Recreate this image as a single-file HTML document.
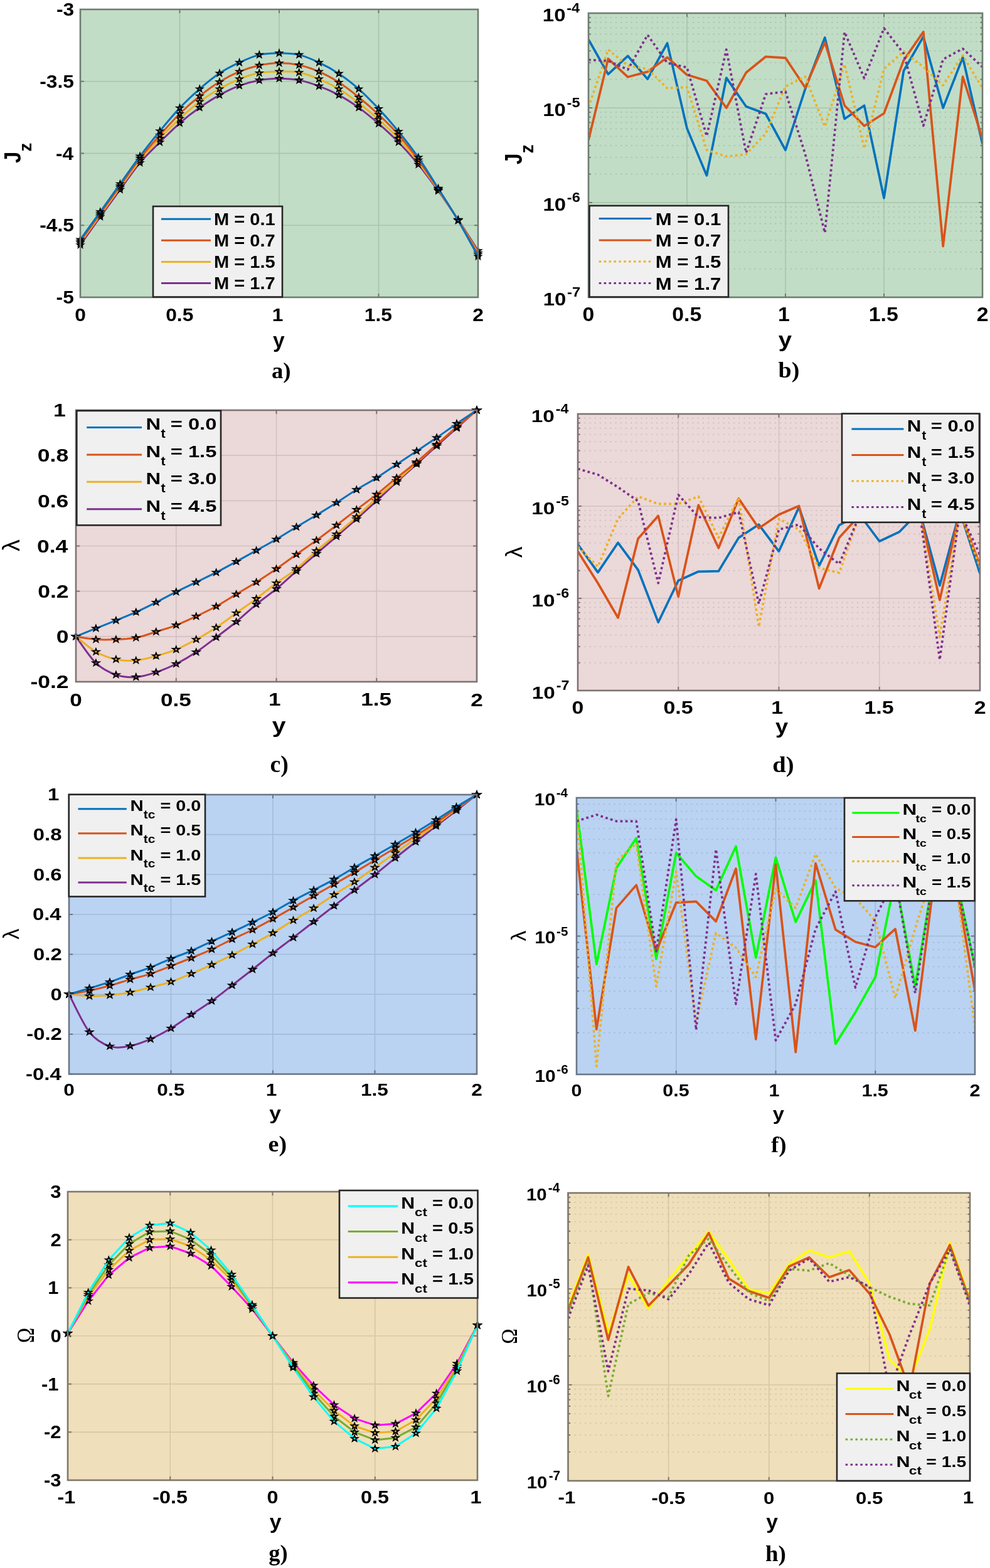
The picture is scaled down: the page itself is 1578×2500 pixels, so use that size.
<!DOCTYPE html>
<html><head><meta charset="utf-8"><title>Figure</title>
<style>html,body{margin:0;padding:0;background:#fff;}svg{display:block;}</style></head>
<body><svg xmlns="http://www.w3.org/2000/svg" width="1578" height="2500" viewBox="0 0 1578 2500">
<rect width="1578" height="2500" fill="#fff"/>
<rect x="128" y="15" width="634" height="459" fill="#c2ddc6"/>
<line x1="286.5" y1="15" x2="286.5" y2="474" stroke="#a9c3ad" stroke-width="1.6"/>
<line x1="445" y1="15" x2="445" y2="474" stroke="#a9c3ad" stroke-width="1.6"/>
<line x1="603.5" y1="15" x2="603.5" y2="474" stroke="#a9c3ad" stroke-width="1.6"/>
<line x1="128" y1="359.25" x2="762" y2="359.25" stroke="#a9c3ad" stroke-width="1.6"/>
<line x1="128" y1="244.5" x2="762" y2="244.5" stroke="#a9c3ad" stroke-width="1.6"/>
<line x1="128" y1="129.75" x2="762" y2="129.75" stroke="#a9c3ad" stroke-width="1.6"/>
<path d="M128.0,390.5 C133.3,383.1 149.1,360.5 159.7,345.8 C170.3,331.1 180.8,316.7 191.4,302.4 C202.0,288.0 212.5,272.2 223.1,259.6 C233.7,247.0 244.2,237.4 254.8,226.8 C265.4,216.3 275.9,205.5 286.5,196.3 C297.1,187.1 307.6,179.0 318.2,171.6 C328.8,164.1 339.3,157.4 349.9,151.6 C360.5,145.7 371.0,140.5 381.6,136.6 C392.2,132.6 402.7,129.8 413.3,127.9 C423.9,126.0 434.4,125.3 445.0,125.3 C455.6,125.3 466.1,125.9 476.7,127.9 C487.3,129.9 497.8,133.4 508.4,137.4 C519.0,141.3 529.5,145.9 540.1,151.6 C550.7,157.3 561.2,164.0 571.8,171.6 C582.4,179.2 592.9,187.9 603.5,197.1 C614.1,206.3 624.6,215.9 635.2,226.7 C645.8,237.6 656.3,249.3 666.9,262.2 C677.5,275.2 688.0,289.6 698.6,304.3 C709.2,319.0 719.7,334.5 730.3,350.4 C740.9,366.3 756.7,391.5 762.0,399.7" fill="none" stroke="#7E2F8E" stroke-width="3.0" stroke-linejoin="round"/>
<polygon points="128.0,385.5 129.2,388.9 133.0,389.0 130.0,391.1 131.1,394.6 128.0,392.5 124.9,394.6 126.0,391.1 123.0,389.0 126.8,388.9" fill="none" stroke="#000" stroke-width="1.9" stroke-linejoin="miter" stroke-miterlimit="6"/>
<polygon points="159.7,340.8 160.9,344.2 164.7,344.2 161.7,346.4 162.8,349.8 159.7,347.8 156.6,349.8 157.7,346.4 154.7,344.2 158.5,344.2" fill="none" stroke="#000" stroke-width="1.9" stroke-linejoin="miter" stroke-miterlimit="6"/>
<polygon points="191.4,297.4 192.6,300.8 196.4,300.8 193.4,303.0 194.5,306.4 191.4,304.4 188.3,306.4 189.4,303.0 186.4,300.8 190.2,300.8" fill="none" stroke="#000" stroke-width="1.9" stroke-linejoin="miter" stroke-miterlimit="6"/>
<polygon points="223.1,254.6 224.3,258.0 228.1,258.1 225.1,260.2 226.2,263.7 223.1,261.6 220.0,263.7 221.1,260.2 218.1,258.1 221.9,258.0" fill="none" stroke="#000" stroke-width="1.9" stroke-linejoin="miter" stroke-miterlimit="6"/>
<polygon points="254.8,221.8 256.0,225.2 259.8,225.3 256.8,227.5 257.9,230.9 254.8,228.8 251.7,230.9 252.8,227.5 249.8,225.3 253.6,225.2" fill="none" stroke="#000" stroke-width="1.9" stroke-linejoin="miter" stroke-miterlimit="6"/>
<polygon points="286.5,191.3 287.7,194.7 291.5,194.8 288.5,196.9 289.6,200.4 286.5,198.3 283.4,200.4 284.5,196.9 281.5,194.8 285.3,194.7" fill="none" stroke="#000" stroke-width="1.9" stroke-linejoin="miter" stroke-miterlimit="6"/>
<polygon points="318.2,166.6 319.4,170.0 323.2,170.0 320.2,172.2 321.3,175.6 318.2,173.6 315.1,175.6 316.2,172.2 313.2,170.0 317.0,170.0" fill="none" stroke="#000" stroke-width="1.9" stroke-linejoin="miter" stroke-miterlimit="6"/>
<polygon points="349.9,146.6 351.1,150.0 354.9,150.0 351.9,152.2 353.0,155.6 349.9,153.6 346.8,155.6 347.9,152.2 344.9,150.0 348.7,150.0" fill="none" stroke="#000" stroke-width="1.9" stroke-linejoin="miter" stroke-miterlimit="6"/>
<polygon points="381.6,131.6 382.8,135.0 386.6,135.0 383.6,137.2 384.7,140.6 381.6,138.6 378.5,140.6 379.6,137.2 376.6,135.0 380.4,135.0" fill="none" stroke="#000" stroke-width="1.9" stroke-linejoin="miter" stroke-miterlimit="6"/>
<polygon points="413.3,122.9 414.5,126.3 418.3,126.3 415.3,128.5 416.4,131.9 413.3,129.9 410.2,131.9 411.3,128.5 408.3,126.3 412.1,126.3" fill="none" stroke="#000" stroke-width="1.9" stroke-linejoin="miter" stroke-miterlimit="6"/>
<polygon points="445.0,120.3 446.2,123.6 450.0,123.7 447.0,125.9 448.1,129.3 445.0,127.3 441.9,129.3 443.0,125.9 440.0,123.7 443.8,123.6" fill="none" stroke="#000" stroke-width="1.9" stroke-linejoin="miter" stroke-miterlimit="6"/>
<polygon points="476.7,122.9 477.9,126.3 481.7,126.3 478.7,128.5 479.8,131.9 476.7,129.9 473.6,131.9 474.7,128.5 471.7,126.3 475.5,126.3" fill="none" stroke="#000" stroke-width="1.9" stroke-linejoin="miter" stroke-miterlimit="6"/>
<polygon points="508.4,132.4 509.6,135.8 513.4,135.8 510.4,138.0 511.5,141.4 508.4,139.4 505.3,141.4 506.4,138.0 503.4,135.8 507.2,135.8" fill="none" stroke="#000" stroke-width="1.9" stroke-linejoin="miter" stroke-miterlimit="6"/>
<polygon points="540.1,146.6 541.3,150.0 545.1,150.0 542.1,152.2 543.2,155.6 540.1,153.6 537.0,155.6 538.1,152.2 535.1,150.0 538.9,150.0" fill="none" stroke="#000" stroke-width="1.9" stroke-linejoin="miter" stroke-miterlimit="6"/>
<polygon points="571.8,166.6 573.0,170.0 576.8,170.0 573.8,172.2 574.9,175.6 571.8,173.6 568.7,175.6 569.8,172.2 566.8,170.0 570.6,170.0" fill="none" stroke="#000" stroke-width="1.9" stroke-linejoin="miter" stroke-miterlimit="6"/>
<polygon points="603.5,192.1 604.7,195.5 608.5,195.6 605.5,197.7 606.6,201.2 603.5,199.1 600.4,201.2 601.5,197.7 598.5,195.6 602.3,195.5" fill="none" stroke="#000" stroke-width="1.9" stroke-linejoin="miter" stroke-miterlimit="6"/>
<polygon points="635.2,221.7 636.4,225.1 640.2,225.2 637.2,227.3 638.3,230.8 635.2,228.7 632.1,230.8 633.2,227.3 630.2,225.2 634.0,225.1" fill="none" stroke="#000" stroke-width="1.9" stroke-linejoin="miter" stroke-miterlimit="6"/>
<polygon points="666.9,257.2 668.1,260.6 671.9,260.7 668.9,262.9 670.0,266.3 666.9,264.2 663.8,266.3 664.9,262.9 661.9,260.7 665.7,260.6" fill="none" stroke="#000" stroke-width="1.9" stroke-linejoin="miter" stroke-miterlimit="6"/>
<polygon points="698.6,299.3 699.8,302.7 703.6,302.8 700.6,305.0 701.7,308.4 698.6,306.3 695.5,308.4 696.6,305.0 693.6,302.8 697.4,302.7" fill="none" stroke="#000" stroke-width="1.9" stroke-linejoin="miter" stroke-miterlimit="6"/>
<polygon points="730.3,345.4 731.5,348.8 735.3,348.8 732.3,351.0 733.4,354.4 730.3,352.4 727.2,354.4 728.3,351.0 725.3,348.8 729.1,348.8" fill="none" stroke="#000" stroke-width="1.9" stroke-linejoin="miter" stroke-miterlimit="6"/>
<polygon points="762.0,394.7 763.2,398.1 767.0,398.2 764.0,400.4 765.1,403.8 762.0,401.7 758.9,403.8 760.0,400.4 757.0,398.2 760.8,398.1" fill="none" stroke="#000" stroke-width="1.9" stroke-linejoin="miter" stroke-miterlimit="6"/>
<path d="M128.0,387.2 C133.3,379.9 149.1,357.9 159.7,343.2 C170.3,328.5 180.8,313.6 191.4,299.1 C202.0,284.6 212.5,269.1 223.1,256.1 C233.7,243.0 244.2,231.9 254.8,220.8 C265.4,209.6 275.9,199.0 286.5,189.2 C297.1,179.4 307.6,170.0 318.2,162.1 C328.8,154.2 339.3,147.9 349.9,141.8 C360.5,135.8 371.0,130.3 381.6,126.1 C392.2,121.8 402.7,118.3 413.3,116.3 C423.9,114.3 434.4,114.3 445.0,114.2 C455.6,114.1 466.1,113.6 476.7,115.5 C487.3,117.5 497.8,121.7 508.4,126.1 C519.0,130.4 529.5,135.5 540.1,141.8 C550.7,148.2 561.2,156.1 571.8,164.2 C582.4,172.3 592.9,181.1 603.5,190.5 C614.1,200.0 624.6,209.4 635.2,220.8 C645.8,232.1 656.3,245.0 666.9,258.7 C677.5,272.4 688.0,287.7 698.6,303.0 C709.2,318.4 719.7,334.1 730.3,350.8 C740.9,367.5 756.7,394.3 762.0,403.0" fill="none" stroke="#EDB120" stroke-width="3.0" stroke-linejoin="round"/>
<polygon points="128.0,382.2 129.2,385.6 133.0,385.7 130.0,387.9 131.1,391.3 128.0,389.2 124.9,391.3 126.0,387.9 123.0,385.7 126.8,385.6" fill="none" stroke="#000" stroke-width="1.9" stroke-linejoin="miter" stroke-miterlimit="6"/>
<polygon points="159.7,338.2 160.9,341.5 164.7,341.6 161.7,343.8 162.8,347.2 159.7,345.2 156.6,347.2 157.7,343.8 154.7,341.6 158.5,341.5" fill="none" stroke="#000" stroke-width="1.9" stroke-linejoin="miter" stroke-miterlimit="6"/>
<polygon points="191.4,294.1 192.6,297.5 196.4,297.5 193.4,299.7 194.5,303.1 191.4,301.1 188.3,303.1 189.4,299.7 186.4,297.5 190.2,297.5" fill="none" stroke="#000" stroke-width="1.9" stroke-linejoin="miter" stroke-miterlimit="6"/>
<polygon points="223.1,251.1 224.3,254.4 228.1,254.5 225.1,256.7 226.2,260.1 223.1,258.1 220.0,260.1 221.1,256.7 218.1,254.5 221.9,254.4" fill="none" stroke="#000" stroke-width="1.9" stroke-linejoin="miter" stroke-miterlimit="6"/>
<polygon points="254.8,215.8 256.0,219.2 259.8,219.2 256.8,221.4 257.9,224.8 254.8,222.8 251.7,224.8 252.8,221.4 249.8,219.2 253.6,219.2" fill="none" stroke="#000" stroke-width="1.9" stroke-linejoin="miter" stroke-miterlimit="6"/>
<polygon points="286.5,184.2 287.7,187.6 291.5,187.7 288.5,189.8 289.6,193.3 286.5,191.2 283.4,193.3 284.5,189.8 281.5,187.7 285.3,187.6" fill="none" stroke="#000" stroke-width="1.9" stroke-linejoin="miter" stroke-miterlimit="6"/>
<polygon points="318.2,157.1 319.4,160.5 323.2,160.6 320.2,162.7 321.3,166.2 318.2,164.1 315.1,166.2 316.2,162.7 313.2,160.6 317.0,160.5" fill="none" stroke="#000" stroke-width="1.9" stroke-linejoin="miter" stroke-miterlimit="6"/>
<polygon points="349.9,136.8 351.1,140.2 354.9,140.3 351.9,142.5 353.0,145.9 349.9,143.8 346.8,145.9 347.9,142.5 344.9,140.3 348.7,140.2" fill="none" stroke="#000" stroke-width="1.9" stroke-linejoin="miter" stroke-miterlimit="6"/>
<polygon points="381.6,121.1 382.8,124.4 386.6,124.5 383.6,126.7 384.7,130.1 381.6,128.1 378.5,130.1 379.6,126.7 376.6,124.5 380.4,124.4" fill="none" stroke="#000" stroke-width="1.9" stroke-linejoin="miter" stroke-miterlimit="6"/>
<polygon points="413.3,111.3 414.5,114.7 418.3,114.8 415.3,116.9 416.4,120.4 413.3,118.3 410.2,120.4 411.3,116.9 408.3,114.8 412.1,114.7" fill="none" stroke="#000" stroke-width="1.9" stroke-linejoin="miter" stroke-miterlimit="6"/>
<polygon points="445.0,109.2 446.2,112.6 450.0,112.7 447.0,114.8 448.1,118.3 445.0,116.2 441.9,118.3 443.0,114.8 440.0,112.7 443.8,112.6" fill="none" stroke="#000" stroke-width="1.9" stroke-linejoin="miter" stroke-miterlimit="6"/>
<polygon points="476.7,110.5 477.9,113.9 481.7,114.0 478.7,116.1 479.8,119.6 476.7,117.5 473.6,119.6 474.7,116.1 471.7,114.0 475.5,113.9" fill="none" stroke="#000" stroke-width="1.9" stroke-linejoin="miter" stroke-miterlimit="6"/>
<polygon points="508.4,121.1 509.6,124.4 513.4,124.5 510.4,126.7 511.5,130.1 508.4,128.1 505.3,130.1 506.4,126.7 503.4,124.5 507.2,124.4" fill="none" stroke="#000" stroke-width="1.9" stroke-linejoin="miter" stroke-miterlimit="6"/>
<polygon points="540.1,136.8 541.3,140.2 545.1,140.3 542.1,142.5 543.2,145.9 540.1,143.8 537.0,145.9 538.1,142.5 535.1,140.3 538.9,140.2" fill="none" stroke="#000" stroke-width="1.9" stroke-linejoin="miter" stroke-miterlimit="6"/>
<polygon points="571.8,159.2 573.0,162.6 576.8,162.7 573.8,164.8 574.9,168.3 571.8,166.2 568.7,168.3 569.8,164.8 566.8,162.7 570.6,162.6" fill="none" stroke="#000" stroke-width="1.9" stroke-linejoin="miter" stroke-miterlimit="6"/>
<polygon points="603.5,185.5 604.7,188.9 608.5,189.0 605.5,191.1 606.6,194.6 603.5,192.5 600.4,194.6 601.5,191.1 598.5,189.0 602.3,188.9" fill="none" stroke="#000" stroke-width="1.9" stroke-linejoin="miter" stroke-miterlimit="6"/>
<polygon points="635.2,215.8 636.4,219.2 640.2,219.2 637.2,221.4 638.3,224.8 635.2,222.8 632.1,224.8 633.2,221.4 630.2,219.2 634.0,219.2" fill="none" stroke="#000" stroke-width="1.9" stroke-linejoin="miter" stroke-miterlimit="6"/>
<polygon points="666.9,253.7 668.1,257.1 671.9,257.1 668.9,259.3 670.0,262.7 666.9,260.7 663.8,262.7 664.9,259.3 661.9,257.1 665.7,257.1" fill="none" stroke="#000" stroke-width="1.9" stroke-linejoin="miter" stroke-miterlimit="6"/>
<polygon points="698.6,298.0 699.8,301.4 703.6,301.5 700.6,303.6 701.7,307.1 698.6,305.0 695.5,307.1 696.6,303.6 693.6,301.5 697.4,301.4" fill="none" stroke="#000" stroke-width="1.9" stroke-linejoin="miter" stroke-miterlimit="6"/>
<polygon points="730.3,345.8 731.5,349.2 735.3,349.2 732.3,351.4 733.4,354.8 730.3,352.8 727.2,354.8 728.3,351.4 725.3,349.2 729.1,349.2" fill="none" stroke="#000" stroke-width="1.9" stroke-linejoin="miter" stroke-miterlimit="6"/>
<polygon points="762.0,398.0 763.2,401.4 767.0,401.5 764.0,403.6 765.1,407.1 762.0,405.0 758.9,407.1 760.0,403.6 757.0,401.5 760.8,401.4" fill="none" stroke="#000" stroke-width="1.9" stroke-linejoin="miter" stroke-miterlimit="6"/>
<path d="M128.0,384.6 C133.3,377.3 149.1,355.2 159.7,340.5 C170.3,325.8 180.8,311.1 191.4,296.4 C202.0,281.8 212.5,265.9 223.1,252.4 C233.7,238.9 244.2,227.4 254.8,215.5 C265.4,203.7 275.9,191.7 286.5,181.3 C297.1,170.9 307.6,161.6 318.2,153.2 C328.8,144.7 339.3,137.0 349.9,130.5 C360.5,124.0 371.0,118.6 381.6,114.2 C392.2,109.8 402.7,106.5 413.3,104.2 C423.9,101.9 434.4,100.6 445.0,100.5 C455.6,100.4 466.1,101.4 476.7,103.7 C487.3,106.0 497.8,109.6 508.4,114.2 C519.0,118.8 529.5,124.5 540.1,131.3 C550.7,138.1 561.2,146.4 571.8,155.0 C582.4,163.6 592.9,172.7 603.5,182.6 C614.1,192.6 624.6,202.8 635.2,214.9 C645.8,226.9 656.3,240.5 666.9,255.0 C677.5,269.5 688.0,285.7 698.6,301.7 C709.2,317.7 719.7,333.7 730.3,351.1 C740.9,368.4 756.7,396.6 762.0,405.7" fill="none" stroke="#D95319" stroke-width="3.0" stroke-linejoin="round"/>
<polygon points="128.0,379.6 129.2,383.0 133.0,383.1 130.0,385.2 131.1,388.7 128.0,386.6 124.9,388.7 126.0,385.2 123.0,383.1 126.8,383.0" fill="none" stroke="#000" stroke-width="1.9" stroke-linejoin="miter" stroke-miterlimit="6"/>
<polygon points="159.7,335.5 160.9,338.9 164.7,339.0 161.7,341.1 162.8,344.6 159.7,342.5 156.6,344.6 157.7,341.1 154.7,339.0 158.5,338.9" fill="none" stroke="#000" stroke-width="1.9" stroke-linejoin="miter" stroke-miterlimit="6"/>
<polygon points="191.4,291.4 192.6,294.8 196.4,294.9 193.4,297.1 194.5,300.5 191.4,298.4 188.3,300.5 189.4,297.1 186.4,294.9 190.2,294.8" fill="none" stroke="#000" stroke-width="1.9" stroke-linejoin="miter" stroke-miterlimit="6"/>
<polygon points="223.1,247.4 224.3,250.8 228.1,250.8 225.1,253.0 226.2,256.4 223.1,254.4 220.0,256.4 221.1,253.0 218.1,250.8 221.9,250.8" fill="none" stroke="#000" stroke-width="1.9" stroke-linejoin="miter" stroke-miterlimit="6"/>
<polygon points="254.8,210.5 256.0,213.9 259.8,214.0 256.8,216.1 257.9,219.6 254.8,217.5 251.7,219.6 252.8,216.1 249.8,214.0 253.6,213.9" fill="none" stroke="#000" stroke-width="1.9" stroke-linejoin="miter" stroke-miterlimit="6"/>
<polygon points="286.5,176.3 287.7,179.7 291.5,179.8 288.5,181.9 289.6,185.4 286.5,183.3 283.4,185.4 284.5,181.9 281.5,179.8 285.3,179.7" fill="none" stroke="#000" stroke-width="1.9" stroke-linejoin="miter" stroke-miterlimit="6"/>
<polygon points="318.2,148.2 319.4,151.5 323.2,151.6 320.2,153.8 321.3,157.2 318.2,155.2 315.1,157.2 316.2,153.8 313.2,151.6 317.0,151.5" fill="none" stroke="#000" stroke-width="1.9" stroke-linejoin="miter" stroke-miterlimit="6"/>
<polygon points="349.9,125.5 351.1,128.9 354.9,129.0 351.9,131.1 353.0,134.6 349.9,132.5 346.8,134.6 347.9,131.1 344.9,129.0 348.7,128.9" fill="none" stroke="#000" stroke-width="1.9" stroke-linejoin="miter" stroke-miterlimit="6"/>
<polygon points="381.6,109.2 382.8,112.6 386.6,112.7 383.6,114.8 384.7,118.3 381.6,116.2 378.5,118.3 379.6,114.8 376.6,112.7 380.4,112.6" fill="none" stroke="#000" stroke-width="1.9" stroke-linejoin="miter" stroke-miterlimit="6"/>
<polygon points="413.3,99.2 414.5,102.6 418.3,102.7 415.3,104.8 416.4,108.3 413.3,106.2 410.2,108.3 411.3,104.8 408.3,102.7 412.1,102.6" fill="none" stroke="#000" stroke-width="1.9" stroke-linejoin="miter" stroke-miterlimit="6"/>
<polygon points="445.0,95.5 446.2,98.9 450.0,99.0 447.0,101.1 448.1,104.6 445.0,102.5 441.9,104.6 443.0,101.1 440.0,99.0 443.8,98.9" fill="none" stroke="#000" stroke-width="1.9" stroke-linejoin="miter" stroke-miterlimit="6"/>
<polygon points="476.7,98.7 477.9,102.1 481.7,102.1 478.7,104.3 479.8,107.7 476.7,105.7 473.6,107.7 474.7,104.3 471.7,102.1 475.5,102.1" fill="none" stroke="#000" stroke-width="1.9" stroke-linejoin="miter" stroke-miterlimit="6"/>
<polygon points="508.4,109.2 509.6,112.6 513.4,112.7 510.4,114.8 511.5,118.3 508.4,116.2 505.3,118.3 506.4,114.8 503.4,112.7 507.2,112.6" fill="none" stroke="#000" stroke-width="1.9" stroke-linejoin="miter" stroke-miterlimit="6"/>
<polygon points="540.1,126.3 541.3,129.7 545.1,129.8 542.1,131.9 543.2,135.4 540.1,133.3 537.0,135.4 538.1,131.9 535.1,129.8 538.9,129.7" fill="none" stroke="#000" stroke-width="1.9" stroke-linejoin="miter" stroke-miterlimit="6"/>
<polygon points="571.8,150.0 573.0,153.4 576.8,153.5 573.8,155.6 574.9,159.0 571.8,157.0 568.7,159.0 569.8,155.6 566.8,153.5 570.6,153.4" fill="none" stroke="#000" stroke-width="1.9" stroke-linejoin="miter" stroke-miterlimit="6"/>
<polygon points="603.5,177.6 604.7,181.0 608.5,181.1 605.5,183.2 606.6,186.7 603.5,184.6 600.4,186.7 601.5,183.2 598.5,181.1 602.3,181.0" fill="none" stroke="#000" stroke-width="1.9" stroke-linejoin="miter" stroke-miterlimit="6"/>
<polygon points="635.2,209.9 636.4,213.3 640.2,213.3 637.2,215.5 638.3,218.9 635.2,216.9 632.1,218.9 633.2,215.5 630.2,213.3 634.0,213.3" fill="none" stroke="#000" stroke-width="1.9" stroke-linejoin="miter" stroke-miterlimit="6"/>
<polygon points="666.9,250.0 668.1,253.4 671.9,253.5 668.9,255.6 670.0,259.0 666.9,257.0 663.8,259.0 664.9,255.6 661.9,253.5 665.7,253.4" fill="none" stroke="#000" stroke-width="1.9" stroke-linejoin="miter" stroke-miterlimit="6"/>
<polygon points="698.6,296.7 699.8,300.1 703.6,300.2 700.6,302.3 701.7,305.8 698.6,303.7 695.5,305.8 696.6,302.3 693.6,300.2 697.4,300.1" fill="none" stroke="#000" stroke-width="1.9" stroke-linejoin="miter" stroke-miterlimit="6"/>
<polygon points="730.3,346.1 731.5,349.4 735.3,349.5 732.3,351.7 733.4,355.1 730.3,353.1 727.2,355.1 728.3,351.7 725.3,349.5 729.1,349.4" fill="none" stroke="#000" stroke-width="1.9" stroke-linejoin="miter" stroke-miterlimit="6"/>
<polygon points="762.0,400.7 763.2,404.0 767.0,404.1 764.0,406.3 765.1,409.7 762.0,407.7 758.9,409.7 760.0,406.3 757.0,404.1 760.8,404.0" fill="none" stroke="#000" stroke-width="1.9" stroke-linejoin="miter" stroke-miterlimit="6"/>
<path d="M128.0,382.0 C133.3,374.6 149.1,352.7 159.7,337.9 C170.3,323.1 180.8,308.0 191.4,293.2 C202.0,278.4 212.5,263.1 223.1,249.1 C233.7,235.0 244.2,221.8 254.8,208.9 C265.4,196.1 275.9,183.3 286.5,172.1 C297.1,160.9 307.6,151.1 318.2,141.8 C328.8,132.6 339.3,123.9 349.9,116.8 C360.5,109.8 371.0,104.6 381.6,99.7 C392.2,94.8 402.7,89.9 413.3,87.4 C423.9,84.9 434.4,84.7 445.0,84.7 C455.6,84.7 466.1,84.9 476.7,87.4 C487.3,89.9 497.8,94.7 508.4,99.7 C519.0,104.7 529.5,110.4 540.1,117.4 C550.7,124.4 561.2,132.5 571.8,141.8 C582.4,151.2 592.9,162.1 603.5,173.4 C614.1,184.7 624.6,196.7 635.2,209.6 C645.8,222.5 656.3,235.9 666.9,251.1 C677.5,266.2 688.0,283.6 698.6,300.4 C709.2,317.2 719.7,333.6 730.3,351.7 C740.9,369.8 756.7,399.4 762.0,408.9" fill="none" stroke="#0072BD" stroke-width="3.0" stroke-linejoin="round"/>
<polygon points="128.0,377.0 129.2,380.4 133.0,380.4 130.0,382.6 131.1,386.0 128.0,384.0 124.9,386.0 126.0,382.6 123.0,380.4 126.8,380.4" fill="none" stroke="#000" stroke-width="1.9" stroke-linejoin="miter" stroke-miterlimit="6"/>
<polygon points="159.7,332.9 160.9,336.3 164.7,336.3 161.7,338.5 162.8,341.9 159.7,339.9 156.6,341.9 157.7,338.5 154.7,336.3 158.5,336.3" fill="none" stroke="#000" stroke-width="1.9" stroke-linejoin="miter" stroke-miterlimit="6"/>
<polygon points="191.4,288.2 192.6,291.5 196.4,291.6 193.4,293.8 194.5,297.2 191.4,295.2 188.3,297.2 189.4,293.8 186.4,291.6 190.2,291.5" fill="none" stroke="#000" stroke-width="1.9" stroke-linejoin="miter" stroke-miterlimit="6"/>
<polygon points="223.1,244.1 224.3,247.5 228.1,247.5 225.1,249.7 226.2,253.1 223.1,251.1 220.0,253.1 221.1,249.7 218.1,247.5 221.9,247.5" fill="none" stroke="#000" stroke-width="1.9" stroke-linejoin="miter" stroke-miterlimit="6"/>
<polygon points="254.8,203.9 256.0,207.3 259.8,207.4 256.8,209.6 257.9,213.0 254.8,210.9 251.7,213.0 252.8,209.6 249.8,207.4 253.6,207.3" fill="none" stroke="#000" stroke-width="1.9" stroke-linejoin="miter" stroke-miterlimit="6"/>
<polygon points="286.5,167.1 287.7,170.5 291.5,170.6 288.5,172.7 289.6,176.2 286.5,174.1 283.4,176.2 284.5,172.7 281.5,170.6 285.3,170.5" fill="none" stroke="#000" stroke-width="1.9" stroke-linejoin="miter" stroke-miterlimit="6"/>
<polygon points="318.2,136.8 319.4,140.2 323.2,140.3 320.2,142.5 321.3,145.9 318.2,143.8 315.1,145.9 316.2,142.5 313.2,140.3 317.0,140.2" fill="none" stroke="#000" stroke-width="1.9" stroke-linejoin="miter" stroke-miterlimit="6"/>
<polygon points="349.9,111.8 351.1,115.2 354.9,115.3 351.9,117.5 353.0,120.9 349.9,118.8 346.8,120.9 347.9,117.5 344.9,115.3 348.7,115.2" fill="none" stroke="#000" stroke-width="1.9" stroke-linejoin="miter" stroke-miterlimit="6"/>
<polygon points="381.6,94.7 382.8,98.1 386.6,98.2 383.6,100.4 384.7,103.8 381.6,101.7 378.5,103.8 379.6,100.4 376.6,98.2 380.4,98.1" fill="none" stroke="#000" stroke-width="1.9" stroke-linejoin="miter" stroke-miterlimit="6"/>
<polygon points="413.3,82.4 414.5,85.8 418.3,85.8 415.3,88.0 416.4,91.4 413.3,89.4 410.2,91.4 411.3,88.0 408.3,85.8 412.1,85.8" fill="none" stroke="#000" stroke-width="1.9" stroke-linejoin="miter" stroke-miterlimit="6"/>
<polygon points="445.0,79.7 446.2,83.1 450.0,83.2 447.0,85.4 448.1,88.8 445.0,86.7 441.9,88.8 443.0,85.4 440.0,83.2 443.8,83.1" fill="none" stroke="#000" stroke-width="1.9" stroke-linejoin="miter" stroke-miterlimit="6"/>
<polygon points="476.7,82.4 477.9,85.8 481.7,85.8 478.7,88.0 479.8,91.4 476.7,89.4 473.6,91.4 474.7,88.0 471.7,85.8 475.5,85.8" fill="none" stroke="#000" stroke-width="1.9" stroke-linejoin="miter" stroke-miterlimit="6"/>
<polygon points="508.4,94.7 509.6,98.1 513.4,98.2 510.4,100.4 511.5,103.8 508.4,101.7 505.3,103.8 506.4,100.4 503.4,98.2 507.2,98.1" fill="none" stroke="#000" stroke-width="1.9" stroke-linejoin="miter" stroke-miterlimit="6"/>
<polygon points="540.1,112.4 541.3,115.8 545.1,115.8 542.1,118.0 543.2,121.4 540.1,119.4 537.0,121.4 538.1,118.0 535.1,115.8 538.9,115.8" fill="none" stroke="#000" stroke-width="1.9" stroke-linejoin="miter" stroke-miterlimit="6"/>
<polygon points="571.8,136.8 573.0,140.2 576.8,140.3 573.8,142.5 574.9,145.9 571.8,143.8 568.7,145.9 569.8,142.5 566.8,140.3 570.6,140.2" fill="none" stroke="#000" stroke-width="1.9" stroke-linejoin="miter" stroke-miterlimit="6"/>
<polygon points="603.5,168.4 604.7,171.8 608.5,171.9 605.5,174.0 606.6,177.5 603.5,175.4 600.4,177.5 601.5,174.0 598.5,171.9 602.3,171.8" fill="none" stroke="#000" stroke-width="1.9" stroke-linejoin="miter" stroke-miterlimit="6"/>
<polygon points="635.2,204.6 636.4,208.0 640.2,208.1 637.2,210.2 638.3,213.7 635.2,211.6 632.1,213.7 633.2,210.2 630.2,208.1 634.0,208.0" fill="none" stroke="#000" stroke-width="1.9" stroke-linejoin="miter" stroke-miterlimit="6"/>
<polygon points="666.9,246.1 668.1,249.4 671.9,249.5 668.9,251.7 670.0,255.1 666.9,253.1 663.8,255.1 664.9,251.7 661.9,249.5 665.7,249.4" fill="none" stroke="#000" stroke-width="1.9" stroke-linejoin="miter" stroke-miterlimit="6"/>
<polygon points="698.6,295.4 699.8,298.8 703.6,298.8 700.6,301.0 701.7,304.4 698.6,302.4 695.5,304.4 696.6,301.0 693.6,298.8 697.4,298.8" fill="none" stroke="#000" stroke-width="1.9" stroke-linejoin="miter" stroke-miterlimit="6"/>
<polygon points="730.3,346.7 731.5,350.1 735.3,350.2 732.3,352.3 733.4,355.8 730.3,353.7 727.2,355.8 728.3,352.3 725.3,350.2 729.1,350.1" fill="none" stroke="#000" stroke-width="1.9" stroke-linejoin="miter" stroke-miterlimit="6"/>
<polygon points="762.0,403.9 763.2,407.3 767.0,407.4 764.0,409.6 765.1,413.0 762.0,410.9 758.9,413.0 760.0,409.6 757.0,407.4 760.8,407.3" fill="none" stroke="#000" stroke-width="1.9" stroke-linejoin="miter" stroke-miterlimit="6"/>
<line x1="128" y1="474" x2="128" y2="468" stroke="#6f7c72" stroke-width="2"/>
<line x1="128" y1="15" x2="128" y2="21" stroke="#6f7c72" stroke-width="2"/>
<line x1="286.5" y1="474" x2="286.5" y2="468" stroke="#6f7c72" stroke-width="2"/>
<line x1="286.5" y1="15" x2="286.5" y2="21" stroke="#6f7c72" stroke-width="2"/>
<line x1="445" y1="474" x2="445" y2="468" stroke="#6f7c72" stroke-width="2"/>
<line x1="445" y1="15" x2="445" y2="21" stroke="#6f7c72" stroke-width="2"/>
<line x1="603.5" y1="474" x2="603.5" y2="468" stroke="#6f7c72" stroke-width="2"/>
<line x1="603.5" y1="15" x2="603.5" y2="21" stroke="#6f7c72" stroke-width="2"/>
<line x1="762" y1="474" x2="762" y2="468" stroke="#6f7c72" stroke-width="2"/>
<line x1="762" y1="15" x2="762" y2="21" stroke="#6f7c72" stroke-width="2"/>
<line x1="128" y1="474" x2="134" y2="474" stroke="#6f7c72" stroke-width="2"/>
<line x1="762" y1="474" x2="756" y2="474" stroke="#6f7c72" stroke-width="2"/>
<line x1="128" y1="359.25" x2="134" y2="359.25" stroke="#6f7c72" stroke-width="2"/>
<line x1="762" y1="359.25" x2="756" y2="359.25" stroke="#6f7c72" stroke-width="2"/>
<line x1="128" y1="244.5" x2="134" y2="244.5" stroke="#6f7c72" stroke-width="2"/>
<line x1="762" y1="244.5" x2="756" y2="244.5" stroke="#6f7c72" stroke-width="2"/>
<line x1="128" y1="129.75" x2="134" y2="129.75" stroke="#6f7c72" stroke-width="2"/>
<line x1="762" y1="129.75" x2="756" y2="129.75" stroke="#6f7c72" stroke-width="2"/>
<line x1="128" y1="15" x2="134" y2="15" stroke="#6f7c72" stroke-width="2"/>
<line x1="762" y1="15" x2="756" y2="15" stroke="#6f7c72" stroke-width="2"/>
<rect x="128" y="15" width="634" height="459" fill="none" stroke="#6f7c72" stroke-width="2.6"/>
<rect x="244" y="329" width="206" height="144.5" fill="#f0f0f0" stroke="#262626" stroke-width="2.6"/>
<line x1="257" y1="349.2" x2="336" y2="349.2" stroke="#0072BD" stroke-width="3"/>
<text transform="translate(341.01,359.10) scale(1.0494,1)" font-family='"Liberation Sans", Arial, Helvetica, sans-serif' font-size="27.71" font-weight="bold" fill="#000">M = 0.1</text>
<line x1="257" y1="383.3" x2="336" y2="383.3" stroke="#D95319" stroke-width="3"/>
<text transform="translate(341.01,393.20) scale(1.0494,1)" font-family='"Liberation Sans", Arial, Helvetica, sans-serif' font-size="27.71" font-weight="bold" fill="#000">M = 0.7</text>
<line x1="257" y1="417.4" x2="336" y2="417.4" stroke="#EDB120" stroke-width="3"/>
<text transform="translate(341.01,427.30) scale(1.0494,1)" font-family='"Liberation Sans", Arial, Helvetica, sans-serif' font-size="27.71" font-weight="bold" fill="#000">M = 1.5</text>
<line x1="257" y1="451.5" x2="336" y2="451.5" stroke="#7E2F8E" stroke-width="3"/>
<text transform="translate(341.01,461.40) scale(1.0494,1)" font-family='"Liberation Sans", Arial, Helvetica, sans-serif' font-size="27.71" font-weight="bold" fill="#000">M = 1.7</text>
<text transform="translate(119.18,512.10) scale(1.0600,1)" font-family='"Liberation Sans", Arial, Helvetica, sans-serif' font-size="30.00" font-weight="bold" fill="#000">0</text>
<text transform="translate(264.16,512.10) scale(1.0600,1)" font-family='"Liberation Sans", Arial, Helvetica, sans-serif' font-size="30.00" font-weight="bold" fill="#000">0.5</text>
<text transform="translate(433.63,511.80) scale(1.0600,1)" font-family='"Liberation Sans", Arial, Helvetica, sans-serif' font-size="30.00" font-weight="bold" fill="#000">1</text>
<text transform="translate(580.76,511.80) scale(1.0600,1)" font-family='"Liberation Sans", Arial, Helvetica, sans-serif' font-size="30.00" font-weight="bold" fill="#000">1.5</text>
<text transform="translate(753.25,512.10) scale(1.0600,1)" font-family='"Liberation Sans", Arial, Helvetica, sans-serif' font-size="30.00" font-weight="bold" fill="#000">2</text>
<text transform="translate(89.57,484.20) scale(1.0570,1)" font-family='"Liberation Sans", Arial, Helvetica, sans-serif' font-size="30.00" font-weight="bold" fill="#000">-5</text>
<text transform="translate(63.25,369.45) scale(1.0570,1)" font-family='"Liberation Sans", Arial, Helvetica, sans-serif' font-size="30.00" font-weight="bold" fill="#000">-4.5</text>
<text transform="translate(88.94,254.85) scale(1.0570,1)" font-family='"Liberation Sans", Arial, Helvetica, sans-serif' font-size="30.00" font-weight="bold" fill="#000">-4</text>
<text transform="translate(63.25,140.10) scale(1.0570,1)" font-family='"Liberation Sans", Arial, Helvetica, sans-serif' font-size="30.00" font-weight="bold" fill="#000">-3.5</text>
<text transform="translate(89.89,25.35) scale(1.0570,1)" font-family='"Liberation Sans", Arial, Helvetica, sans-serif' font-size="30.00" font-weight="bold" fill="#000">-3</text>
<rect x="938" y="21" width="628" height="453" fill="#c2ddc6"/>
<line x1="1095" y1="21" x2="1095" y2="474" stroke="#a9c3ad" stroke-width="1.6"/>
<line x1="1252" y1="21" x2="1252" y2="474" stroke="#a9c3ad" stroke-width="1.6"/>
<line x1="1409" y1="21" x2="1409" y2="474" stroke="#a9c3ad" stroke-width="1.6"/>
<line x1="938" y1="323" x2="1566" y2="323" stroke="#a9c3ad" stroke-width="1.6"/>
<line x1="938" y1="172" x2="1566" y2="172" stroke="#a9c3ad" stroke-width="1.6"/>
<line x1="940" y1="428.54" x2="1566" y2="428.54" stroke="#a9c3ad" stroke-width="1.8" stroke-dasharray="2.2,6.0"/>
<line x1="938" y1="428.54" x2="941.6" y2="428.54" stroke="#6f7c72" stroke-width="2"/>
<line x1="1566" y1="428.54" x2="1562.4" y2="428.54" stroke="#6f7c72" stroke-width="2"/>
<line x1="940" y1="401.95" x2="1566" y2="401.95" stroke="#a9c3ad" stroke-width="1.8" stroke-dasharray="2.2,6.0"/>
<line x1="938" y1="401.95" x2="941.6" y2="401.95" stroke="#6f7c72" stroke-width="2"/>
<line x1="1566" y1="401.95" x2="1562.4" y2="401.95" stroke="#6f7c72" stroke-width="2"/>
<line x1="940" y1="383.09" x2="1566" y2="383.09" stroke="#a9c3ad" stroke-width="1.8" stroke-dasharray="2.2,6.0"/>
<line x1="938" y1="383.09" x2="941.6" y2="383.09" stroke="#6f7c72" stroke-width="2"/>
<line x1="1566" y1="383.09" x2="1562.4" y2="383.09" stroke="#6f7c72" stroke-width="2"/>
<line x1="940" y1="368.46" x2="1566" y2="368.46" stroke="#a9c3ad" stroke-width="1.8" stroke-dasharray="2.2,6.0"/>
<line x1="938" y1="368.46" x2="941.6" y2="368.46" stroke="#6f7c72" stroke-width="2"/>
<line x1="1566" y1="368.46" x2="1562.4" y2="368.46" stroke="#6f7c72" stroke-width="2"/>
<line x1="940" y1="356.5" x2="1566" y2="356.5" stroke="#a9c3ad" stroke-width="1.8" stroke-dasharray="2.2,6.0"/>
<line x1="938" y1="356.5" x2="941.6" y2="356.5" stroke="#6f7c72" stroke-width="2"/>
<line x1="1566" y1="356.5" x2="1562.4" y2="356.5" stroke="#6f7c72" stroke-width="2"/>
<line x1="940" y1="346.39" x2="1566" y2="346.39" stroke="#a9c3ad" stroke-width="1.8" stroke-dasharray="2.2,6.0"/>
<line x1="938" y1="346.39" x2="941.6" y2="346.39" stroke="#6f7c72" stroke-width="2"/>
<line x1="1566" y1="346.39" x2="1562.4" y2="346.39" stroke="#6f7c72" stroke-width="2"/>
<line x1="940" y1="337.63" x2="1566" y2="337.63" stroke="#a9c3ad" stroke-width="1.8" stroke-dasharray="2.2,6.0"/>
<line x1="938" y1="337.63" x2="941.6" y2="337.63" stroke="#6f7c72" stroke-width="2"/>
<line x1="1566" y1="337.63" x2="1562.4" y2="337.63" stroke="#6f7c72" stroke-width="2"/>
<line x1="940" y1="329.91" x2="1566" y2="329.91" stroke="#a9c3ad" stroke-width="1.8" stroke-dasharray="2.2,6.0"/>
<line x1="938" y1="329.91" x2="941.6" y2="329.91" stroke="#6f7c72" stroke-width="2"/>
<line x1="1566" y1="329.91" x2="1562.4" y2="329.91" stroke="#6f7c72" stroke-width="2"/>
<line x1="940" y1="277.54" x2="1566" y2="277.54" stroke="#a9c3ad" stroke-width="1.8" stroke-dasharray="2.2,6.0"/>
<line x1="938" y1="277.54" x2="941.6" y2="277.54" stroke="#6f7c72" stroke-width="2"/>
<line x1="1566" y1="277.54" x2="1562.4" y2="277.54" stroke="#6f7c72" stroke-width="2"/>
<line x1="940" y1="250.95" x2="1566" y2="250.95" stroke="#a9c3ad" stroke-width="1.8" stroke-dasharray="2.2,6.0"/>
<line x1="938" y1="250.95" x2="941.6" y2="250.95" stroke="#6f7c72" stroke-width="2"/>
<line x1="1566" y1="250.95" x2="1562.4" y2="250.95" stroke="#6f7c72" stroke-width="2"/>
<line x1="940" y1="232.09" x2="1566" y2="232.09" stroke="#a9c3ad" stroke-width="1.8" stroke-dasharray="2.2,6.0"/>
<line x1="938" y1="232.09" x2="941.6" y2="232.09" stroke="#6f7c72" stroke-width="2"/>
<line x1="1566" y1="232.09" x2="1562.4" y2="232.09" stroke="#6f7c72" stroke-width="2"/>
<line x1="940" y1="217.46" x2="1566" y2="217.46" stroke="#a9c3ad" stroke-width="1.8" stroke-dasharray="2.2,6.0"/>
<line x1="938" y1="217.46" x2="941.6" y2="217.46" stroke="#6f7c72" stroke-width="2"/>
<line x1="1566" y1="217.46" x2="1562.4" y2="217.46" stroke="#6f7c72" stroke-width="2"/>
<line x1="940" y1="205.5" x2="1566" y2="205.5" stroke="#a9c3ad" stroke-width="1.8" stroke-dasharray="2.2,6.0"/>
<line x1="938" y1="205.5" x2="941.6" y2="205.5" stroke="#6f7c72" stroke-width="2"/>
<line x1="1566" y1="205.5" x2="1562.4" y2="205.5" stroke="#6f7c72" stroke-width="2"/>
<line x1="940" y1="195.39" x2="1566" y2="195.39" stroke="#a9c3ad" stroke-width="1.8" stroke-dasharray="2.2,6.0"/>
<line x1="938" y1="195.39" x2="941.6" y2="195.39" stroke="#6f7c72" stroke-width="2"/>
<line x1="1566" y1="195.39" x2="1562.4" y2="195.39" stroke="#6f7c72" stroke-width="2"/>
<line x1="940" y1="186.63" x2="1566" y2="186.63" stroke="#a9c3ad" stroke-width="1.8" stroke-dasharray="2.2,6.0"/>
<line x1="938" y1="186.63" x2="941.6" y2="186.63" stroke="#6f7c72" stroke-width="2"/>
<line x1="1566" y1="186.63" x2="1562.4" y2="186.63" stroke="#6f7c72" stroke-width="2"/>
<line x1="940" y1="178.91" x2="1566" y2="178.91" stroke="#a9c3ad" stroke-width="1.8" stroke-dasharray="2.2,6.0"/>
<line x1="938" y1="178.91" x2="941.6" y2="178.91" stroke="#6f7c72" stroke-width="2"/>
<line x1="1566" y1="178.91" x2="1562.4" y2="178.91" stroke="#6f7c72" stroke-width="2"/>
<line x1="940" y1="126.54" x2="1566" y2="126.54" stroke="#a9c3ad" stroke-width="1.8" stroke-dasharray="2.2,6.0"/>
<line x1="938" y1="126.54" x2="941.6" y2="126.54" stroke="#6f7c72" stroke-width="2"/>
<line x1="1566" y1="126.54" x2="1562.4" y2="126.54" stroke="#6f7c72" stroke-width="2"/>
<line x1="940" y1="99.95" x2="1566" y2="99.95" stroke="#a9c3ad" stroke-width="1.8" stroke-dasharray="2.2,6.0"/>
<line x1="938" y1="99.95" x2="941.6" y2="99.95" stroke="#6f7c72" stroke-width="2"/>
<line x1="1566" y1="99.95" x2="1562.4" y2="99.95" stroke="#6f7c72" stroke-width="2"/>
<line x1="940" y1="81.09" x2="1566" y2="81.09" stroke="#a9c3ad" stroke-width="1.8" stroke-dasharray="2.2,6.0"/>
<line x1="938" y1="81.09" x2="941.6" y2="81.09" stroke="#6f7c72" stroke-width="2"/>
<line x1="1566" y1="81.09" x2="1562.4" y2="81.09" stroke="#6f7c72" stroke-width="2"/>
<line x1="940" y1="66.46" x2="1566" y2="66.46" stroke="#a9c3ad" stroke-width="1.8" stroke-dasharray="2.2,6.0"/>
<line x1="938" y1="66.46" x2="941.6" y2="66.46" stroke="#6f7c72" stroke-width="2"/>
<line x1="1566" y1="66.46" x2="1562.4" y2="66.46" stroke="#6f7c72" stroke-width="2"/>
<line x1="940" y1="54.5" x2="1566" y2="54.5" stroke="#a9c3ad" stroke-width="1.8" stroke-dasharray="2.2,6.0"/>
<line x1="938" y1="54.5" x2="941.6" y2="54.5" stroke="#6f7c72" stroke-width="2"/>
<line x1="1566" y1="54.5" x2="1562.4" y2="54.5" stroke="#6f7c72" stroke-width="2"/>
<line x1="940" y1="44.39" x2="1566" y2="44.39" stroke="#a9c3ad" stroke-width="1.8" stroke-dasharray="2.2,6.0"/>
<line x1="938" y1="44.39" x2="941.6" y2="44.39" stroke="#6f7c72" stroke-width="2"/>
<line x1="1566" y1="44.39" x2="1562.4" y2="44.39" stroke="#6f7c72" stroke-width="2"/>
<line x1="940" y1="35.63" x2="1566" y2="35.63" stroke="#a9c3ad" stroke-width="1.8" stroke-dasharray="2.2,6.0"/>
<line x1="938" y1="35.63" x2="941.6" y2="35.63" stroke="#6f7c72" stroke-width="2"/>
<line x1="1566" y1="35.63" x2="1562.4" y2="35.63" stroke="#6f7c72" stroke-width="2"/>
<line x1="940" y1="27.91" x2="1566" y2="27.91" stroke="#a9c3ad" stroke-width="1.8" stroke-dasharray="2.2,6.0"/>
<line x1="938" y1="27.91" x2="941.6" y2="27.91" stroke="#6f7c72" stroke-width="2"/>
<line x1="1566" y1="27.91" x2="1562.4" y2="27.91" stroke="#6f7c72" stroke-width="2"/>
<clipPath id="cb"><rect x="938" y="21" width="628" height="453"/></clipPath>
<g clip-path="url(#cb)">
<polyline points="938.0,62.9 969.4,118.3 1000.8,89.2 1032.2,126.1 1063.6,68.9 1095.0,204.6 1126.4,279.8 1157.8,124.1 1189.2,169.7 1220.6,181.5 1252.0,239.3 1283.4,142.0 1314.8,59.9 1346.2,189.5 1377.6,168.3 1409.0,315.8 1440.4,113.0 1471.8,58.4 1503.2,172.1 1534.6,91.5 1566.0,229.7" fill="none" stroke="#0072BD" stroke-width="3.7" stroke-linejoin="round"/>
<polyline points="938.0,223.4 969.4,93.7 1000.8,122.8 1032.2,114.4 1063.6,91.4 1095.0,119.3 1126.4,128.8 1157.8,172.0 1189.2,115.8 1220.6,90.3 1252.0,92.3 1283.4,139.7 1314.8,67.4 1346.2,168.3 1377.6,200.7 1409.0,180.8 1440.4,96.1 1471.8,50.7 1503.2,392.6 1534.6,122.2 1566.0,221.3" fill="none" stroke="#D95319" stroke-width="3.7" stroke-linejoin="round"/>
<polyline points="938.0,170.9 969.4,79.1 1000.8,104.9 1032.2,109.9 1063.6,140.7 1095.0,139.0 1126.4,239.0 1157.8,249.6 1189.2,246.0 1220.6,212.9 1252.0,137.8 1283.4,122.2 1314.8,201.9 1346.2,102.3 1377.6,236.8 1409.0,109.8 1440.4,82.2 1471.8,106.8 1503.2,136.0 1534.6,88.4 1566.0,140.6" fill="none" stroke="#EDB120" stroke-width="3.7" stroke-linejoin="round" stroke-dasharray="3.7,4.4"/>
<polyline points="938.0,95.4 969.4,97.0 1000.8,111.0 1032.2,55.7 1063.6,100.4 1095.0,107.5 1126.4,217.0 1157.8,79.0 1189.2,243.7 1220.6,150.1 1252.0,145.9 1283.4,245.5 1314.8,371.0 1346.2,51.2 1377.6,124.7 1409.0,45.0 1440.4,85.3 1471.8,200.5 1503.2,94.5 1534.6,77.6 1566.0,106.8" fill="none" stroke="#7E2F8E" stroke-width="3.7" stroke-linejoin="round" stroke-dasharray="3.7,4.4"/>
</g>
<line x1="938" y1="474" x2="938" y2="468" stroke="#6f7c72" stroke-width="2"/>
<line x1="938" y1="21" x2="938" y2="27" stroke="#6f7c72" stroke-width="2"/>
<line x1="1095" y1="474" x2="1095" y2="468" stroke="#6f7c72" stroke-width="2"/>
<line x1="1095" y1="21" x2="1095" y2="27" stroke="#6f7c72" stroke-width="2"/>
<line x1="1252" y1="474" x2="1252" y2="468" stroke="#6f7c72" stroke-width="2"/>
<line x1="1252" y1="21" x2="1252" y2="27" stroke="#6f7c72" stroke-width="2"/>
<line x1="1409" y1="474" x2="1409" y2="468" stroke="#6f7c72" stroke-width="2"/>
<line x1="1409" y1="21" x2="1409" y2="27" stroke="#6f7c72" stroke-width="2"/>
<line x1="1566" y1="474" x2="1566" y2="468" stroke="#6f7c72" stroke-width="2"/>
<line x1="1566" y1="21" x2="1566" y2="27" stroke="#6f7c72" stroke-width="2"/>
<line x1="938" y1="474" x2="944" y2="474" stroke="#6f7c72" stroke-width="2"/>
<line x1="1566" y1="474" x2="1560" y2="474" stroke="#6f7c72" stroke-width="2"/>
<line x1="938" y1="323" x2="944" y2="323" stroke="#6f7c72" stroke-width="2"/>
<line x1="1566" y1="323" x2="1560" y2="323" stroke="#6f7c72" stroke-width="2"/>
<line x1="938" y1="172" x2="944" y2="172" stroke="#6f7c72" stroke-width="2"/>
<line x1="1566" y1="172" x2="1560" y2="172" stroke="#6f7c72" stroke-width="2"/>
<line x1="938" y1="21" x2="944" y2="21" stroke="#6f7c72" stroke-width="2"/>
<line x1="1566" y1="21" x2="1560" y2="21" stroke="#6f7c72" stroke-width="2"/>
<rect x="938" y="21" width="628" height="453" fill="none" stroke="#6f7c72" stroke-width="2.6"/>
<rect x="939.5" y="328" width="221.5" height="145.5" fill="#f0f0f0" stroke="#262626" stroke-width="2.6"/>
<line x1="954.7" y1="348.6" x2="1038.4" y2="348.6" stroke="#0072BD" stroke-width="3"/>
<text transform="translate(1044.67,358.70) scale(1.1017,1)" font-family='"Liberation Sans", Arial, Helvetica, sans-serif' font-size="28.29" font-weight="bold" fill="#000">M = 0.1</text>
<line x1="954.7" y1="383" x2="1038.4" y2="383" stroke="#D95319" stroke-width="3"/>
<text transform="translate(1044.67,393.10) scale(1.1017,1)" font-family='"Liberation Sans", Arial, Helvetica, sans-serif' font-size="28.29" font-weight="bold" fill="#000">M = 0.7</text>
<line x1="954.7" y1="417.1" x2="1038.4" y2="417.1" stroke="#EDB120" stroke-width="3" stroke-dasharray="3.6,4.3"/>
<text transform="translate(1044.67,427.20) scale(1.1017,1)" font-family='"Liberation Sans", Arial, Helvetica, sans-serif' font-size="28.29" font-weight="bold" fill="#000">M = 1.5</text>
<line x1="954.7" y1="451.4" x2="1038.4" y2="451.4" stroke="#7E2F8E" stroke-width="3" stroke-dasharray="3.6,4.3"/>
<text transform="translate(1044.67,461.50) scale(1.1017,1)" font-family='"Liberation Sans", Arial, Helvetica, sans-serif' font-size="28.29" font-weight="bold" fill="#000">M = 1.7</text>
<text transform="translate(928.61,512.12) scale(1.1060,1)" font-family='"Liberation Sans", Arial, Helvetica, sans-serif' font-size="30.60" font-weight="bold" fill="#000">0</text>
<text transform="translate(1071.22,512.12) scale(1.1060,1)" font-family='"Liberation Sans", Arial, Helvetica, sans-serif' font-size="30.60" font-weight="bold" fill="#000">0.5</text>
<text transform="translate(1239.90,511.81) scale(1.1060,1)" font-family='"Liberation Sans", Arial, Helvetica, sans-serif' font-size="30.60" font-weight="bold" fill="#000">1</text>
<text transform="translate(1384.80,511.81) scale(1.1060,1)" font-family='"Liberation Sans", Arial, Helvetica, sans-serif' font-size="30.60" font-weight="bold" fill="#000">1.5</text>
<text transform="translate(1556.69,512.12) scale(1.1060,1)" font-family='"Liberation Sans", Arial, Helvetica, sans-serif' font-size="30.60" font-weight="bold" fill="#000">2</text>
<text transform="translate(865.76,486.77) scale(1.1400,1)" font-family='"Liberation Sans", Arial, Helvetica, sans-serif' font-size="28.90" font-weight="bold" fill="#000">10</text>
<text transform="translate(904.07,473.47) scale(1.0300,1)" font-family='"Liberation Sans", Arial, Helvetica, sans-serif' font-size="22.90" font-weight="bold" fill="#000">-7</text>
<text transform="translate(865.52,335.77) scale(1.1400,1)" font-family='"Liberation Sans", Arial, Helvetica, sans-serif' font-size="28.90" font-weight="bold" fill="#000">10</text>
<text transform="translate(903.83,322.47) scale(1.0300,1)" font-family='"Liberation Sans", Arial, Helvetica, sans-serif' font-size="22.90" font-weight="bold" fill="#000">-6</text>
<text transform="translate(865.29,184.77) scale(1.1400,1)" font-family='"Liberation Sans", Arial, Helvetica, sans-serif' font-size="28.90" font-weight="bold" fill="#000">10</text>
<text transform="translate(903.60,171.47) scale(1.0300,1)" font-family='"Liberation Sans", Arial, Helvetica, sans-serif' font-size="22.90" font-weight="bold" fill="#000">-5</text>
<text transform="translate(864.82,33.77) scale(1.1400,1)" font-family='"Liberation Sans", Arial, Helvetica, sans-serif' font-size="28.90" font-weight="bold" fill="#000">10</text>
<text transform="translate(903.13,20.47) scale(1.0300,1)" font-family='"Liberation Sans", Arial, Helvetica, sans-serif' font-size="22.90" font-weight="bold" fill="#000">-4</text>
<rect x="121" y="654" width="639" height="433" fill="#ebd8d8"/>
<line x1="280.75" y1="654" x2="280.75" y2="1087" stroke="#d3c0c0" stroke-width="1.6"/>
<line x1="440.5" y1="654" x2="440.5" y2="1087" stroke="#d3c0c0" stroke-width="1.6"/>
<line x1="600.25" y1="654" x2="600.25" y2="1087" stroke="#d3c0c0" stroke-width="1.6"/>
<line x1="121" y1="1014.83" x2="760" y2="1014.83" stroke="#d3c0c0" stroke-width="1.6"/>
<line x1="121" y1="942.67" x2="760" y2="942.67" stroke="#d3c0c0" stroke-width="1.6"/>
<line x1="121" y1="870.5" x2="760" y2="870.5" stroke="#d3c0c0" stroke-width="1.6"/>
<line x1="121" y1="798.33" x2="760" y2="798.33" stroke="#d3c0c0" stroke-width="1.6"/>
<line x1="121" y1="726.17" x2="760" y2="726.17" stroke="#d3c0c0" stroke-width="1.6"/>
<path d="M121.0,1014.8 C126.3,1021.9 142.3,1046.9 152.9,1057.1 C163.6,1067.2 174.2,1072.1 184.9,1075.8 C195.6,1079.5 206.2,1080.1 216.8,1079.4 C227.5,1078.8 238.2,1075.3 248.8,1071.8 C259.4,1068.4 270.1,1063.8 280.8,1058.5 C291.4,1053.1 302.1,1046.8 312.7,1039.7 C323.3,1032.7 334.0,1024.1 344.6,1016.1 C355.3,1008.1 366.0,1000.2 376.6,991.5 C387.2,982.7 397.9,972.4 408.6,963.6 C419.2,954.8 429.9,947.7 440.5,938.9 C451.1,930.0 461.8,919.9 472.5,910.6 C483.1,901.2 493.8,892.1 504.4,882.9 C515.0,873.7 525.7,864.6 536.4,855.3 C547.0,846.1 557.6,837.0 568.3,827.6 C578.9,818.1 589.6,808.5 600.2,798.7 C610.9,788.9 621.6,778.5 632.2,768.7 C642.9,758.9 653.5,749.5 664.1,739.9 C674.8,730.3 685.5,720.6 696.1,711.0 C706.8,701.4 717.4,692.0 728.0,682.5 C738.7,673.0 754.7,658.8 760.0,654.0" fill="none" stroke="#7E2F8E" stroke-width="3.0" stroke-linejoin="round"/>
<polygon points="121.0,1009.8 122.4,1013.2 126.5,1013.3 123.2,1015.5 124.4,1018.9 121.0,1016.8 117.6,1018.9 118.8,1015.5 115.5,1013.3 119.6,1013.2" fill="none" stroke="#000" stroke-width="1.9" stroke-linejoin="miter" stroke-miterlimit="6"/>
<polygon points="152.9,1052.1 154.3,1055.4 158.4,1055.5 155.1,1057.7 156.3,1061.1 152.9,1059.1 149.6,1061.1 150.8,1057.7 147.5,1055.5 151.6,1055.4" fill="none" stroke="#000" stroke-width="1.9" stroke-linejoin="miter" stroke-miterlimit="6"/>
<polygon points="184.9,1070.8 186.3,1074.2 190.4,1074.3 187.1,1076.4 188.3,1079.9 184.9,1077.8 181.5,1079.9 182.7,1076.4 179.4,1074.3 183.5,1074.2" fill="none" stroke="#000" stroke-width="1.9" stroke-linejoin="miter" stroke-miterlimit="6"/>
<polygon points="216.8,1074.4 218.2,1077.8 222.3,1077.9 219.0,1080.0 220.2,1083.5 216.8,1081.4 213.5,1083.5 214.7,1080.0 211.4,1077.9 215.5,1077.8" fill="none" stroke="#000" stroke-width="1.9" stroke-linejoin="miter" stroke-miterlimit="6"/>
<polygon points="248.8,1066.8 250.2,1070.2 254.3,1070.3 251.0,1072.5 252.2,1075.9 248.8,1073.8 245.4,1075.9 246.6,1072.5 243.3,1070.3 247.4,1070.2" fill="none" stroke="#000" stroke-width="1.9" stroke-linejoin="miter" stroke-miterlimit="6"/>
<polygon points="280.8,1053.5 282.1,1056.9 286.2,1056.9 282.9,1059.1 284.1,1062.5 280.8,1060.5 277.4,1062.5 278.6,1059.1 275.3,1056.9 279.4,1056.9" fill="none" stroke="#000" stroke-width="1.9" stroke-linejoin="miter" stroke-miterlimit="6"/>
<polygon points="312.7,1034.7 314.1,1038.1 318.2,1038.2 314.9,1040.3 316.1,1043.8 312.7,1041.7 309.3,1043.8 310.5,1040.3 307.2,1038.2 311.3,1038.1" fill="none" stroke="#000" stroke-width="1.9" stroke-linejoin="miter" stroke-miterlimit="6"/>
<polygon points="344.6,1011.1 346.0,1014.5 350.1,1014.6 346.8,1016.7 348.0,1020.1 344.6,1018.1 341.3,1020.1 342.5,1016.7 339.2,1014.6 343.3,1014.5" fill="none" stroke="#000" stroke-width="1.9" stroke-linejoin="miter" stroke-miterlimit="6"/>
<polygon points="376.6,986.5 378.0,989.9 382.1,989.9 378.8,992.1 380.0,995.5 376.6,993.5 373.2,995.5 374.4,992.1 371.1,989.9 375.2,989.9" fill="none" stroke="#000" stroke-width="1.9" stroke-linejoin="miter" stroke-miterlimit="6"/>
<polygon points="408.6,958.6 409.9,962.0 414.0,962.0 410.7,964.2 411.9,967.6 408.6,965.6 405.2,967.6 406.4,964.2 403.1,962.0 407.2,962.0" fill="none" stroke="#000" stroke-width="1.9" stroke-linejoin="miter" stroke-miterlimit="6"/>
<polygon points="440.5,933.9 441.9,937.3 446.0,937.3 442.7,939.5 443.9,942.9 440.5,940.9 437.1,942.9 438.3,939.5 435.0,937.3 439.1,937.3" fill="none" stroke="#000" stroke-width="1.9" stroke-linejoin="miter" stroke-miterlimit="6"/>
<polygon points="472.5,905.6 473.8,908.9 477.9,909.0 474.6,911.2 475.8,914.6 472.5,912.6 469.1,914.6 470.3,911.2 467.0,909.0 471.1,908.9" fill="none" stroke="#000" stroke-width="1.9" stroke-linejoin="miter" stroke-miterlimit="6"/>
<polygon points="504.4,877.9 505.8,881.3 509.9,881.3 506.6,883.5 507.8,886.9 504.4,884.9 501.0,886.9 502.2,883.5 498.9,881.3 503.0,881.3" fill="none" stroke="#000" stroke-width="1.9" stroke-linejoin="miter" stroke-miterlimit="6"/>
<polygon points="536.4,850.3 537.7,853.7 541.8,853.8 538.5,856.0 539.7,859.4 536.4,857.3 533.0,859.4 534.2,856.0 530.9,853.8 535.0,853.7" fill="none" stroke="#000" stroke-width="1.9" stroke-linejoin="miter" stroke-miterlimit="6"/>
<polygon points="568.3,822.6 569.7,825.9 573.8,826.0 570.5,828.2 571.7,831.6 568.3,829.6 564.9,831.6 566.1,828.2 562.8,826.0 566.9,825.9" fill="none" stroke="#000" stroke-width="1.9" stroke-linejoin="miter" stroke-miterlimit="6"/>
<polygon points="600.2,793.7 601.6,797.1 605.7,797.1 602.4,799.3 603.6,802.7 600.2,800.7 596.9,802.7 598.1,799.3 594.8,797.1 598.9,797.1" fill="none" stroke="#000" stroke-width="1.9" stroke-linejoin="miter" stroke-miterlimit="6"/>
<polygon points="632.2,763.7 633.6,767.1 637.7,767.2 634.4,769.4 635.6,772.8 632.2,770.7 628.8,772.8 630.0,769.4 626.7,767.2 630.8,767.1" fill="none" stroke="#000" stroke-width="1.9" stroke-linejoin="miter" stroke-miterlimit="6"/>
<polygon points="664.1,734.9 665.5,738.3 669.6,738.3 666.3,740.5 667.5,743.9 664.1,741.9 660.8,743.9 662.0,740.5 658.7,738.3 662.8,738.3" fill="none" stroke="#000" stroke-width="1.9" stroke-linejoin="miter" stroke-miterlimit="6"/>
<polygon points="696.1,706.0 697.5,709.4 701.6,709.5 698.3,711.6 699.5,715.1 696.1,713.0 692.7,715.1 693.9,711.6 690.6,709.5 694.7,709.4" fill="none" stroke="#000" stroke-width="1.9" stroke-linejoin="miter" stroke-miterlimit="6"/>
<polygon points="728.0,677.5 729.4,680.9 733.5,681.0 730.2,683.1 731.4,686.6 728.0,684.5 724.7,686.6 725.9,683.1 722.6,681.0 726.7,680.9" fill="none" stroke="#000" stroke-width="1.9" stroke-linejoin="miter" stroke-miterlimit="6"/>
<polygon points="760.0,649.0 761.4,652.4 765.5,652.5 762.2,654.6 763.4,658.0 760.0,656.0 756.6,658.0 757.8,654.6 754.5,652.5 758.6,652.4" fill="none" stroke="#000" stroke-width="1.9" stroke-linejoin="miter" stroke-miterlimit="6"/>
<path d="M121.0,1014.8 C126.3,1018.9 142.3,1033.1 152.9,1039.2 C163.6,1045.3 174.2,1048.9 184.9,1051.2 C195.6,1053.5 206.2,1053.9 216.8,1053.0 C227.5,1052.1 238.2,1048.8 248.8,1045.9 C259.4,1043.0 270.1,1040.0 280.8,1035.6 C291.4,1031.2 302.1,1025.4 312.7,1019.5 C323.3,1013.7 334.0,1007.5 344.6,1000.5 C355.3,993.5 366.0,985.1 376.6,977.4 C387.2,969.8 397.9,962.5 408.6,954.6 C419.2,946.6 429.9,937.6 440.5,929.7 C451.1,921.8 461.8,915.7 472.5,907.1 C483.1,898.5 493.8,887.5 504.4,878.3 C515.0,869.0 525.7,860.8 536.4,851.7 C547.0,842.7 557.6,833.7 568.3,824.1 C578.9,814.5 589.6,803.8 600.2,794.1 C610.9,784.5 621.6,775.9 632.2,766.5 C642.9,757.1 653.5,747.3 664.1,737.7 C674.8,728.1 685.5,718.3 696.1,708.8 C706.8,699.4 717.4,689.8 728.0,680.7 C738.7,671.6 754.7,658.5 760.0,654.0" fill="none" stroke="#EDB120" stroke-width="3.0" stroke-linejoin="round"/>
<polygon points="121.0,1009.8 122.4,1013.2 126.5,1013.3 123.2,1015.5 124.4,1018.9 121.0,1016.8 117.6,1018.9 118.8,1015.5 115.5,1013.3 119.6,1013.2" fill="none" stroke="#000" stroke-width="1.9" stroke-linejoin="miter" stroke-miterlimit="6"/>
<polygon points="152.9,1034.2 154.3,1037.6 158.4,1037.6 155.1,1039.8 156.3,1043.2 152.9,1041.2 149.6,1043.2 150.8,1039.8 147.5,1037.6 151.6,1037.6" fill="none" stroke="#000" stroke-width="1.9" stroke-linejoin="miter" stroke-miterlimit="6"/>
<polygon points="184.9,1046.2 186.3,1049.6 190.4,1049.7 187.1,1051.8 188.3,1055.3 184.9,1053.2 181.5,1055.3 182.7,1051.8 179.4,1049.7 183.5,1049.6" fill="none" stroke="#000" stroke-width="1.9" stroke-linejoin="miter" stroke-miterlimit="6"/>
<polygon points="216.8,1048.0 218.2,1051.4 222.3,1051.5 219.0,1053.6 220.2,1057.1 216.8,1055.0 213.5,1057.1 214.7,1053.6 211.4,1051.5 215.5,1051.4" fill="none" stroke="#000" stroke-width="1.9" stroke-linejoin="miter" stroke-miterlimit="6"/>
<polygon points="248.8,1040.9 250.2,1044.2 254.3,1044.3 251.0,1046.5 252.2,1049.9 248.8,1047.9 245.4,1049.9 246.6,1046.5 243.3,1044.3 247.4,1044.2" fill="none" stroke="#000" stroke-width="1.9" stroke-linejoin="miter" stroke-miterlimit="6"/>
<polygon points="280.8,1030.6 282.1,1034.0 286.2,1034.0 282.9,1036.2 284.1,1039.6 280.8,1037.6 277.4,1039.6 278.6,1036.2 275.3,1034.0 279.4,1034.0" fill="none" stroke="#000" stroke-width="1.9" stroke-linejoin="miter" stroke-miterlimit="6"/>
<polygon points="312.7,1014.5 314.1,1017.9 318.2,1018.0 314.9,1020.1 316.1,1023.6 312.7,1021.5 309.3,1023.6 310.5,1020.1 307.2,1018.0 311.3,1017.9" fill="none" stroke="#000" stroke-width="1.9" stroke-linejoin="miter" stroke-miterlimit="6"/>
<polygon points="344.6,995.5 346.0,998.9 350.1,999.0 346.8,1001.1 348.0,1004.6 344.6,1002.5 341.3,1004.6 342.5,1001.1 339.2,999.0 343.3,998.9" fill="none" stroke="#000" stroke-width="1.9" stroke-linejoin="miter" stroke-miterlimit="6"/>
<polygon points="376.6,972.4 378.0,975.8 382.1,975.9 378.8,978.0 380.0,981.5 376.6,979.4 373.2,981.5 374.4,978.0 371.1,975.9 375.2,975.8" fill="none" stroke="#000" stroke-width="1.9" stroke-linejoin="miter" stroke-miterlimit="6"/>
<polygon points="408.6,949.6 409.9,953.0 414.0,953.0 410.7,955.2 411.9,958.6 408.6,956.6 405.2,958.6 406.4,955.2 403.1,953.0 407.2,953.0" fill="none" stroke="#000" stroke-width="1.9" stroke-linejoin="miter" stroke-miterlimit="6"/>
<polygon points="440.5,924.7 441.9,928.1 446.0,928.1 442.7,930.3 443.9,933.7 440.5,931.7 437.1,933.7 438.3,930.3 435.0,928.1 439.1,928.1" fill="none" stroke="#000" stroke-width="1.9" stroke-linejoin="miter" stroke-miterlimit="6"/>
<polygon points="472.5,902.1 473.8,905.5 477.9,905.5 474.6,907.7 475.8,911.1 472.5,909.1 469.1,911.1 470.3,907.7 467.0,905.5 471.1,905.5" fill="none" stroke="#000" stroke-width="1.9" stroke-linejoin="miter" stroke-miterlimit="6"/>
<polygon points="504.4,873.3 505.8,876.6 509.9,876.7 506.6,878.9 507.8,882.3 504.4,880.3 501.0,882.3 502.2,878.9 498.9,876.7 503.0,876.6" fill="none" stroke="#000" stroke-width="1.9" stroke-linejoin="miter" stroke-miterlimit="6"/>
<polygon points="536.4,846.7 537.7,850.1 541.8,850.2 538.5,852.4 539.7,855.8 536.4,853.7 533.0,855.8 534.2,852.4 530.9,850.2 535.0,850.1" fill="none" stroke="#000" stroke-width="1.9" stroke-linejoin="miter" stroke-miterlimit="6"/>
<polygon points="568.3,819.1 569.7,822.5 573.8,822.6 570.5,824.7 571.7,828.1 568.3,826.1 564.9,828.1 566.1,824.7 562.8,822.6 566.9,822.5" fill="none" stroke="#000" stroke-width="1.9" stroke-linejoin="miter" stroke-miterlimit="6"/>
<polygon points="600.2,789.1 601.6,792.5 605.7,792.6 602.4,794.8 603.6,798.2 600.2,796.1 596.9,798.2 598.1,794.8 594.8,792.6 598.9,792.5" fill="none" stroke="#000" stroke-width="1.9" stroke-linejoin="miter" stroke-miterlimit="6"/>
<polygon points="632.2,761.5 633.6,764.9 637.7,764.9 634.4,767.1 635.6,770.5 632.2,768.5 628.8,770.5 630.0,767.1 626.7,764.9 630.8,764.9" fill="none" stroke="#000" stroke-width="1.9" stroke-linejoin="miter" stroke-miterlimit="6"/>
<polygon points="664.1,732.7 665.5,736.1 669.6,736.1 666.3,738.3 667.5,741.7 664.1,739.7 660.8,741.7 662.0,738.3 658.7,736.1 662.8,736.1" fill="none" stroke="#000" stroke-width="1.9" stroke-linejoin="miter" stroke-miterlimit="6"/>
<polygon points="696.1,703.8 697.5,707.2 701.6,707.3 698.3,709.5 699.5,712.9 696.1,710.8 692.7,712.9 693.9,709.5 690.6,707.3 694.7,707.2" fill="none" stroke="#000" stroke-width="1.9" stroke-linejoin="miter" stroke-miterlimit="6"/>
<polygon points="728.0,675.7 729.4,679.1 733.5,679.2 730.2,681.3 731.4,684.7 728.0,682.7 724.7,684.7 725.9,681.3 722.6,679.2 726.7,679.1" fill="none" stroke="#000" stroke-width="1.9" stroke-linejoin="miter" stroke-miterlimit="6"/>
<polygon points="760.0,649.0 761.4,652.4 765.5,652.5 762.2,654.6 763.4,658.0 760.0,656.0 756.6,658.0 757.8,654.6 754.5,652.5 758.6,652.4" fill="none" stroke="#000" stroke-width="1.9" stroke-linejoin="miter" stroke-miterlimit="6"/>
<path d="M121.0,1014.8 C126.3,1015.6 142.3,1018.7 152.9,1019.5 C163.6,1020.3 174.2,1020.0 184.9,1019.5 C195.6,1019.1 206.2,1018.9 216.8,1016.8 C227.5,1014.8 238.2,1010.6 248.8,1007.3 C259.4,1003.9 270.1,1000.9 280.8,996.8 C291.4,992.7 302.1,987.7 312.7,982.7 C323.3,977.7 334.0,972.7 344.6,966.8 C355.3,960.9 366.0,953.8 376.6,947.4 C387.2,940.9 397.9,934.9 408.6,928.2 C419.2,921.5 429.9,914.5 440.5,907.1 C451.1,899.7 461.8,891.6 472.5,884.0 C483.1,876.4 493.8,869.2 504.4,861.4 C515.0,853.7 525.7,845.6 536.4,837.5 C547.0,829.3 557.6,820.8 568.3,812.6 C578.9,804.4 589.6,796.8 600.2,788.4 C610.9,779.9 621.6,770.5 632.2,761.9 C642.9,753.2 653.5,745.4 664.1,736.5 C674.8,727.7 685.5,718.1 696.1,708.8 C706.8,699.5 717.4,689.9 728.0,680.7 C738.7,671.6 754.7,658.5 760.0,654.0" fill="none" stroke="#D95319" stroke-width="3.0" stroke-linejoin="round"/>
<polygon points="121.0,1009.8 122.4,1013.2 126.5,1013.3 123.2,1015.5 124.4,1018.9 121.0,1016.8 117.6,1018.9 118.8,1015.5 115.5,1013.3 119.6,1013.2" fill="none" stroke="#000" stroke-width="1.9" stroke-linejoin="miter" stroke-miterlimit="6"/>
<polygon points="152.9,1014.5 154.3,1017.9 158.4,1018.0 155.1,1020.1 156.3,1023.6 152.9,1021.5 149.6,1023.6 150.8,1020.1 147.5,1018.0 151.6,1017.9" fill="none" stroke="#000" stroke-width="1.9" stroke-linejoin="miter" stroke-miterlimit="6"/>
<polygon points="184.9,1014.5 186.3,1017.9 190.4,1018.0 187.1,1020.1 188.3,1023.6 184.9,1021.5 181.5,1023.6 182.7,1020.1 179.4,1018.0 183.5,1017.9" fill="none" stroke="#000" stroke-width="1.9" stroke-linejoin="miter" stroke-miterlimit="6"/>
<polygon points="216.8,1011.8 218.2,1015.2 222.3,1015.3 219.0,1017.4 220.2,1020.9 216.8,1018.8 213.5,1020.9 214.7,1017.4 211.4,1015.3 215.5,1015.2" fill="none" stroke="#000" stroke-width="1.9" stroke-linejoin="miter" stroke-miterlimit="6"/>
<polygon points="248.8,1002.3 250.2,1005.6 254.3,1005.7 251.0,1007.9 252.2,1011.3 248.8,1009.3 245.4,1011.3 246.6,1007.9 243.3,1005.7 247.4,1005.6" fill="none" stroke="#000" stroke-width="1.9" stroke-linejoin="miter" stroke-miterlimit="6"/>
<polygon points="280.8,991.8 282.1,995.2 286.2,995.2 282.9,997.4 284.1,1000.8 280.8,998.8 277.4,1000.8 278.6,997.4 275.3,995.2 279.4,995.2" fill="none" stroke="#000" stroke-width="1.9" stroke-linejoin="miter" stroke-miterlimit="6"/>
<polygon points="312.7,977.7 314.1,981.1 318.2,981.2 314.9,983.3 316.1,986.8 312.7,984.7 309.3,986.8 310.5,983.3 307.2,981.2 311.3,981.1" fill="none" stroke="#000" stroke-width="1.9" stroke-linejoin="miter" stroke-miterlimit="6"/>
<polygon points="344.6,961.8 346.0,965.2 350.1,965.3 346.8,967.5 348.0,970.9 344.6,968.8 341.3,970.9 342.5,967.5 339.2,965.3 343.3,965.2" fill="none" stroke="#000" stroke-width="1.9" stroke-linejoin="miter" stroke-miterlimit="6"/>
<polygon points="376.6,942.4 378.0,945.7 382.1,945.8 378.8,948.0 380.0,951.4 376.6,949.4 373.2,951.4 374.4,948.0 371.1,945.8 375.2,945.7" fill="none" stroke="#000" stroke-width="1.9" stroke-linejoin="miter" stroke-miterlimit="6"/>
<polygon points="408.6,923.2 409.9,926.6 414.0,926.7 410.7,928.9 411.9,932.3 408.6,930.2 405.2,932.3 406.4,928.9 403.1,926.7 407.2,926.6" fill="none" stroke="#000" stroke-width="1.9" stroke-linejoin="miter" stroke-miterlimit="6"/>
<polygon points="440.5,902.1 441.9,905.5 446.0,905.5 442.7,907.7 443.9,911.1 440.5,909.1 437.1,911.1 438.3,907.7 435.0,905.5 439.1,905.5" fill="none" stroke="#000" stroke-width="1.9" stroke-linejoin="miter" stroke-miterlimit="6"/>
<polygon points="472.5,879.0 473.8,882.4 477.9,882.5 474.6,884.6 475.8,888.1 472.5,886.0 469.1,888.1 470.3,884.6 467.0,882.5 471.1,882.4" fill="none" stroke="#000" stroke-width="1.9" stroke-linejoin="miter" stroke-miterlimit="6"/>
<polygon points="504.4,856.4 505.8,859.8 509.9,859.9 506.6,862.1 507.8,865.5 504.4,863.4 501.0,865.5 502.2,862.1 498.9,859.9 503.0,859.8" fill="none" stroke="#000" stroke-width="1.9" stroke-linejoin="miter" stroke-miterlimit="6"/>
<polygon points="536.4,832.5 537.7,835.9 541.8,835.9 538.5,838.1 539.7,841.5 536.4,839.5 533.0,841.5 534.2,838.1 530.9,835.9 535.0,835.9" fill="none" stroke="#000" stroke-width="1.9" stroke-linejoin="miter" stroke-miterlimit="6"/>
<polygon points="568.3,807.6 569.7,811.0 573.8,811.0 570.5,813.2 571.7,816.6 568.3,814.6 564.9,816.6 566.1,813.2 562.8,811.0 566.9,811.0" fill="none" stroke="#000" stroke-width="1.9" stroke-linejoin="miter" stroke-miterlimit="6"/>
<polygon points="600.2,783.4 601.6,786.8 605.7,786.8 602.4,789.0 603.6,792.4 600.2,790.4 596.9,792.4 598.1,789.0 594.8,786.8 598.9,786.8" fill="none" stroke="#000" stroke-width="1.9" stroke-linejoin="miter" stroke-miterlimit="6"/>
<polygon points="632.2,756.9 633.6,760.2 637.7,760.3 634.4,762.5 635.6,765.9 632.2,763.9 628.8,765.9 630.0,762.5 626.7,760.3 630.8,760.2" fill="none" stroke="#000" stroke-width="1.9" stroke-linejoin="miter" stroke-miterlimit="6"/>
<polygon points="664.1,731.5 665.5,734.9 669.6,735.0 666.3,737.1 667.5,740.6 664.1,738.5 660.8,740.6 662.0,737.1 658.7,735.0 662.8,734.9" fill="none" stroke="#000" stroke-width="1.9" stroke-linejoin="miter" stroke-miterlimit="6"/>
<polygon points="696.1,703.8 697.5,707.2 701.6,707.3 698.3,709.5 699.5,712.9 696.1,710.8 692.7,712.9 693.9,709.5 690.6,707.3 694.7,707.2" fill="none" stroke="#000" stroke-width="1.9" stroke-linejoin="miter" stroke-miterlimit="6"/>
<polygon points="728.0,675.7 729.4,679.1 733.5,679.2 730.2,681.4 731.4,684.8 728.0,682.7 724.7,684.8 725.9,681.4 722.6,679.2 726.7,679.1" fill="none" stroke="#000" stroke-width="1.9" stroke-linejoin="miter" stroke-miterlimit="6"/>
<polygon points="760.0,649.0 761.4,652.4 765.5,652.5 762.2,654.6 763.4,658.0 760.0,656.0 756.6,658.0 757.8,654.6 754.5,652.5 758.6,652.4" fill="none" stroke="#000" stroke-width="1.9" stroke-linejoin="miter" stroke-miterlimit="6"/>
<path d="M121.0,1014.8 C126.3,1012.7 142.3,1006.1 152.9,1001.8 C163.6,997.6 174.2,993.5 184.9,989.2 C195.6,984.9 206.2,980.7 216.8,975.9 C227.5,971.1 238.2,965.7 248.8,960.3 C259.4,955.0 270.1,949.1 280.8,943.7 C291.4,938.4 302.1,933.4 312.7,928.2 C323.3,923.1 334.0,918.2 344.6,912.7 C355.3,907.2 366.0,901.2 376.6,895.4 C387.2,889.6 397.9,883.6 408.6,877.7 C419.2,871.8 429.9,866.1 440.5,859.8 C451.1,853.6 461.8,846.6 472.5,840.2 C483.1,833.8 493.8,827.8 504.4,821.3 C515.0,814.9 525.7,808.3 536.4,801.5 C547.0,794.7 557.6,787.4 568.3,780.8 C578.9,774.2 589.6,768.6 600.2,761.9 C610.9,755.1 621.6,747.5 632.2,740.4 C642.9,733.3 653.5,726.3 664.1,719.2 C674.8,712.1 685.5,705.1 696.1,697.8 C706.8,690.5 717.4,682.7 728.0,675.4 C738.7,668.1 754.7,657.6 760.0,654.0" fill="none" stroke="#0072BD" stroke-width="3.0" stroke-linejoin="round"/>
<polygon points="121.0,1009.8 122.4,1013.2 126.5,1013.3 123.2,1015.5 124.4,1018.9 121.0,1016.8 117.6,1018.9 118.8,1015.5 115.5,1013.3 119.6,1013.2" fill="none" stroke="#000" stroke-width="1.9" stroke-linejoin="miter" stroke-miterlimit="6"/>
<polygon points="152.9,996.8 154.3,1000.2 158.4,1000.3 155.1,1002.5 156.3,1005.9 152.9,1003.8 149.6,1005.9 150.8,1002.5 147.5,1000.3 151.6,1000.2" fill="none" stroke="#000" stroke-width="1.9" stroke-linejoin="miter" stroke-miterlimit="6"/>
<polygon points="184.9,984.2 186.3,987.6 190.4,987.7 187.1,989.8 188.3,993.3 184.9,991.2 181.5,993.3 182.7,989.8 179.4,987.7 183.5,987.6" fill="none" stroke="#000" stroke-width="1.9" stroke-linejoin="miter" stroke-miterlimit="6"/>
<polygon points="216.8,970.9 218.2,974.2 222.3,974.3 219.0,976.5 220.2,979.9 216.8,977.9 213.5,979.9 214.7,976.5 211.4,974.3 215.5,974.2" fill="none" stroke="#000" stroke-width="1.9" stroke-linejoin="miter" stroke-miterlimit="6"/>
<polygon points="248.8,955.3 250.2,958.7 254.3,958.8 251.0,961.0 252.2,964.4 248.8,962.3 245.4,964.4 246.6,961.0 243.3,958.8 247.4,958.7" fill="none" stroke="#000" stroke-width="1.9" stroke-linejoin="miter" stroke-miterlimit="6"/>
<polygon points="280.8,938.7 282.1,942.1 286.2,942.2 282.9,944.4 284.1,947.8 280.8,945.7 277.4,947.8 278.6,944.4 275.3,942.2 279.4,942.1" fill="none" stroke="#000" stroke-width="1.9" stroke-linejoin="miter" stroke-miterlimit="6"/>
<polygon points="312.7,923.2 314.1,926.6 318.2,926.7 314.9,928.9 316.1,932.3 312.7,930.2 309.3,932.3 310.5,928.9 307.2,926.7 311.3,926.6" fill="none" stroke="#000" stroke-width="1.9" stroke-linejoin="miter" stroke-miterlimit="6"/>
<polygon points="344.6,907.7 346.0,911.1 350.1,911.2 346.8,913.3 348.0,916.8 344.6,914.7 341.3,916.8 342.5,913.3 339.2,911.2 343.3,911.1" fill="none" stroke="#000" stroke-width="1.9" stroke-linejoin="miter" stroke-miterlimit="6"/>
<polygon points="376.6,890.4 378.0,893.8 382.1,893.9 378.8,896.0 380.0,899.4 376.6,897.4 373.2,899.4 374.4,896.0 371.1,893.9 375.2,893.8" fill="none" stroke="#000" stroke-width="1.9" stroke-linejoin="miter" stroke-miterlimit="6"/>
<polygon points="408.6,872.7 409.9,876.1 414.0,876.2 410.7,878.3 411.9,881.8 408.6,879.7 405.2,881.8 406.4,878.3 403.1,876.2 407.2,876.1" fill="none" stroke="#000" stroke-width="1.9" stroke-linejoin="miter" stroke-miterlimit="6"/>
<polygon points="440.5,854.8 441.9,858.2 446.0,858.3 442.7,860.4 443.9,863.9 440.5,861.8 437.1,863.9 438.3,860.4 435.0,858.3 439.1,858.2" fill="none" stroke="#000" stroke-width="1.9" stroke-linejoin="miter" stroke-miterlimit="6"/>
<polygon points="472.5,835.2 473.8,838.6 477.9,838.7 474.6,840.8 475.8,844.3 472.5,842.2 469.1,844.3 470.3,840.8 467.0,838.7 471.1,838.6" fill="none" stroke="#000" stroke-width="1.9" stroke-linejoin="miter" stroke-miterlimit="6"/>
<polygon points="504.4,816.3 505.8,819.7 509.9,819.8 506.6,821.9 507.8,825.4 504.4,823.3 501.0,825.4 502.2,821.9 498.9,819.8 503.0,819.7" fill="none" stroke="#000" stroke-width="1.9" stroke-linejoin="miter" stroke-miterlimit="6"/>
<polygon points="536.4,796.5 537.7,799.9 541.8,800.0 538.5,802.1 539.7,805.6 536.4,803.5 533.0,805.6 534.2,802.1 530.9,800.0 535.0,799.9" fill="none" stroke="#000" stroke-width="1.9" stroke-linejoin="miter" stroke-miterlimit="6"/>
<polygon points="568.3,775.8 569.7,779.1 573.8,779.2 570.5,781.4 571.7,784.8 568.3,782.8 564.9,784.8 566.1,781.4 562.8,779.2 566.9,779.1" fill="none" stroke="#000" stroke-width="1.9" stroke-linejoin="miter" stroke-miterlimit="6"/>
<polygon points="600.2,756.9 601.6,760.2 605.7,760.3 602.4,762.5 603.6,765.9 600.2,763.9 596.9,765.9 598.1,762.5 594.8,760.3 598.9,760.2" fill="none" stroke="#000" stroke-width="1.9" stroke-linejoin="miter" stroke-miterlimit="6"/>
<polygon points="632.2,735.4 633.6,738.8 637.7,738.9 634.4,741.0 635.6,744.5 632.2,742.4 628.8,744.5 630.0,741.0 626.7,738.9 630.8,738.8" fill="none" stroke="#000" stroke-width="1.9" stroke-linejoin="miter" stroke-miterlimit="6"/>
<polygon points="664.1,714.2 665.5,717.6 669.6,717.7 666.3,719.9 667.5,723.3 664.1,721.2 660.8,723.3 662.0,719.9 658.7,717.7 662.8,717.6" fill="none" stroke="#000" stroke-width="1.9" stroke-linejoin="miter" stroke-miterlimit="6"/>
<polygon points="696.1,692.8 697.5,696.2 701.6,696.3 698.3,698.4 699.5,701.9 696.1,699.8 692.7,701.9 693.9,698.4 690.6,696.3 694.7,696.2" fill="none" stroke="#000" stroke-width="1.9" stroke-linejoin="miter" stroke-miterlimit="6"/>
<polygon points="728.0,670.4 729.4,673.8 733.5,673.9 730.2,676.1 731.4,679.5 728.0,677.4 724.7,679.5 725.9,676.1 722.6,673.9 726.7,673.8" fill="none" stroke="#000" stroke-width="1.9" stroke-linejoin="miter" stroke-miterlimit="6"/>
<polygon points="760.0,649.0 761.4,652.4 765.5,652.5 762.2,654.6 763.4,658.0 760.0,656.0 756.6,658.0 757.8,654.6 754.5,652.5 758.6,652.4" fill="none" stroke="#000" stroke-width="1.9" stroke-linejoin="miter" stroke-miterlimit="6"/>
<line x1="121" y1="1087" x2="121" y2="1081" stroke="#7f7272" stroke-width="2"/>
<line x1="121" y1="654" x2="121" y2="660" stroke="#7f7272" stroke-width="2"/>
<line x1="280.75" y1="1087" x2="280.75" y2="1081" stroke="#7f7272" stroke-width="2"/>
<line x1="280.75" y1="654" x2="280.75" y2="660" stroke="#7f7272" stroke-width="2"/>
<line x1="440.5" y1="1087" x2="440.5" y2="1081" stroke="#7f7272" stroke-width="2"/>
<line x1="440.5" y1="654" x2="440.5" y2="660" stroke="#7f7272" stroke-width="2"/>
<line x1="600.25" y1="1087" x2="600.25" y2="1081" stroke="#7f7272" stroke-width="2"/>
<line x1="600.25" y1="654" x2="600.25" y2="660" stroke="#7f7272" stroke-width="2"/>
<line x1="760" y1="1087" x2="760" y2="1081" stroke="#7f7272" stroke-width="2"/>
<line x1="760" y1="654" x2="760" y2="660" stroke="#7f7272" stroke-width="2"/>
<line x1="121" y1="1087" x2="127" y2="1087" stroke="#7f7272" stroke-width="2"/>
<line x1="760" y1="1087" x2="754" y2="1087" stroke="#7f7272" stroke-width="2"/>
<line x1="121" y1="1014.83" x2="127" y2="1014.83" stroke="#7f7272" stroke-width="2"/>
<line x1="760" y1="1014.83" x2="754" y2="1014.83" stroke="#7f7272" stroke-width="2"/>
<line x1="121" y1="942.67" x2="127" y2="942.67" stroke="#7f7272" stroke-width="2"/>
<line x1="760" y1="942.67" x2="754" y2="942.67" stroke="#7f7272" stroke-width="2"/>
<line x1="121" y1="870.5" x2="127" y2="870.5" stroke="#7f7272" stroke-width="2"/>
<line x1="760" y1="870.5" x2="754" y2="870.5" stroke="#7f7272" stroke-width="2"/>
<line x1="121" y1="798.33" x2="127" y2="798.33" stroke="#7f7272" stroke-width="2"/>
<line x1="760" y1="798.33" x2="754" y2="798.33" stroke="#7f7272" stroke-width="2"/>
<line x1="121" y1="726.17" x2="127" y2="726.17" stroke="#7f7272" stroke-width="2"/>
<line x1="760" y1="726.17" x2="754" y2="726.17" stroke="#7f7272" stroke-width="2"/>
<line x1="121" y1="654" x2="127" y2="654" stroke="#7f7272" stroke-width="2"/>
<line x1="760" y1="654" x2="754" y2="654" stroke="#7f7272" stroke-width="2"/>
<rect x="121" y="654" width="639" height="433" fill="none" stroke="#7f7272" stroke-width="2.6"/>
<rect x="122.3" y="654.9" width="229.7" height="182.5" fill="#f0f0f0" stroke="#262626" stroke-width="2.6"/>
<line x1="138.2" y1="681.4" x2="226" y2="681.4" stroke="#0072BD" stroke-width="3"/>
<text transform="translate(232.57,685.30) scale(1.2470,1)" font-family='"Liberation Sans", Arial, Helvetica, sans-serif' font-size="26.23" font-weight="bold" fill="#000">N</text>
<text transform="translate(256.58,698.49) scale(1.0986,1)" font-family='"Liberation Sans", Arial, Helvetica, sans-serif' font-size="19.67" font-weight="bold" fill="#000">t</text>
<text transform="translate(271.69,685.30) scale(1.2473,1)" font-family='"Liberation Sans", Arial, Helvetica, sans-serif' font-size="26.23" font-weight="bold" fill="#000">= 0.0</text>
<line x1="138.2" y1="725" x2="226" y2="725" stroke="#D95319" stroke-width="3"/>
<text transform="translate(232.57,728.90) scale(1.2470,1)" font-family='"Liberation Sans", Arial, Helvetica, sans-serif' font-size="26.23" font-weight="bold" fill="#000">N</text>
<text transform="translate(256.58,742.09) scale(1.0986,1)" font-family='"Liberation Sans", Arial, Helvetica, sans-serif' font-size="19.67" font-weight="bold" fill="#000">t</text>
<text transform="translate(271.69,728.90) scale(1.2473,1)" font-family='"Liberation Sans", Arial, Helvetica, sans-serif' font-size="26.23" font-weight="bold" fill="#000">= 1.5</text>
<line x1="138.2" y1="768.2" x2="226" y2="768.2" stroke="#EDB120" stroke-width="3"/>
<text transform="translate(232.57,772.10) scale(1.2470,1)" font-family='"Liberation Sans", Arial, Helvetica, sans-serif' font-size="26.23" font-weight="bold" fill="#000">N</text>
<text transform="translate(256.58,785.29) scale(1.0986,1)" font-family='"Liberation Sans", Arial, Helvetica, sans-serif' font-size="19.67" font-weight="bold" fill="#000">t</text>
<text transform="translate(271.69,772.10) scale(1.2473,1)" font-family='"Liberation Sans", Arial, Helvetica, sans-serif' font-size="26.23" font-weight="bold" fill="#000">= 3.0</text>
<line x1="138.2" y1="811.8" x2="226" y2="811.8" stroke="#7E2F8E" stroke-width="3"/>
<text transform="translate(232.57,815.70) scale(1.2470,1)" font-family='"Liberation Sans", Arial, Helvetica, sans-serif' font-size="26.23" font-weight="bold" fill="#000">N</text>
<text transform="translate(256.58,828.89) scale(1.0986,1)" font-family='"Liberation Sans", Arial, Helvetica, sans-serif' font-size="19.67" font-weight="bold" fill="#000">t</text>
<text transform="translate(271.69,815.70) scale(1.2473,1)" font-family='"Liberation Sans", Arial, Helvetica, sans-serif' font-size="26.23" font-weight="bold" fill="#000">= 4.5</text>
<text transform="translate(111.26,1125.55) scale(1.1900,1)" font-family='"Liberation Sans", Arial, Helvetica, sans-serif' font-size="29.50" font-weight="bold" fill="#000">0</text>
<text transform="translate(256.09,1125.55) scale(1.1900,1)" font-family='"Liberation Sans", Arial, Helvetica, sans-serif' font-size="29.50" font-weight="bold" fill="#000">0.5</text>
<text transform="translate(427.95,1125.26) scale(1.1900,1)" font-family='"Liberation Sans", Arial, Helvetica, sans-serif' font-size="29.50" font-weight="bold" fill="#000">1</text>
<text transform="translate(575.15,1125.26) scale(1.1900,1)" font-family='"Liberation Sans", Arial, Helvetica, sans-serif' font-size="29.50" font-weight="bold" fill="#000">1.5</text>
<text transform="translate(750.35,1125.55) scale(1.1900,1)" font-family='"Liberation Sans", Arial, Helvetica, sans-serif' font-size="29.50" font-weight="bold" fill="#000">2</text>
<text transform="translate(48.43,1097.21) scale(1.2000,1)" font-family='"Liberation Sans", Arial, Helvetica, sans-serif' font-size="29.60" font-weight="bold" fill="#000">-0.2</text>
<text transform="translate(89.81,1025.05) scale(1.2000,1)" font-family='"Liberation Sans", Arial, Helvetica, sans-serif' font-size="29.60" font-weight="bold" fill="#000">0</text>
<text transform="translate(60.15,952.88) scale(1.2000,1)" font-family='"Liberation Sans", Arial, Helvetica, sans-serif' font-size="29.60" font-weight="bold" fill="#000">0.2</text>
<text transform="translate(58.90,880.71) scale(1.2000,1)" font-family='"Liberation Sans", Arial, Helvetica, sans-serif' font-size="29.60" font-weight="bold" fill="#000">0.4</text>
<text transform="translate(59.97,808.55) scale(1.2000,1)" font-family='"Liberation Sans", Arial, Helvetica, sans-serif' font-size="29.60" font-weight="bold" fill="#000">0.6</text>
<text transform="translate(59.79,736.38) scale(1.2000,1)" font-family='"Liberation Sans", Arial, Helvetica, sans-serif' font-size="29.60" font-weight="bold" fill="#000">0.8</text>
<text transform="translate(85.01,664.21) scale(1.2000,1)" font-family='"Liberation Sans", Arial, Helvetica, sans-serif' font-size="29.60" font-weight="bold" fill="#000">1</text>
<rect x="921" y="660" width="641" height="441" fill="#ebd8d8"/>
<line x1="1081.25" y1="660" x2="1081.25" y2="1101" stroke="#d3c0c0" stroke-width="1.6"/>
<line x1="1241.5" y1="660" x2="1241.5" y2="1101" stroke="#d3c0c0" stroke-width="1.6"/>
<line x1="1401.75" y1="660" x2="1401.75" y2="1101" stroke="#d3c0c0" stroke-width="1.6"/>
<line x1="921" y1="954" x2="1562" y2="954" stroke="#d3c0c0" stroke-width="1.6"/>
<line x1="921" y1="807" x2="1562" y2="807" stroke="#d3c0c0" stroke-width="1.6"/>
<line x1="923" y1="1056.75" x2="1562" y2="1056.75" stroke="#d3c0c0" stroke-width="1.8" stroke-dasharray="2.2,6.0"/>
<line x1="921" y1="1056.75" x2="924.6" y2="1056.75" stroke="#7f7272" stroke-width="2"/>
<line x1="1562" y1="1056.75" x2="1558.4" y2="1056.75" stroke="#7f7272" stroke-width="2"/>
<line x1="923" y1="1030.86" x2="1562" y2="1030.86" stroke="#d3c0c0" stroke-width="1.8" stroke-dasharray="2.2,6.0"/>
<line x1="921" y1="1030.86" x2="924.6" y2="1030.86" stroke="#7f7272" stroke-width="2"/>
<line x1="1562" y1="1030.86" x2="1558.4" y2="1030.86" stroke="#7f7272" stroke-width="2"/>
<line x1="923" y1="1012.5" x2="1562" y2="1012.5" stroke="#d3c0c0" stroke-width="1.8" stroke-dasharray="2.2,6.0"/>
<line x1="921" y1="1012.5" x2="924.6" y2="1012.5" stroke="#7f7272" stroke-width="2"/>
<line x1="1562" y1="1012.5" x2="1558.4" y2="1012.5" stroke="#7f7272" stroke-width="2"/>
<line x1="923" y1="998.25" x2="1562" y2="998.25" stroke="#d3c0c0" stroke-width="1.8" stroke-dasharray="2.2,6.0"/>
<line x1="921" y1="998.25" x2="924.6" y2="998.25" stroke="#7f7272" stroke-width="2"/>
<line x1="1562" y1="998.25" x2="1558.4" y2="998.25" stroke="#7f7272" stroke-width="2"/>
<line x1="923" y1="986.61" x2="1562" y2="986.61" stroke="#d3c0c0" stroke-width="1.8" stroke-dasharray="2.2,6.0"/>
<line x1="921" y1="986.61" x2="924.6" y2="986.61" stroke="#7f7272" stroke-width="2"/>
<line x1="1562" y1="986.61" x2="1558.4" y2="986.61" stroke="#7f7272" stroke-width="2"/>
<line x1="923" y1="976.77" x2="1562" y2="976.77" stroke="#d3c0c0" stroke-width="1.8" stroke-dasharray="2.2,6.0"/>
<line x1="921" y1="976.77" x2="924.6" y2="976.77" stroke="#7f7272" stroke-width="2"/>
<line x1="1562" y1="976.77" x2="1558.4" y2="976.77" stroke="#7f7272" stroke-width="2"/>
<line x1="923" y1="968.25" x2="1562" y2="968.25" stroke="#d3c0c0" stroke-width="1.8" stroke-dasharray="2.2,6.0"/>
<line x1="921" y1="968.25" x2="924.6" y2="968.25" stroke="#7f7272" stroke-width="2"/>
<line x1="1562" y1="968.25" x2="1558.4" y2="968.25" stroke="#7f7272" stroke-width="2"/>
<line x1="923" y1="960.73" x2="1562" y2="960.73" stroke="#d3c0c0" stroke-width="1.8" stroke-dasharray="2.2,6.0"/>
<line x1="921" y1="960.73" x2="924.6" y2="960.73" stroke="#7f7272" stroke-width="2"/>
<line x1="1562" y1="960.73" x2="1558.4" y2="960.73" stroke="#7f7272" stroke-width="2"/>
<line x1="923" y1="909.75" x2="1562" y2="909.75" stroke="#d3c0c0" stroke-width="1.8" stroke-dasharray="2.2,6.0"/>
<line x1="921" y1="909.75" x2="924.6" y2="909.75" stroke="#7f7272" stroke-width="2"/>
<line x1="1562" y1="909.75" x2="1558.4" y2="909.75" stroke="#7f7272" stroke-width="2"/>
<line x1="923" y1="883.86" x2="1562" y2="883.86" stroke="#d3c0c0" stroke-width="1.8" stroke-dasharray="2.2,6.0"/>
<line x1="921" y1="883.86" x2="924.6" y2="883.86" stroke="#7f7272" stroke-width="2"/>
<line x1="1562" y1="883.86" x2="1558.4" y2="883.86" stroke="#7f7272" stroke-width="2"/>
<line x1="923" y1="865.5" x2="1562" y2="865.5" stroke="#d3c0c0" stroke-width="1.8" stroke-dasharray="2.2,6.0"/>
<line x1="921" y1="865.5" x2="924.6" y2="865.5" stroke="#7f7272" stroke-width="2"/>
<line x1="1562" y1="865.5" x2="1558.4" y2="865.5" stroke="#7f7272" stroke-width="2"/>
<line x1="923" y1="851.25" x2="1562" y2="851.25" stroke="#d3c0c0" stroke-width="1.8" stroke-dasharray="2.2,6.0"/>
<line x1="921" y1="851.25" x2="924.6" y2="851.25" stroke="#7f7272" stroke-width="2"/>
<line x1="1562" y1="851.25" x2="1558.4" y2="851.25" stroke="#7f7272" stroke-width="2"/>
<line x1="923" y1="839.61" x2="1562" y2="839.61" stroke="#d3c0c0" stroke-width="1.8" stroke-dasharray="2.2,6.0"/>
<line x1="921" y1="839.61" x2="924.6" y2="839.61" stroke="#7f7272" stroke-width="2"/>
<line x1="1562" y1="839.61" x2="1558.4" y2="839.61" stroke="#7f7272" stroke-width="2"/>
<line x1="923" y1="829.77" x2="1562" y2="829.77" stroke="#d3c0c0" stroke-width="1.8" stroke-dasharray="2.2,6.0"/>
<line x1="921" y1="829.77" x2="924.6" y2="829.77" stroke="#7f7272" stroke-width="2"/>
<line x1="1562" y1="829.77" x2="1558.4" y2="829.77" stroke="#7f7272" stroke-width="2"/>
<line x1="923" y1="821.25" x2="1562" y2="821.25" stroke="#d3c0c0" stroke-width="1.8" stroke-dasharray="2.2,6.0"/>
<line x1="921" y1="821.25" x2="924.6" y2="821.25" stroke="#7f7272" stroke-width="2"/>
<line x1="1562" y1="821.25" x2="1558.4" y2="821.25" stroke="#7f7272" stroke-width="2"/>
<line x1="923" y1="813.73" x2="1562" y2="813.73" stroke="#d3c0c0" stroke-width="1.8" stroke-dasharray="2.2,6.0"/>
<line x1="921" y1="813.73" x2="924.6" y2="813.73" stroke="#7f7272" stroke-width="2"/>
<line x1="1562" y1="813.73" x2="1558.4" y2="813.73" stroke="#7f7272" stroke-width="2"/>
<line x1="923" y1="762.75" x2="1562" y2="762.75" stroke="#d3c0c0" stroke-width="1.8" stroke-dasharray="2.2,6.0"/>
<line x1="921" y1="762.75" x2="924.6" y2="762.75" stroke="#7f7272" stroke-width="2"/>
<line x1="1562" y1="762.75" x2="1558.4" y2="762.75" stroke="#7f7272" stroke-width="2"/>
<line x1="923" y1="736.86" x2="1562" y2="736.86" stroke="#d3c0c0" stroke-width="1.8" stroke-dasharray="2.2,6.0"/>
<line x1="921" y1="736.86" x2="924.6" y2="736.86" stroke="#7f7272" stroke-width="2"/>
<line x1="1562" y1="736.86" x2="1558.4" y2="736.86" stroke="#7f7272" stroke-width="2"/>
<line x1="923" y1="718.5" x2="1562" y2="718.5" stroke="#d3c0c0" stroke-width="1.8" stroke-dasharray="2.2,6.0"/>
<line x1="921" y1="718.5" x2="924.6" y2="718.5" stroke="#7f7272" stroke-width="2"/>
<line x1="1562" y1="718.5" x2="1558.4" y2="718.5" stroke="#7f7272" stroke-width="2"/>
<line x1="923" y1="704.25" x2="1562" y2="704.25" stroke="#d3c0c0" stroke-width="1.8" stroke-dasharray="2.2,6.0"/>
<line x1="921" y1="704.25" x2="924.6" y2="704.25" stroke="#7f7272" stroke-width="2"/>
<line x1="1562" y1="704.25" x2="1558.4" y2="704.25" stroke="#7f7272" stroke-width="2"/>
<line x1="923" y1="692.61" x2="1562" y2="692.61" stroke="#d3c0c0" stroke-width="1.8" stroke-dasharray="2.2,6.0"/>
<line x1="921" y1="692.61" x2="924.6" y2="692.61" stroke="#7f7272" stroke-width="2"/>
<line x1="1562" y1="692.61" x2="1558.4" y2="692.61" stroke="#7f7272" stroke-width="2"/>
<line x1="923" y1="682.77" x2="1562" y2="682.77" stroke="#d3c0c0" stroke-width="1.8" stroke-dasharray="2.2,6.0"/>
<line x1="921" y1="682.77" x2="924.6" y2="682.77" stroke="#7f7272" stroke-width="2"/>
<line x1="1562" y1="682.77" x2="1558.4" y2="682.77" stroke="#7f7272" stroke-width="2"/>
<line x1="923" y1="674.25" x2="1562" y2="674.25" stroke="#d3c0c0" stroke-width="1.8" stroke-dasharray="2.2,6.0"/>
<line x1="921" y1="674.25" x2="924.6" y2="674.25" stroke="#7f7272" stroke-width="2"/>
<line x1="1562" y1="674.25" x2="1558.4" y2="674.25" stroke="#7f7272" stroke-width="2"/>
<line x1="923" y1="666.73" x2="1562" y2="666.73" stroke="#d3c0c0" stroke-width="1.8" stroke-dasharray="2.2,6.0"/>
<line x1="921" y1="666.73" x2="924.6" y2="666.73" stroke="#7f7272" stroke-width="2"/>
<line x1="1562" y1="666.73" x2="1558.4" y2="666.73" stroke="#7f7272" stroke-width="2"/>
<clipPath id="cd"><rect x="921" y="660" width="641" height="441"/></clipPath>
<g clip-path="url(#cd)">
<polyline points="921.0,867.9 953.0,912.6 985.1,865.3 1017.1,908.7 1049.2,992.2 1081.2,925.8 1113.3,911.3 1145.3,910.7 1177.4,857.4 1209.5,836.3 1241.5,879.1 1273.5,808.7 1305.6,902.1 1337.7,837.3 1369.7,820.0 1401.8,863.0 1433.8,847.8 1465.8,815.0 1497.9,933.6 1529.9,815.0 1562.0,914.5" fill="none" stroke="#0072BD" stroke-width="3.7" stroke-linejoin="round"/>
<polyline points="921.0,879.1 953.0,929.7 985.1,985.0 1017.1,858.7 1049.2,822.5 1081.2,951.4 1113.3,805.4 1145.3,873.8 1177.4,794.9 1209.5,842.2 1241.5,820.5 1273.5,806.7 1305.6,938.4 1337.7,857.3 1369.7,822.0 1401.8,815.0 1433.8,815.0 1465.8,815.0 1497.9,956.5 1529.9,815.0 1562.0,901.2" fill="none" stroke="#D95319" stroke-width="3.7" stroke-linejoin="round"/>
<polyline points="921.0,871.8 953.0,903.4 985.1,827.1 1017.1,791.6 1049.2,803.4 1081.2,803.4 1113.3,791.6 1145.3,857.4 1177.4,793.6 1209.5,999.5 1241.5,827.1 1273.5,844.2 1305.6,905.5 1337.7,913.3 1369.7,822.0 1401.8,815.0 1433.8,815.0 1465.8,815.0 1497.9,1015.7 1529.9,815.0 1562.0,905.0" fill="none" stroke="#EDB120" stroke-width="3.7" stroke-linejoin="round" stroke-dasharray="3.7,4.4"/>
<polyline points="921.0,747.4 953.0,756.8 985.1,776.8 1017.1,799.0 1049.2,929.7 1081.2,789.0 1113.3,824.5 1145.3,825.8 1177.4,816.6 1209.5,962.6 1241.5,844.2 1273.5,836.3 1305.6,874.5 1337.7,899.3 1369.7,822.0 1401.8,815.0 1433.8,815.0 1465.8,815.0 1497.9,1051.9 1529.9,815.0 1562.0,884.7" fill="none" stroke="#7E2F8E" stroke-width="3.7" stroke-linejoin="round" stroke-dasharray="3.7,4.4"/>
</g>
<line x1="921" y1="1101" x2="921" y2="1095" stroke="#7f7272" stroke-width="2"/>
<line x1="921" y1="660" x2="921" y2="666" stroke="#7f7272" stroke-width="2"/>
<line x1="1081.25" y1="1101" x2="1081.25" y2="1095" stroke="#7f7272" stroke-width="2"/>
<line x1="1081.25" y1="660" x2="1081.25" y2="666" stroke="#7f7272" stroke-width="2"/>
<line x1="1241.5" y1="1101" x2="1241.5" y2="1095" stroke="#7f7272" stroke-width="2"/>
<line x1="1241.5" y1="660" x2="1241.5" y2="666" stroke="#7f7272" stroke-width="2"/>
<line x1="1401.75" y1="1101" x2="1401.75" y2="1095" stroke="#7f7272" stroke-width="2"/>
<line x1="1401.75" y1="660" x2="1401.75" y2="666" stroke="#7f7272" stroke-width="2"/>
<line x1="1562" y1="1101" x2="1562" y2="1095" stroke="#7f7272" stroke-width="2"/>
<line x1="1562" y1="660" x2="1562" y2="666" stroke="#7f7272" stroke-width="2"/>
<line x1="921" y1="1101" x2="927" y2="1101" stroke="#7f7272" stroke-width="2"/>
<line x1="1562" y1="1101" x2="1556" y2="1101" stroke="#7f7272" stroke-width="2"/>
<line x1="921" y1="954" x2="927" y2="954" stroke="#7f7272" stroke-width="2"/>
<line x1="1562" y1="954" x2="1556" y2="954" stroke="#7f7272" stroke-width="2"/>
<line x1="921" y1="807" x2="927" y2="807" stroke="#7f7272" stroke-width="2"/>
<line x1="1562" y1="807" x2="1556" y2="807" stroke="#7f7272" stroke-width="2"/>
<line x1="921" y1="660" x2="927" y2="660" stroke="#7f7272" stroke-width="2"/>
<line x1="1562" y1="660" x2="1556" y2="660" stroke="#7f7272" stroke-width="2"/>
<rect x="921" y="660" width="641" height="441" fill="none" stroke="#7f7272" stroke-width="2.6"/>
<rect x="1342" y="659.5" width="219" height="173.3" fill="#f0f0f0" stroke="#262626" stroke-width="2.6"/>
<line x1="1357.4" y1="684" x2="1440.4" y2="684" stroke="#0072BD" stroke-width="3"/>
<text transform="translate(1445.86,688.30) scale(1.2155,1)" font-family='"Liberation Sans", Arial, Helvetica, sans-serif' font-size="25.80" font-weight="bold" fill="#000">N</text>
<text transform="translate(1469.40,701.27) scale(1.0504,1)" font-family='"Liberation Sans", Arial, Helvetica, sans-serif' font-size="19.35" font-weight="bold" fill="#000">t</text>
<text transform="translate(1483.76,688.30) scale(1.1986,1)" font-family='"Liberation Sans", Arial, Helvetica, sans-serif' font-size="25.80" font-weight="bold" fill="#000">= 0.0</text>
<line x1="1357.4" y1="725.5" x2="1440.4" y2="725.5" stroke="#D95319" stroke-width="3"/>
<text transform="translate(1445.86,729.80) scale(1.2155,1)" font-family='"Liberation Sans", Arial, Helvetica, sans-serif' font-size="25.80" font-weight="bold" fill="#000">N</text>
<text transform="translate(1469.40,742.77) scale(1.0504,1)" font-family='"Liberation Sans", Arial, Helvetica, sans-serif' font-size="19.35" font-weight="bold" fill="#000">t</text>
<text transform="translate(1483.76,729.80) scale(1.1986,1)" font-family='"Liberation Sans", Arial, Helvetica, sans-serif' font-size="25.80" font-weight="bold" fill="#000">= 1.5</text>
<line x1="1357.4" y1="767" x2="1440.4" y2="767" stroke="#EDB120" stroke-width="3" stroke-dasharray="3.6,4.3"/>
<text transform="translate(1445.86,771.30) scale(1.2155,1)" font-family='"Liberation Sans", Arial, Helvetica, sans-serif' font-size="25.80" font-weight="bold" fill="#000">N</text>
<text transform="translate(1469.40,784.27) scale(1.0504,1)" font-family='"Liberation Sans", Arial, Helvetica, sans-serif' font-size="19.35" font-weight="bold" fill="#000">t</text>
<text transform="translate(1483.76,771.30) scale(1.1986,1)" font-family='"Liberation Sans", Arial, Helvetica, sans-serif' font-size="25.80" font-weight="bold" fill="#000">= 3.0</text>
<line x1="1357.4" y1="808.5" x2="1440.4" y2="808.5" stroke="#7E2F8E" stroke-width="3" stroke-dasharray="3.6,4.3"/>
<text transform="translate(1445.86,812.80) scale(1.2155,1)" font-family='"Liberation Sans", Arial, Helvetica, sans-serif' font-size="25.80" font-weight="bold" fill="#000">N</text>
<text transform="translate(1469.40,825.77) scale(1.0504,1)" font-family='"Liberation Sans", Arial, Helvetica, sans-serif' font-size="19.35" font-weight="bold" fill="#000">t</text>
<text transform="translate(1483.76,812.80) scale(1.1986,1)" font-family='"Liberation Sans", Arial, Helvetica, sans-serif' font-size="25.80" font-weight="bold" fill="#000">= 4.5</text>
<text transform="translate(911.58,1138.30) scale(1.1700,1)" font-family='"Liberation Sans", Arial, Helvetica, sans-serif' font-size="29.00" font-weight="bold" fill="#000">0</text>
<text transform="translate(1057.41,1138.30) scale(1.1700,1)" font-family='"Liberation Sans", Arial, Helvetica, sans-serif' font-size="29.00" font-weight="bold" fill="#000">0.5</text>
<text transform="translate(1229.37,1138.01) scale(1.1700,1)" font-family='"Liberation Sans", Arial, Helvetica, sans-serif' font-size="29.00" font-weight="bold" fill="#000">1</text>
<text transform="translate(1377.49,1138.01) scale(1.1700,1)" font-family='"Liberation Sans", Arial, Helvetica, sans-serif' font-size="29.00" font-weight="bold" fill="#000">1.5</text>
<text transform="translate(1552.67,1138.30) scale(1.1700,1)" font-family='"Liberation Sans", Arial, Helvetica, sans-serif' font-size="29.00" font-weight="bold" fill="#000">2</text>
<text transform="translate(847.68,1113.56) scale(1.1800,1)" font-family='"Liberation Sans", Arial, Helvetica, sans-serif' font-size="28.30" font-weight="bold" fill="#000">10</text>
<text transform="translate(886.78,1100.26) scale(1.0700,1)" font-family='"Liberation Sans", Arial, Helvetica, sans-serif' font-size="21.70" font-weight="bold" fill="#000">-7</text>
<text transform="translate(847.44,966.56) scale(1.1800,1)" font-family='"Liberation Sans", Arial, Helvetica, sans-serif' font-size="28.30" font-weight="bold" fill="#000">10</text>
<text transform="translate(886.55,953.26) scale(1.0700,1)" font-family='"Liberation Sans", Arial, Helvetica, sans-serif' font-size="21.70" font-weight="bold" fill="#000">-6</text>
<text transform="translate(847.21,819.56) scale(1.1800,1)" font-family='"Liberation Sans", Arial, Helvetica, sans-serif' font-size="28.30" font-weight="bold" fill="#000">10</text>
<text transform="translate(886.32,806.26) scale(1.0700,1)" font-family='"Liberation Sans", Arial, Helvetica, sans-serif' font-size="21.70" font-weight="bold" fill="#000">-5</text>
<text transform="translate(846.75,672.56) scale(1.1800,1)" font-family='"Liberation Sans", Arial, Helvetica, sans-serif' font-size="28.30" font-weight="bold" fill="#000">10</text>
<text transform="translate(885.85,659.26) scale(1.0700,1)" font-family='"Liberation Sans", Arial, Helvetica, sans-serif' font-size="21.70" font-weight="bold" fill="#000">-4</text>
<rect x="110" y="1267" width="650" height="445.5" fill="#bad3f2"/>
<line x1="272.5" y1="1267" x2="272.5" y2="1712.5" stroke="#a3bbd8" stroke-width="1.6"/>
<line x1="435" y1="1267" x2="435" y2="1712.5" stroke="#a3bbd8" stroke-width="1.6"/>
<line x1="597.5" y1="1267" x2="597.5" y2="1712.5" stroke="#a3bbd8" stroke-width="1.6"/>
<line x1="110" y1="1648.86" x2="760" y2="1648.86" stroke="#a3bbd8" stroke-width="1.6"/>
<line x1="110" y1="1585.21" x2="760" y2="1585.21" stroke="#a3bbd8" stroke-width="1.6"/>
<line x1="110" y1="1521.57" x2="760" y2="1521.57" stroke="#a3bbd8" stroke-width="1.6"/>
<line x1="110" y1="1457.93" x2="760" y2="1457.93" stroke="#a3bbd8" stroke-width="1.6"/>
<line x1="110" y1="1394.29" x2="760" y2="1394.29" stroke="#a3bbd8" stroke-width="1.6"/>
<line x1="110" y1="1330.64" x2="760" y2="1330.64" stroke="#a3bbd8" stroke-width="1.6"/>
<path d="M110.0,1585.2 C115.4,1595.3 131.7,1631.7 142.5,1645.5 C153.3,1659.3 164.2,1664.5 175.0,1668.2 C185.8,1671.9 196.7,1669.6 207.5,1667.7 C218.3,1665.8 229.2,1661.4 240.0,1656.7 C250.8,1652.0 261.7,1646.0 272.5,1639.5 C283.3,1633.0 294.2,1625.0 305.0,1617.8 C315.8,1610.5 326.7,1603.8 337.5,1596.0 C348.3,1588.2 359.2,1579.4 370.0,1571.0 C380.8,1562.6 391.7,1554.3 402.5,1545.8 C413.3,1537.2 424.2,1528.2 435.0,1519.7 C445.8,1511.2 456.7,1503.3 467.5,1494.9 C478.3,1486.6 489.2,1478.1 500.0,1469.6 C510.8,1461.2 521.7,1452.8 532.5,1444.4 C543.3,1436.0 554.2,1427.4 565.0,1419.1 C575.8,1410.8 586.7,1403.0 597.5,1394.5 C608.3,1386.0 619.2,1376.8 630.0,1368.1 C640.8,1359.4 651.7,1350.9 662.5,1342.4 C673.3,1333.9 684.2,1325.4 695.0,1317.1 C705.8,1308.7 716.7,1300.6 727.5,1292.3 C738.3,1283.9 754.6,1271.2 760.0,1267.0" fill="none" stroke="#7E2F8E" stroke-width="3.0" stroke-linejoin="round"/>
<polygon points="110.0,1580.2 111.4,1583.6 115.5,1583.7 112.2,1585.8 113.4,1589.3 110.0,1587.2 106.6,1589.3 107.8,1585.8 104.5,1583.7 108.6,1583.6" fill="none" stroke="#000" stroke-width="1.9" stroke-linejoin="miter" stroke-miterlimit="6"/>
<polygon points="142.5,1640.5 143.9,1643.9 148.0,1643.9 144.7,1646.1 145.9,1649.5 142.5,1647.5 139.1,1649.5 140.3,1646.1 137.0,1643.9 141.1,1643.9" fill="none" stroke="#000" stroke-width="1.9" stroke-linejoin="miter" stroke-miterlimit="6"/>
<polygon points="175.0,1663.2 176.4,1666.6 180.5,1666.6 177.2,1668.8 178.4,1672.2 175.0,1670.2 171.6,1672.2 172.8,1668.8 169.5,1666.6 173.6,1666.6" fill="none" stroke="#000" stroke-width="1.9" stroke-linejoin="miter" stroke-miterlimit="6"/>
<polygon points="207.5,1662.7 208.9,1666.1 213.0,1666.2 209.7,1668.3 210.9,1671.8 207.5,1669.7 204.1,1671.8 205.3,1668.3 202.0,1666.2 206.1,1666.1" fill="none" stroke="#000" stroke-width="1.9" stroke-linejoin="miter" stroke-miterlimit="6"/>
<polygon points="240.0,1651.7 241.4,1655.1 245.5,1655.2 242.2,1657.3 243.4,1660.8 240.0,1658.7 236.6,1660.8 237.8,1657.3 234.5,1655.2 238.6,1655.1" fill="none" stroke="#000" stroke-width="1.9" stroke-linejoin="miter" stroke-miterlimit="6"/>
<polygon points="272.5,1634.5 273.9,1637.9 278.0,1638.0 274.7,1640.2 275.9,1643.6 272.5,1641.5 269.1,1643.6 270.3,1640.2 267.0,1638.0 271.1,1637.9" fill="none" stroke="#000" stroke-width="1.9" stroke-linejoin="miter" stroke-miterlimit="6"/>
<polygon points="305.0,1612.8 306.4,1616.1 310.5,1616.2 307.2,1618.4 308.4,1621.8 305.0,1619.8 301.6,1621.8 302.8,1618.4 299.5,1616.2 303.6,1616.1" fill="none" stroke="#000" stroke-width="1.9" stroke-linejoin="miter" stroke-miterlimit="6"/>
<polygon points="337.5,1591.0 338.9,1594.4 343.0,1594.4 339.7,1596.6 340.9,1600.0 337.5,1598.0 334.1,1600.0 335.3,1596.6 332.0,1594.4 336.1,1594.4" fill="none" stroke="#000" stroke-width="1.9" stroke-linejoin="miter" stroke-miterlimit="6"/>
<polygon points="370.0,1566.0 371.4,1569.4 375.5,1569.4 372.2,1571.6 373.4,1575.0 370.0,1573.0 366.6,1575.0 367.8,1571.6 364.5,1569.4 368.6,1569.4" fill="none" stroke="#000" stroke-width="1.9" stroke-linejoin="miter" stroke-miterlimit="6"/>
<polygon points="402.5,1540.8 403.9,1544.2 408.0,1544.2 404.7,1546.4 405.9,1549.8 402.5,1547.8 399.1,1549.8 400.3,1546.4 397.0,1544.2 401.1,1544.2" fill="none" stroke="#000" stroke-width="1.9" stroke-linejoin="miter" stroke-miterlimit="6"/>
<polygon points="435.0,1514.7 436.4,1518.1 440.5,1518.2 437.2,1520.3 438.4,1523.8 435.0,1521.7 431.6,1523.8 432.8,1520.3 429.5,1518.2 433.6,1518.1" fill="none" stroke="#000" stroke-width="1.9" stroke-linejoin="miter" stroke-miterlimit="6"/>
<polygon points="467.5,1489.9 468.9,1493.3 473.0,1493.4 469.7,1495.5 470.9,1499.0 467.5,1496.9 464.1,1499.0 465.3,1495.5 462.0,1493.4 466.1,1493.3" fill="none" stroke="#000" stroke-width="1.9" stroke-linejoin="miter" stroke-miterlimit="6"/>
<polygon points="500.0,1464.6 501.4,1468.0 505.5,1468.1 502.2,1470.3 503.4,1473.7 500.0,1471.6 496.6,1473.7 497.8,1470.3 494.5,1468.1 498.6,1468.0" fill="none" stroke="#000" stroke-width="1.9" stroke-linejoin="miter" stroke-miterlimit="6"/>
<polygon points="532.5,1439.4 533.9,1442.8 538.0,1442.8 534.7,1445.0 535.9,1448.4 532.5,1446.4 529.1,1448.4 530.3,1445.0 527.0,1442.8 531.1,1442.8" fill="none" stroke="#000" stroke-width="1.9" stroke-linejoin="miter" stroke-miterlimit="6"/>
<polygon points="565.0,1414.1 566.4,1417.5 570.5,1417.6 567.2,1419.7 568.4,1423.2 565.0,1421.1 561.6,1423.2 562.8,1419.7 559.5,1417.6 563.6,1417.5" fill="none" stroke="#000" stroke-width="1.9" stroke-linejoin="miter" stroke-miterlimit="6"/>
<polygon points="597.5,1389.5 598.9,1392.9 603.0,1393.0 599.7,1395.1 600.9,1398.6 597.5,1396.5 594.1,1398.6 595.3,1395.1 592.0,1393.0 596.1,1392.9" fill="none" stroke="#000" stroke-width="1.9" stroke-linejoin="miter" stroke-miterlimit="6"/>
<polygon points="630.0,1363.1 631.4,1366.5 635.5,1366.6 632.2,1368.7 633.4,1372.1 630.0,1370.1 626.6,1372.1 627.8,1368.7 624.5,1366.6 628.6,1366.5" fill="none" stroke="#000" stroke-width="1.9" stroke-linejoin="miter" stroke-miterlimit="6"/>
<polygon points="662.5,1337.4 663.9,1340.7 668.0,1340.8 664.7,1343.0 665.9,1346.4 662.5,1344.4 659.1,1346.4 660.3,1343.0 657.0,1340.8 661.1,1340.7" fill="none" stroke="#000" stroke-width="1.9" stroke-linejoin="miter" stroke-miterlimit="6"/>
<polygon points="695.0,1312.1 696.4,1315.5 700.5,1315.5 697.2,1317.7 698.4,1321.1 695.0,1319.1 691.6,1321.1 692.8,1317.7 689.5,1315.5 693.6,1315.5" fill="none" stroke="#000" stroke-width="1.9" stroke-linejoin="miter" stroke-miterlimit="6"/>
<polygon points="727.5,1287.3 728.9,1290.6 733.0,1290.7 729.7,1292.9 730.9,1296.3 727.5,1294.3 724.1,1296.3 725.3,1292.9 722.0,1290.7 726.1,1290.6" fill="none" stroke="#000" stroke-width="1.9" stroke-linejoin="miter" stroke-miterlimit="6"/>
<polygon points="760.0,1262.0 761.4,1265.4 765.5,1265.5 762.2,1267.6 763.4,1271.0 760.0,1269.0 756.6,1271.0 757.8,1267.6 754.5,1265.5 758.6,1265.4" fill="none" stroke="#000" stroke-width="1.9" stroke-linejoin="miter" stroke-miterlimit="6"/>
<path d="M110.0,1585.2 C115.4,1585.7 131.7,1587.9 142.5,1588.2 C153.3,1588.5 164.2,1587.8 175.0,1586.8 C185.8,1585.8 196.7,1584.3 207.5,1582.2 C218.3,1580.1 229.2,1577.0 240.0,1574.2 C250.8,1571.4 261.7,1568.9 272.5,1565.3 C283.3,1561.6 294.2,1556.9 305.0,1552.4 C315.8,1547.9 326.7,1543.2 337.5,1538.2 C348.3,1533.3 359.2,1528.1 370.0,1522.7 C380.8,1517.2 391.7,1511.3 402.5,1505.5 C413.3,1499.6 424.2,1493.9 435.0,1487.6 C445.8,1481.2 456.7,1473.9 467.5,1467.3 C478.3,1460.8 489.2,1454.8 500.0,1448.1 C510.8,1441.3 521.7,1433.7 532.5,1426.7 C543.3,1419.7 554.2,1413.3 565.0,1406.0 C575.8,1398.7 586.7,1390.7 597.5,1383.0 C608.3,1375.4 619.2,1367.7 630.0,1360.0 C640.8,1352.4 651.7,1344.6 662.5,1337.1 C673.3,1329.5 684.2,1322.6 695.0,1314.8 C705.8,1306.9 716.7,1297.9 727.5,1290.0 C738.3,1282.0 754.6,1270.8 760.0,1267.0" fill="none" stroke="#EDB120" stroke-width="3.0" stroke-linejoin="round"/>
<polygon points="110.0,1580.2 111.4,1583.6 115.5,1583.7 112.2,1585.8 113.4,1589.3 110.0,1587.2 106.6,1589.3 107.8,1585.8 104.5,1583.7 108.6,1583.6" fill="none" stroke="#000" stroke-width="1.9" stroke-linejoin="miter" stroke-miterlimit="6"/>
<polygon points="142.5,1583.2 143.9,1586.6 148.0,1586.7 144.7,1588.8 145.9,1592.3 142.5,1590.2 139.1,1592.3 140.3,1588.8 137.0,1586.7 141.1,1586.6" fill="none" stroke="#000" stroke-width="1.9" stroke-linejoin="miter" stroke-miterlimit="6"/>
<polygon points="175.0,1581.8 176.4,1585.2 180.5,1585.3 177.2,1587.4 178.4,1590.9 175.0,1588.8 171.6,1590.9 172.8,1587.4 169.5,1585.3 173.6,1585.2" fill="none" stroke="#000" stroke-width="1.9" stroke-linejoin="miter" stroke-miterlimit="6"/>
<polygon points="207.5,1577.2 208.9,1580.6 213.0,1580.7 209.7,1582.8 210.9,1586.3 207.5,1584.2 204.1,1586.3 205.3,1582.8 202.0,1580.7 206.1,1580.6" fill="none" stroke="#000" stroke-width="1.9" stroke-linejoin="miter" stroke-miterlimit="6"/>
<polygon points="240.0,1569.2 241.4,1572.6 245.5,1572.7 242.2,1574.8 243.4,1578.2 240.0,1576.2 236.6,1578.2 237.8,1574.8 234.5,1572.7 238.6,1572.6" fill="none" stroke="#000" stroke-width="1.9" stroke-linejoin="miter" stroke-miterlimit="6"/>
<polygon points="272.5,1560.3 273.9,1563.6 278.0,1563.7 274.7,1565.9 275.9,1569.3 272.5,1567.3 269.1,1569.3 270.3,1565.9 267.0,1563.7 271.1,1563.6" fill="none" stroke="#000" stroke-width="1.9" stroke-linejoin="miter" stroke-miterlimit="6"/>
<polygon points="305.0,1547.4 306.4,1550.8 310.5,1550.9 307.2,1553.1 308.4,1556.5 305.0,1554.4 301.6,1556.5 302.8,1553.1 299.5,1550.9 303.6,1550.8" fill="none" stroke="#000" stroke-width="1.9" stroke-linejoin="miter" stroke-miterlimit="6"/>
<polygon points="337.5,1533.2 338.9,1536.6 343.0,1536.7 339.7,1538.9 340.9,1542.3 337.5,1540.2 334.1,1542.3 335.3,1538.9 332.0,1536.7 336.1,1536.6" fill="none" stroke="#000" stroke-width="1.9" stroke-linejoin="miter" stroke-miterlimit="6"/>
<polygon points="370.0,1517.7 371.4,1521.0 375.5,1521.1 372.2,1523.3 373.4,1526.7 370.0,1524.7 366.6,1526.7 367.8,1523.3 364.5,1521.1 368.6,1521.0" fill="none" stroke="#000" stroke-width="1.9" stroke-linejoin="miter" stroke-miterlimit="6"/>
<polygon points="402.5,1500.5 403.9,1503.9 408.0,1503.9 404.7,1506.1 405.9,1509.5 402.5,1507.5 399.1,1509.5 400.3,1506.1 397.0,1503.9 401.1,1503.9" fill="none" stroke="#000" stroke-width="1.9" stroke-linejoin="miter" stroke-miterlimit="6"/>
<polygon points="435.0,1482.6 436.4,1485.9 440.5,1486.0 437.2,1488.2 438.4,1491.6 435.0,1489.6 431.6,1491.6 432.8,1488.2 429.5,1486.0 433.6,1485.9" fill="none" stroke="#000" stroke-width="1.9" stroke-linejoin="miter" stroke-miterlimit="6"/>
<polygon points="467.5,1462.3 468.9,1465.7 473.0,1465.8 469.7,1468.0 470.9,1471.4 467.5,1469.3 464.1,1471.4 465.3,1468.0 462.0,1465.8 466.1,1465.7" fill="none" stroke="#000" stroke-width="1.9" stroke-linejoin="miter" stroke-miterlimit="6"/>
<polygon points="500.0,1443.1 501.4,1446.4 505.5,1446.5 502.2,1448.7 503.4,1452.1 500.0,1450.1 496.6,1452.1 497.8,1448.7 494.5,1446.5 498.6,1446.4" fill="none" stroke="#000" stroke-width="1.9" stroke-linejoin="miter" stroke-miterlimit="6"/>
<polygon points="532.5,1421.7 533.9,1425.1 538.0,1425.1 534.7,1427.3 535.9,1430.7 532.5,1428.7 529.1,1430.7 530.3,1427.3 527.0,1425.1 531.1,1425.1" fill="none" stroke="#000" stroke-width="1.9" stroke-linejoin="miter" stroke-miterlimit="6"/>
<polygon points="565.0,1401.0 566.4,1404.4 570.5,1404.5 567.2,1406.6 568.4,1410.0 565.0,1408.0 561.6,1410.0 562.8,1406.6 559.5,1404.5 563.6,1404.4" fill="none" stroke="#000" stroke-width="1.9" stroke-linejoin="miter" stroke-miterlimit="6"/>
<polygon points="597.5,1378.0 598.9,1381.4 603.0,1381.5 599.7,1383.6 600.9,1387.1 597.5,1385.0 594.1,1387.1 595.3,1383.6 592.0,1381.5 596.1,1381.4" fill="none" stroke="#000" stroke-width="1.9" stroke-linejoin="miter" stroke-miterlimit="6"/>
<polygon points="630.0,1355.0 631.4,1358.4 635.5,1358.5 632.2,1360.7 633.4,1364.1 630.0,1362.0 626.6,1364.1 627.8,1360.7 624.5,1358.5 628.6,1358.4" fill="none" stroke="#000" stroke-width="1.9" stroke-linejoin="miter" stroke-miterlimit="6"/>
<polygon points="662.5,1332.1 663.9,1335.5 668.0,1335.5 664.7,1337.7 665.9,1341.1 662.5,1339.1 659.1,1341.1 660.3,1337.7 657.0,1335.5 661.1,1335.5" fill="none" stroke="#000" stroke-width="1.9" stroke-linejoin="miter" stroke-miterlimit="6"/>
<polygon points="695.0,1309.8 696.4,1313.2 700.5,1313.3 697.2,1315.4 698.4,1318.8 695.0,1316.8 691.6,1318.8 692.8,1315.4 689.5,1313.3 693.6,1313.2" fill="none" stroke="#000" stroke-width="1.9" stroke-linejoin="miter" stroke-miterlimit="6"/>
<polygon points="727.5,1285.0 728.9,1288.4 733.0,1288.4 729.7,1290.6 730.9,1294.0 727.5,1292.0 724.1,1294.0 725.3,1290.6 722.0,1288.4 726.1,1288.4" fill="none" stroke="#000" stroke-width="1.9" stroke-linejoin="miter" stroke-miterlimit="6"/>
<polygon points="760.0,1262.0 761.4,1265.4 765.5,1265.5 762.2,1267.6 763.4,1271.0 760.0,1269.0 756.6,1271.0 757.8,1267.6 754.5,1265.5 758.6,1265.4" fill="none" stroke="#000" stroke-width="1.9" stroke-linejoin="miter" stroke-miterlimit="6"/>
<path d="M110.0,1585.2 C115.4,1584.3 131.7,1581.8 142.5,1579.5 C153.3,1577.2 164.2,1574.4 175.0,1571.5 C185.8,1568.5 196.7,1564.7 207.5,1561.6 C218.3,1558.5 229.2,1556.3 240.0,1552.7 C250.8,1549.1 261.7,1544.3 272.5,1540.1 C283.3,1535.9 294.2,1531.8 305.0,1527.5 C315.8,1523.1 326.7,1518.7 337.5,1513.7 C348.3,1508.7 359.2,1502.9 370.0,1497.7 C380.8,1492.5 391.7,1488.0 402.5,1482.5 C413.3,1477.1 424.2,1471.0 435.0,1465.1 C445.8,1459.1 456.7,1452.8 467.5,1446.7 C478.3,1440.5 489.2,1434.4 500.0,1428.3 C510.8,1422.2 521.7,1416.1 532.5,1409.9 C543.3,1403.7 554.2,1397.5 565.0,1391.1 C575.8,1384.7 586.7,1378.0 597.5,1371.5 C608.3,1365.0 619.2,1358.5 630.0,1352.0 C640.8,1345.5 651.7,1339.2 662.5,1332.5 C673.3,1325.8 684.2,1319.1 695.0,1311.8 C705.8,1304.5 716.7,1296.3 727.5,1288.8 C738.3,1281.4 754.6,1270.6 760.0,1267.0" fill="none" stroke="#D95319" stroke-width="3.0" stroke-linejoin="round"/>
<polygon points="110.0,1580.2 111.4,1583.6 115.5,1583.7 112.2,1585.8 113.4,1589.3 110.0,1587.2 106.6,1589.3 107.8,1585.8 104.5,1583.7 108.6,1583.6" fill="none" stroke="#000" stroke-width="1.9" stroke-linejoin="miter" stroke-miterlimit="6"/>
<polygon points="142.5,1574.5 143.9,1577.9 148.0,1577.9 144.7,1580.1 145.9,1583.5 142.5,1581.5 139.1,1583.5 140.3,1580.1 137.0,1577.9 141.1,1577.9" fill="none" stroke="#000" stroke-width="1.9" stroke-linejoin="miter" stroke-miterlimit="6"/>
<polygon points="175.0,1566.5 176.4,1569.8 180.5,1569.9 177.2,1572.1 178.4,1575.5 175.0,1573.5 171.6,1575.5 172.8,1572.1 169.5,1569.9 173.6,1569.8" fill="none" stroke="#000" stroke-width="1.9" stroke-linejoin="miter" stroke-miterlimit="6"/>
<polygon points="207.5,1556.6 208.9,1560.0 213.0,1560.1 209.7,1562.2 210.9,1565.6 207.5,1563.6 204.1,1565.6 205.3,1562.2 202.0,1560.1 206.1,1560.0" fill="none" stroke="#000" stroke-width="1.9" stroke-linejoin="miter" stroke-miterlimit="6"/>
<polygon points="240.0,1547.7 241.4,1551.0 245.5,1551.1 242.2,1553.3 243.4,1556.7 240.0,1554.7 236.6,1556.7 237.8,1553.3 234.5,1551.1 238.6,1551.0" fill="none" stroke="#000" stroke-width="1.9" stroke-linejoin="miter" stroke-miterlimit="6"/>
<polygon points="272.5,1535.1 273.9,1538.4 278.0,1538.5 274.7,1540.7 275.9,1544.1 272.5,1542.1 269.1,1544.1 270.3,1540.7 267.0,1538.5 271.1,1538.4" fill="none" stroke="#000" stroke-width="1.9" stroke-linejoin="miter" stroke-miterlimit="6"/>
<polygon points="305.0,1522.5 306.4,1525.8 310.5,1525.9 307.2,1528.1 308.4,1531.5 305.0,1529.5 301.6,1531.5 302.8,1528.1 299.5,1525.9 303.6,1525.8" fill="none" stroke="#000" stroke-width="1.9" stroke-linejoin="miter" stroke-miterlimit="6"/>
<polygon points="337.5,1508.7 338.9,1512.1 343.0,1512.2 339.7,1514.3 340.9,1517.8 337.5,1515.7 334.1,1517.8 335.3,1514.3 332.0,1512.2 336.1,1512.1" fill="none" stroke="#000" stroke-width="1.9" stroke-linejoin="miter" stroke-miterlimit="6"/>
<polygon points="370.0,1492.7 371.4,1496.1 375.5,1496.1 372.2,1498.3 373.4,1501.7 370.0,1499.7 366.6,1501.7 367.8,1498.3 364.5,1496.1 368.6,1496.1" fill="none" stroke="#000" stroke-width="1.9" stroke-linejoin="miter" stroke-miterlimit="6"/>
<polygon points="402.5,1477.5 403.9,1480.9 408.0,1481.0 404.7,1483.1 405.9,1486.6 402.5,1484.5 399.1,1486.6 400.3,1483.1 397.0,1481.0 401.1,1480.9" fill="none" stroke="#000" stroke-width="1.9" stroke-linejoin="miter" stroke-miterlimit="6"/>
<polygon points="435.0,1460.1 436.4,1463.4 440.5,1463.5 437.2,1465.7 438.4,1469.1 435.0,1467.1 431.6,1469.1 432.8,1465.7 429.5,1463.5 433.6,1463.4" fill="none" stroke="#000" stroke-width="1.9" stroke-linejoin="miter" stroke-miterlimit="6"/>
<polygon points="467.5,1441.7 468.9,1445.0 473.0,1445.1 469.7,1447.3 470.9,1450.7 467.5,1448.7 464.1,1450.7 465.3,1447.3 462.0,1445.1 466.1,1445.0" fill="none" stroke="#000" stroke-width="1.9" stroke-linejoin="miter" stroke-miterlimit="6"/>
<polygon points="500.0,1423.3 501.4,1426.7 505.5,1426.8 502.2,1428.9 503.4,1432.3 500.0,1430.3 496.6,1432.3 497.8,1428.9 494.5,1426.8 498.6,1426.7" fill="none" stroke="#000" stroke-width="1.9" stroke-linejoin="miter" stroke-miterlimit="6"/>
<polygon points="532.5,1404.9 533.9,1408.3 538.0,1408.4 534.7,1410.5 535.9,1414.0 532.5,1411.9 529.1,1414.0 530.3,1410.5 527.0,1408.4 531.1,1408.3" fill="none" stroke="#000" stroke-width="1.9" stroke-linejoin="miter" stroke-miterlimit="6"/>
<polygon points="565.0,1386.1 566.4,1389.5 570.5,1389.5 567.2,1391.7 568.4,1395.1 565.0,1393.1 561.6,1395.1 562.8,1391.7 559.5,1389.5 563.6,1389.5" fill="none" stroke="#000" stroke-width="1.9" stroke-linejoin="miter" stroke-miterlimit="6"/>
<polygon points="597.5,1366.5 598.9,1369.9 603.0,1370.0 599.7,1372.2 600.9,1375.6 597.5,1373.5 594.1,1375.6 595.3,1372.2 592.0,1370.0 596.1,1369.9" fill="none" stroke="#000" stroke-width="1.9" stroke-linejoin="miter" stroke-miterlimit="6"/>
<polygon points="630.0,1347.0 631.4,1350.4 635.5,1350.4 632.2,1352.6 633.4,1356.0 630.0,1354.0 626.6,1356.0 627.8,1352.6 624.5,1350.4 628.6,1350.4" fill="none" stroke="#000" stroke-width="1.9" stroke-linejoin="miter" stroke-miterlimit="6"/>
<polygon points="662.5,1327.5 663.9,1330.9 668.0,1330.9 664.7,1333.1 665.9,1336.5 662.5,1334.5 659.1,1336.5 660.3,1333.1 657.0,1330.9 661.1,1330.9" fill="none" stroke="#000" stroke-width="1.9" stroke-linejoin="miter" stroke-miterlimit="6"/>
<polygon points="695.0,1306.8 696.4,1310.2 700.5,1310.3 697.2,1312.4 698.4,1315.8 695.0,1313.8 691.6,1315.8 692.8,1312.4 689.5,1310.3 693.6,1310.2" fill="none" stroke="#000" stroke-width="1.9" stroke-linejoin="miter" stroke-miterlimit="6"/>
<polygon points="727.5,1283.8 728.9,1287.2 733.0,1287.3 729.7,1289.4 730.9,1292.9 727.5,1290.8 724.1,1292.9 725.3,1289.4 722.0,1287.3 726.1,1287.2" fill="none" stroke="#000" stroke-width="1.9" stroke-linejoin="miter" stroke-miterlimit="6"/>
<polygon points="760.0,1262.0 761.4,1265.4 765.5,1265.5 762.2,1267.6 763.4,1271.0 760.0,1269.0 756.6,1271.0 757.8,1267.6 754.5,1265.5 758.6,1265.4" fill="none" stroke="#000" stroke-width="1.9" stroke-linejoin="miter" stroke-miterlimit="6"/>
<path d="M110.0,1585.2 C115.4,1583.6 131.7,1578.8 142.5,1575.6 C153.3,1572.4 164.2,1569.4 175.0,1565.7 C185.8,1562.1 196.7,1557.5 207.5,1553.6 C218.3,1549.7 229.2,1546.5 240.0,1542.4 C250.8,1538.2 261.7,1533.0 272.5,1528.6 C283.3,1524.2 294.2,1520.6 305.0,1516.0 C315.8,1511.4 326.7,1505.9 337.5,1500.9 C348.3,1495.9 359.2,1491.3 370.0,1486.2 C380.8,1481.2 391.7,1476.0 402.5,1470.6 C413.3,1465.3 424.2,1460.0 435.0,1454.2 C445.8,1448.4 456.7,1441.7 467.5,1435.9 C478.3,1430.0 489.2,1424.7 500.0,1419.1 C510.8,1413.5 521.7,1408.1 532.5,1402.1 C543.3,1396.1 554.2,1389.3 565.0,1383.0 C575.8,1376.8 586.7,1370.8 597.5,1364.7 C608.3,1358.5 619.2,1352.5 630.0,1346.3 C640.8,1340.0 651.7,1333.7 662.5,1327.2 C673.3,1320.7 684.2,1314.0 695.0,1307.2 C705.8,1300.4 716.7,1293.2 727.5,1286.5 C738.3,1279.8 754.6,1270.3 760.0,1267.0" fill="none" stroke="#0072BD" stroke-width="3.0" stroke-linejoin="round"/>
<polygon points="110.0,1580.2 111.4,1583.6 115.5,1583.7 112.2,1585.8 113.4,1589.3 110.0,1587.2 106.6,1589.3 107.8,1585.8 104.5,1583.7 108.6,1583.6" fill="none" stroke="#000" stroke-width="1.9" stroke-linejoin="miter" stroke-miterlimit="6"/>
<polygon points="142.5,1570.6 143.9,1574.0 148.0,1574.1 144.7,1576.2 145.9,1579.6 142.5,1577.6 139.1,1579.6 140.3,1576.2 137.0,1574.1 141.1,1574.0" fill="none" stroke="#000" stroke-width="1.9" stroke-linejoin="miter" stroke-miterlimit="6"/>
<polygon points="175.0,1560.7 176.4,1564.1 180.5,1564.2 177.2,1566.4 178.4,1569.8 175.0,1567.7 171.6,1569.8 172.8,1566.4 169.5,1564.2 173.6,1564.1" fill="none" stroke="#000" stroke-width="1.9" stroke-linejoin="miter" stroke-miterlimit="6"/>
<polygon points="207.5,1548.6 208.9,1552.0 213.0,1552.0 209.7,1554.2 210.9,1557.6 207.5,1555.6 204.1,1557.6 205.3,1554.2 202.0,1552.0 206.1,1552.0" fill="none" stroke="#000" stroke-width="1.9" stroke-linejoin="miter" stroke-miterlimit="6"/>
<polygon points="240.0,1537.4 241.4,1540.7 245.5,1540.8 242.2,1543.0 243.4,1546.4 240.0,1544.4 236.6,1546.4 237.8,1543.0 234.5,1540.8 238.6,1540.7" fill="none" stroke="#000" stroke-width="1.9" stroke-linejoin="miter" stroke-miterlimit="6"/>
<polygon points="272.5,1523.6 273.9,1527.0 278.0,1527.1 274.7,1529.2 275.9,1532.6 272.5,1530.6 269.1,1532.6 270.3,1529.2 267.0,1527.1 271.1,1527.0" fill="none" stroke="#000" stroke-width="1.9" stroke-linejoin="miter" stroke-miterlimit="6"/>
<polygon points="305.0,1511.0 306.4,1514.4 310.5,1514.5 307.2,1516.6 308.4,1520.0 305.0,1518.0 301.6,1520.0 302.8,1516.6 299.5,1514.5 303.6,1514.4" fill="none" stroke="#000" stroke-width="1.9" stroke-linejoin="miter" stroke-miterlimit="6"/>
<polygon points="337.5,1495.9 338.9,1499.3 343.0,1499.3 339.7,1501.5 340.9,1504.9 337.5,1502.9 334.1,1504.9 335.3,1501.5 332.0,1499.3 336.1,1499.3" fill="none" stroke="#000" stroke-width="1.9" stroke-linejoin="miter" stroke-miterlimit="6"/>
<polygon points="370.0,1481.2 371.4,1484.6 375.5,1484.7 372.2,1486.8 373.4,1490.3 370.0,1488.2 366.6,1490.3 367.8,1486.8 364.5,1484.7 368.6,1484.6" fill="none" stroke="#000" stroke-width="1.9" stroke-linejoin="miter" stroke-miterlimit="6"/>
<polygon points="402.5,1465.6 403.9,1469.0 408.0,1469.1 404.7,1471.2 405.9,1474.7 402.5,1472.6 399.1,1474.7 400.3,1471.2 397.0,1469.1 401.1,1469.0" fill="none" stroke="#000" stroke-width="1.9" stroke-linejoin="miter" stroke-miterlimit="6"/>
<polygon points="435.0,1449.2 436.4,1452.6 440.5,1452.7 437.2,1454.9 438.4,1458.3 435.0,1456.2 431.6,1458.3 432.8,1454.9 429.5,1452.7 433.6,1452.6" fill="none" stroke="#000" stroke-width="1.9" stroke-linejoin="miter" stroke-miterlimit="6"/>
<polygon points="467.5,1430.9 468.9,1434.3 473.0,1434.3 469.7,1436.5 470.9,1439.9 467.5,1437.9 464.1,1439.9 465.3,1436.5 462.0,1434.3 466.1,1434.3" fill="none" stroke="#000" stroke-width="1.9" stroke-linejoin="miter" stroke-miterlimit="6"/>
<polygon points="500.0,1414.1 501.4,1417.5 505.5,1417.6 502.2,1419.7 503.4,1423.2 500.0,1421.1 496.6,1423.2 497.8,1419.7 494.5,1417.6 498.6,1417.5" fill="none" stroke="#000" stroke-width="1.9" stroke-linejoin="miter" stroke-miterlimit="6"/>
<polygon points="532.5,1397.1 533.9,1400.5 538.0,1400.5 534.7,1402.7 535.9,1406.1 532.5,1404.1 529.1,1406.1 530.3,1402.7 527.0,1400.5 531.1,1400.5" fill="none" stroke="#000" stroke-width="1.9" stroke-linejoin="miter" stroke-miterlimit="6"/>
<polygon points="565.0,1378.0 566.4,1381.4 570.5,1381.5 567.2,1383.6 568.4,1387.1 565.0,1385.0 561.6,1387.1 562.8,1383.6 559.5,1381.5 563.6,1381.4" fill="none" stroke="#000" stroke-width="1.9" stroke-linejoin="miter" stroke-miterlimit="6"/>
<polygon points="597.5,1359.7 598.9,1363.0 603.0,1363.1 599.7,1365.3 600.9,1368.7 597.5,1366.7 594.1,1368.7 595.3,1365.3 592.0,1363.1 596.1,1363.0" fill="none" stroke="#000" stroke-width="1.9" stroke-linejoin="miter" stroke-miterlimit="6"/>
<polygon points="630.0,1341.3 631.4,1344.6 635.5,1344.7 632.2,1346.9 633.4,1350.3 630.0,1348.3 626.6,1350.3 627.8,1346.9 624.5,1344.7 628.6,1344.6" fill="none" stroke="#000" stroke-width="1.9" stroke-linejoin="miter" stroke-miterlimit="6"/>
<polygon points="662.5,1322.2 663.9,1325.6 668.0,1325.7 664.7,1327.8 665.9,1331.3 662.5,1329.2 659.1,1331.3 660.3,1327.8 657.0,1325.7 661.1,1325.6" fill="none" stroke="#000" stroke-width="1.9" stroke-linejoin="miter" stroke-miterlimit="6"/>
<polygon points="695.0,1302.2 696.4,1305.6 700.5,1305.7 697.2,1307.8 698.4,1311.3 695.0,1309.2 691.6,1311.3 692.8,1307.8 689.5,1305.7 693.6,1305.6" fill="none" stroke="#000" stroke-width="1.9" stroke-linejoin="miter" stroke-miterlimit="6"/>
<polygon points="727.5,1281.5 728.9,1284.9 733.0,1285.0 729.7,1287.2 730.9,1290.6 727.5,1288.5 724.1,1290.6 725.3,1287.2 722.0,1285.0 726.1,1284.9" fill="none" stroke="#000" stroke-width="1.9" stroke-linejoin="miter" stroke-miterlimit="6"/>
<polygon points="760.0,1262.0 761.4,1265.4 765.5,1265.5 762.2,1267.6 763.4,1271.0 760.0,1269.0 756.6,1271.0 757.8,1267.6 754.5,1265.5 758.6,1265.4" fill="none" stroke="#000" stroke-width="1.9" stroke-linejoin="miter" stroke-miterlimit="6"/>
<line x1="110" y1="1712.5" x2="110" y2="1706.5" stroke="#6b7585" stroke-width="2"/>
<line x1="110" y1="1267" x2="110" y2="1273" stroke="#6b7585" stroke-width="2"/>
<line x1="272.5" y1="1712.5" x2="272.5" y2="1706.5" stroke="#6b7585" stroke-width="2"/>
<line x1="272.5" y1="1267" x2="272.5" y2="1273" stroke="#6b7585" stroke-width="2"/>
<line x1="435" y1="1712.5" x2="435" y2="1706.5" stroke="#6b7585" stroke-width="2"/>
<line x1="435" y1="1267" x2="435" y2="1273" stroke="#6b7585" stroke-width="2"/>
<line x1="597.5" y1="1712.5" x2="597.5" y2="1706.5" stroke="#6b7585" stroke-width="2"/>
<line x1="597.5" y1="1267" x2="597.5" y2="1273" stroke="#6b7585" stroke-width="2"/>
<line x1="760" y1="1712.5" x2="760" y2="1706.5" stroke="#6b7585" stroke-width="2"/>
<line x1="760" y1="1267" x2="760" y2="1273" stroke="#6b7585" stroke-width="2"/>
<line x1="110" y1="1712.5" x2="116" y2="1712.5" stroke="#6b7585" stroke-width="2"/>
<line x1="760" y1="1712.5" x2="754" y2="1712.5" stroke="#6b7585" stroke-width="2"/>
<line x1="110" y1="1648.86" x2="116" y2="1648.86" stroke="#6b7585" stroke-width="2"/>
<line x1="760" y1="1648.86" x2="754" y2="1648.86" stroke="#6b7585" stroke-width="2"/>
<line x1="110" y1="1585.21" x2="116" y2="1585.21" stroke="#6b7585" stroke-width="2"/>
<line x1="760" y1="1585.21" x2="754" y2="1585.21" stroke="#6b7585" stroke-width="2"/>
<line x1="110" y1="1521.57" x2="116" y2="1521.57" stroke="#6b7585" stroke-width="2"/>
<line x1="760" y1="1521.57" x2="754" y2="1521.57" stroke="#6b7585" stroke-width="2"/>
<line x1="110" y1="1457.93" x2="116" y2="1457.93" stroke="#6b7585" stroke-width="2"/>
<line x1="760" y1="1457.93" x2="754" y2="1457.93" stroke="#6b7585" stroke-width="2"/>
<line x1="110" y1="1394.29" x2="116" y2="1394.29" stroke="#6b7585" stroke-width="2"/>
<line x1="760" y1="1394.29" x2="754" y2="1394.29" stroke="#6b7585" stroke-width="2"/>
<line x1="110" y1="1330.64" x2="116" y2="1330.64" stroke="#6b7585" stroke-width="2"/>
<line x1="760" y1="1330.64" x2="754" y2="1330.64" stroke="#6b7585" stroke-width="2"/>
<line x1="110" y1="1267" x2="116" y2="1267" stroke="#6b7585" stroke-width="2"/>
<line x1="760" y1="1267" x2="754" y2="1267" stroke="#6b7585" stroke-width="2"/>
<rect x="110" y="1267" width="650" height="445.5" fill="none" stroke="#6b7585" stroke-width="2.6"/>
<rect x="109.8" y="1266.8" width="217.2" height="162.7" fill="#f0f0f0" stroke="#262626" stroke-width="2.6"/>
<line x1="124.5" y1="1289.7" x2="201.8" y2="1289.7" stroke="#0072BD" stroke-width="3"/>
<text transform="translate(207.38,1293.30) scale(1.2561,1)" font-family='"Liberation Sans", Arial, Helvetica, sans-serif' font-size="23.48" font-weight="bold" fill="#000">N</text>
<text transform="translate(228.69,1305.13) scale(1.1959,1)" font-family='"Liberation Sans", Arial, Helvetica, sans-serif' font-size="17.61" font-weight="bold" fill="#000">tc</text>
<text transform="translate(255.55,1293.30) scale(1.2248,1)" font-family='"Liberation Sans", Arial, Helvetica, sans-serif' font-size="23.48" font-weight="bold" fill="#000">= 0.0</text>
<line x1="124.5" y1="1328.7" x2="201.8" y2="1328.7" stroke="#D95319" stroke-width="3"/>
<text transform="translate(207.38,1332.30) scale(1.2561,1)" font-family='"Liberation Sans", Arial, Helvetica, sans-serif' font-size="23.48" font-weight="bold" fill="#000">N</text>
<text transform="translate(228.69,1344.13) scale(1.1959,1)" font-family='"Liberation Sans", Arial, Helvetica, sans-serif' font-size="17.61" font-weight="bold" fill="#000">tc</text>
<text transform="translate(255.55,1332.30) scale(1.2248,1)" font-family='"Liberation Sans", Arial, Helvetica, sans-serif' font-size="23.48" font-weight="bold" fill="#000">= 0.5</text>
<line x1="124.5" y1="1367.9" x2="201.8" y2="1367.9" stroke="#EDB120" stroke-width="3"/>
<text transform="translate(207.38,1371.50) scale(1.2561,1)" font-family='"Liberation Sans", Arial, Helvetica, sans-serif' font-size="23.48" font-weight="bold" fill="#000">N</text>
<text transform="translate(228.69,1383.33) scale(1.1959,1)" font-family='"Liberation Sans", Arial, Helvetica, sans-serif' font-size="17.61" font-weight="bold" fill="#000">tc</text>
<text transform="translate(255.55,1371.50) scale(1.2248,1)" font-family='"Liberation Sans", Arial, Helvetica, sans-serif' font-size="23.48" font-weight="bold" fill="#000">= 1.0</text>
<line x1="124.5" y1="1406.9" x2="201.8" y2="1406.9" stroke="#7E2F8E" stroke-width="3"/>
<text transform="translate(207.38,1410.50) scale(1.2561,1)" font-family='"Liberation Sans", Arial, Helvetica, sans-serif' font-size="23.48" font-weight="bold" fill="#000">N</text>
<text transform="translate(228.69,1422.33) scale(1.1959,1)" font-family='"Liberation Sans", Arial, Helvetica, sans-serif' font-size="17.61" font-weight="bold" fill="#000">tc</text>
<text transform="translate(255.55,1410.50) scale(1.2248,1)" font-family='"Liberation Sans", Arial, Helvetica, sans-serif' font-size="23.48" font-weight="bold" fill="#000">= 1.5</text>
<text transform="translate(101.22,1747.35) scale(1.1500,1)" font-family='"Liberation Sans", Arial, Helvetica, sans-serif' font-size="27.50" font-weight="bold" fill="#000">0</text>
<text transform="translate(250.28,1747.35) scale(1.1500,1)" font-family='"Liberation Sans", Arial, Helvetica, sans-serif' font-size="27.50" font-weight="bold" fill="#000">0.5</text>
<text transform="translate(423.69,1747.07) scale(1.1500,1)" font-family='"Liberation Sans", Arial, Helvetica, sans-serif' font-size="27.50" font-weight="bold" fill="#000">1</text>
<text transform="translate(574.89,1747.07) scale(1.1500,1)" font-family='"Liberation Sans", Arial, Helvetica, sans-serif' font-size="27.50" font-weight="bold" fill="#000">1.5</text>
<text transform="translate(751.30,1747.35) scale(1.1500,1)" font-family='"Liberation Sans", Arial, Helvetica, sans-serif' font-size="27.50" font-weight="bold" fill="#000">2</text>
<text transform="translate(41.06,1721.88) scale(1.2100,1)" font-family='"Liberation Sans", Arial, Helvetica, sans-serif' font-size="27.20" font-weight="bold" fill="#000">-0.4</text>
<text transform="translate(42.21,1658.24) scale(1.2100,1)" font-family='"Liberation Sans", Arial, Helvetica, sans-serif' font-size="27.20" font-weight="bold" fill="#000">-0.2</text>
<text transform="translate(80.55,1594.60) scale(1.2100,1)" font-family='"Liberation Sans", Arial, Helvetica, sans-serif' font-size="27.20" font-weight="bold" fill="#000">0</text>
<text transform="translate(53.07,1530.96) scale(1.2100,1)" font-family='"Liberation Sans", Arial, Helvetica, sans-serif' font-size="27.20" font-weight="bold" fill="#000">0.2</text>
<text transform="translate(51.92,1467.31) scale(1.2100,1)" font-family='"Liberation Sans", Arial, Helvetica, sans-serif' font-size="27.20" font-weight="bold" fill="#000">0.4</text>
<text transform="translate(52.90,1403.67) scale(1.2100,1)" font-family='"Liberation Sans", Arial, Helvetica, sans-serif' font-size="27.20" font-weight="bold" fill="#000">0.6</text>
<text transform="translate(52.74,1340.03) scale(1.2100,1)" font-family='"Liberation Sans", Arial, Helvetica, sans-serif' font-size="27.20" font-weight="bold" fill="#000">0.8</text>
<text transform="translate(76.11,1276.38) scale(1.2100,1)" font-family='"Liberation Sans", Arial, Helvetica, sans-serif' font-size="27.20" font-weight="bold" fill="#000">1</text>
<rect x="919" y="1272" width="635" height="441" fill="#bad3f2"/>
<line x1="1077.75" y1="1272" x2="1077.75" y2="1713" stroke="#a3bbd8" stroke-width="1.6"/>
<line x1="1236.5" y1="1272" x2="1236.5" y2="1713" stroke="#a3bbd8" stroke-width="1.6"/>
<line x1="1395.25" y1="1272" x2="1395.25" y2="1713" stroke="#a3bbd8" stroke-width="1.6"/>
<line x1="919" y1="1492.5" x2="1554" y2="1492.5" stroke="#a3bbd8" stroke-width="1.6"/>
<line x1="921" y1="1646.62" x2="1554" y2="1646.62" stroke="#a3bbd8" stroke-width="1.8" stroke-dasharray="2.2,6.0"/>
<line x1="919" y1="1646.62" x2="922.6" y2="1646.62" stroke="#6b7585" stroke-width="2"/>
<line x1="1554" y1="1646.62" x2="1550.4" y2="1646.62" stroke="#6b7585" stroke-width="2"/>
<line x1="921" y1="1607.79" x2="1554" y2="1607.79" stroke="#a3bbd8" stroke-width="1.8" stroke-dasharray="2.2,6.0"/>
<line x1="919" y1="1607.79" x2="922.6" y2="1607.79" stroke="#6b7585" stroke-width="2"/>
<line x1="1554" y1="1607.79" x2="1550.4" y2="1607.79" stroke="#6b7585" stroke-width="2"/>
<line x1="921" y1="1580.25" x2="1554" y2="1580.25" stroke="#a3bbd8" stroke-width="1.8" stroke-dasharray="2.2,6.0"/>
<line x1="919" y1="1580.25" x2="922.6" y2="1580.25" stroke="#6b7585" stroke-width="2"/>
<line x1="1554" y1="1580.25" x2="1550.4" y2="1580.25" stroke="#6b7585" stroke-width="2"/>
<line x1="921" y1="1558.88" x2="1554" y2="1558.88" stroke="#a3bbd8" stroke-width="1.8" stroke-dasharray="2.2,6.0"/>
<line x1="919" y1="1558.88" x2="922.6" y2="1558.88" stroke="#6b7585" stroke-width="2"/>
<line x1="1554" y1="1558.88" x2="1550.4" y2="1558.88" stroke="#6b7585" stroke-width="2"/>
<line x1="921" y1="1541.42" x2="1554" y2="1541.42" stroke="#a3bbd8" stroke-width="1.8" stroke-dasharray="2.2,6.0"/>
<line x1="919" y1="1541.42" x2="922.6" y2="1541.42" stroke="#6b7585" stroke-width="2"/>
<line x1="1554" y1="1541.42" x2="1550.4" y2="1541.42" stroke="#6b7585" stroke-width="2"/>
<line x1="921" y1="1526.66" x2="1554" y2="1526.66" stroke="#a3bbd8" stroke-width="1.8" stroke-dasharray="2.2,6.0"/>
<line x1="919" y1="1526.66" x2="922.6" y2="1526.66" stroke="#6b7585" stroke-width="2"/>
<line x1="1554" y1="1526.66" x2="1550.4" y2="1526.66" stroke="#6b7585" stroke-width="2"/>
<line x1="921" y1="1513.87" x2="1554" y2="1513.87" stroke="#a3bbd8" stroke-width="1.8" stroke-dasharray="2.2,6.0"/>
<line x1="919" y1="1513.87" x2="922.6" y2="1513.87" stroke="#6b7585" stroke-width="2"/>
<line x1="1554" y1="1513.87" x2="1550.4" y2="1513.87" stroke="#6b7585" stroke-width="2"/>
<line x1="921" y1="1502.59" x2="1554" y2="1502.59" stroke="#a3bbd8" stroke-width="1.8" stroke-dasharray="2.2,6.0"/>
<line x1="919" y1="1502.59" x2="922.6" y2="1502.59" stroke="#6b7585" stroke-width="2"/>
<line x1="1554" y1="1502.59" x2="1550.4" y2="1502.59" stroke="#6b7585" stroke-width="2"/>
<line x1="921" y1="1426.12" x2="1554" y2="1426.12" stroke="#a3bbd8" stroke-width="1.8" stroke-dasharray="2.2,6.0"/>
<line x1="919" y1="1426.12" x2="922.6" y2="1426.12" stroke="#6b7585" stroke-width="2"/>
<line x1="1554" y1="1426.12" x2="1550.4" y2="1426.12" stroke="#6b7585" stroke-width="2"/>
<line x1="921" y1="1387.29" x2="1554" y2="1387.29" stroke="#a3bbd8" stroke-width="1.8" stroke-dasharray="2.2,6.0"/>
<line x1="919" y1="1387.29" x2="922.6" y2="1387.29" stroke="#6b7585" stroke-width="2"/>
<line x1="1554" y1="1387.29" x2="1550.4" y2="1387.29" stroke="#6b7585" stroke-width="2"/>
<line x1="921" y1="1359.75" x2="1554" y2="1359.75" stroke="#a3bbd8" stroke-width="1.8" stroke-dasharray="2.2,6.0"/>
<line x1="919" y1="1359.75" x2="922.6" y2="1359.75" stroke="#6b7585" stroke-width="2"/>
<line x1="1554" y1="1359.75" x2="1550.4" y2="1359.75" stroke="#6b7585" stroke-width="2"/>
<line x1="921" y1="1338.38" x2="1554" y2="1338.38" stroke="#a3bbd8" stroke-width="1.8" stroke-dasharray="2.2,6.0"/>
<line x1="919" y1="1338.38" x2="922.6" y2="1338.38" stroke="#6b7585" stroke-width="2"/>
<line x1="1554" y1="1338.38" x2="1550.4" y2="1338.38" stroke="#6b7585" stroke-width="2"/>
<line x1="921" y1="1320.92" x2="1554" y2="1320.92" stroke="#a3bbd8" stroke-width="1.8" stroke-dasharray="2.2,6.0"/>
<line x1="919" y1="1320.92" x2="922.6" y2="1320.92" stroke="#6b7585" stroke-width="2"/>
<line x1="1554" y1="1320.92" x2="1550.4" y2="1320.92" stroke="#6b7585" stroke-width="2"/>
<line x1="921" y1="1306.16" x2="1554" y2="1306.16" stroke="#a3bbd8" stroke-width="1.8" stroke-dasharray="2.2,6.0"/>
<line x1="919" y1="1306.16" x2="922.6" y2="1306.16" stroke="#6b7585" stroke-width="2"/>
<line x1="1554" y1="1306.16" x2="1550.4" y2="1306.16" stroke="#6b7585" stroke-width="2"/>
<line x1="921" y1="1293.37" x2="1554" y2="1293.37" stroke="#a3bbd8" stroke-width="1.8" stroke-dasharray="2.2,6.0"/>
<line x1="919" y1="1293.37" x2="922.6" y2="1293.37" stroke="#6b7585" stroke-width="2"/>
<line x1="1554" y1="1293.37" x2="1550.4" y2="1293.37" stroke="#6b7585" stroke-width="2"/>
<line x1="921" y1="1282.09" x2="1554" y2="1282.09" stroke="#a3bbd8" stroke-width="1.8" stroke-dasharray="2.2,6.0"/>
<line x1="919" y1="1282.09" x2="922.6" y2="1282.09" stroke="#6b7585" stroke-width="2"/>
<line x1="1554" y1="1282.09" x2="1550.4" y2="1282.09" stroke="#6b7585" stroke-width="2"/>
<clipPath id="cf"><rect x="919" y="1272" width="635" height="441"/></clipPath>
<g clip-path="url(#cf)">
<polyline points="919.0,1288.7 950.8,1537.3 982.5,1384.0 1014.2,1336.4 1046.0,1528.9 1077.8,1359.7 1109.5,1397.1 1141.2,1419.5 1173.0,1349.4 1204.8,1527.0 1236.5,1367.2 1268.2,1470.0 1300.0,1403.6 1331.8,1664.4 1363.5,1613.9 1395.2,1557.9 1427.0,1400.0 1458.8,1572.8 1490.5,1380.0 1522.2,1390.0 1554.0,1542.2" fill="none" stroke="#00FF00" stroke-width="3.7" stroke-linejoin="round"/>
<polyline points="919.0,1354.1 950.8,1641.0 982.5,1447.6 1014.2,1411.1 1046.0,1516.7 1077.8,1439.2 1109.5,1437.3 1141.2,1469.1 1173.0,1385.0 1204.8,1656.9 1236.5,1378.4 1268.2,1677.5 1300.0,1376.5 1331.8,1482.1 1363.5,1501.8 1395.2,1510.2 1427.0,1481.2 1458.8,1643.2 1490.5,1390.0 1522.2,1400.0 1554.0,1579.4" fill="none" stroke="#D95319" stroke-width="3.7" stroke-linejoin="round"/>
<polyline points="919.0,1286.8 950.8,1699.9 982.5,1372.8 1014.2,1344.8 1046.0,1572.8 1077.8,1389.6 1109.5,1630.7 1141.2,1487.8 1173.0,1511.1 1204.8,1557.9 1236.5,1417.7 1268.2,1447.6 1300.0,1361.6 1331.8,1415.8 1363.5,1432.6 1395.2,1468.1 1427.0,1591.4 1458.8,1480.0 1490.5,1380.0 1522.2,1395.0 1554.0,1639.2" fill="none" stroke="#EDB120" stroke-width="3.7" stroke-linejoin="round" stroke-dasharray="3.7,4.4"/>
<polyline points="919.0,1309.3 950.8,1299.0 982.5,1309.3 1014.2,1309.3 1046.0,1516.7 1077.8,1306.4 1109.5,1642.0 1141.2,1354.1 1173.0,1600.8 1204.8,1393.4 1236.5,1658.8 1268.2,1600.8 1300.0,1481.0 1331.8,1421.4 1363.5,1574.7 1395.2,1462.5 1427.0,1400.0 1458.8,1583.4 1490.5,1380.0 1522.2,1395.0 1554.0,1540.9" fill="none" stroke="#7E2F8E" stroke-width="3.7" stroke-linejoin="round" stroke-dasharray="3.7,4.4"/>
</g>
<line x1="919" y1="1713" x2="919" y2="1707" stroke="#6b7585" stroke-width="2"/>
<line x1="919" y1="1272" x2="919" y2="1278" stroke="#6b7585" stroke-width="2"/>
<line x1="1077.75" y1="1713" x2="1077.75" y2="1707" stroke="#6b7585" stroke-width="2"/>
<line x1="1077.75" y1="1272" x2="1077.75" y2="1278" stroke="#6b7585" stroke-width="2"/>
<line x1="1236.5" y1="1713" x2="1236.5" y2="1707" stroke="#6b7585" stroke-width="2"/>
<line x1="1236.5" y1="1272" x2="1236.5" y2="1278" stroke="#6b7585" stroke-width="2"/>
<line x1="1395.25" y1="1713" x2="1395.25" y2="1707" stroke="#6b7585" stroke-width="2"/>
<line x1="1395.25" y1="1272" x2="1395.25" y2="1278" stroke="#6b7585" stroke-width="2"/>
<line x1="1554" y1="1713" x2="1554" y2="1707" stroke="#6b7585" stroke-width="2"/>
<line x1="1554" y1="1272" x2="1554" y2="1278" stroke="#6b7585" stroke-width="2"/>
<line x1="919" y1="1713" x2="925" y2="1713" stroke="#6b7585" stroke-width="2"/>
<line x1="1554" y1="1713" x2="1548" y2="1713" stroke="#6b7585" stroke-width="2"/>
<line x1="919" y1="1492.5" x2="925" y2="1492.5" stroke="#6b7585" stroke-width="2"/>
<line x1="1554" y1="1492.5" x2="1548" y2="1492.5" stroke="#6b7585" stroke-width="2"/>
<line x1="919" y1="1272" x2="925" y2="1272" stroke="#6b7585" stroke-width="2"/>
<line x1="1554" y1="1272" x2="1548" y2="1272" stroke="#6b7585" stroke-width="2"/>
<rect x="919" y="1272" width="635" height="441" fill="none" stroke="#6b7585" stroke-width="2.6"/>
<rect x="1346" y="1272.2" width="207.6" height="164.1" fill="#f0f0f0" stroke="#262626" stroke-width="2.6"/>
<line x1="1358.3" y1="1296" x2="1433.6" y2="1296" stroke="#00FF00" stroke-width="3"/>
<text transform="translate(1438.45,1299.40) scale(1.3681,1)" font-family='"Liberation Sans", Arial, Helvetica, sans-serif' font-size="23.04" font-weight="bold" fill="#000">N</text>
<text transform="translate(1459.60,1311.02) scale(1.1300,1)" font-family='"Liberation Sans", Arial, Helvetica, sans-serif' font-size="17.28" font-weight="bold" fill="#000">tc</text>
<text transform="translate(1484.99,1299.40) scale(1.2019,1)" font-family='"Liberation Sans", Arial, Helvetica, sans-serif' font-size="23.04" font-weight="bold" fill="#000">= 0.0</text>
<line x1="1358.3" y1="1334.6" x2="1433.6" y2="1334.6" stroke="#D95319" stroke-width="3"/>
<text transform="translate(1438.45,1338.00) scale(1.3681,1)" font-family='"Liberation Sans", Arial, Helvetica, sans-serif' font-size="23.04" font-weight="bold" fill="#000">N</text>
<text transform="translate(1459.60,1349.62) scale(1.1300,1)" font-family='"Liberation Sans", Arial, Helvetica, sans-serif' font-size="17.28" font-weight="bold" fill="#000">tc</text>
<text transform="translate(1484.99,1338.00) scale(1.2019,1)" font-family='"Liberation Sans", Arial, Helvetica, sans-serif' font-size="23.04" font-weight="bold" fill="#000">= 0.5</text>
<line x1="1358.3" y1="1373.2" x2="1433.6" y2="1373.2" stroke="#EDB120" stroke-width="3" stroke-dasharray="3.6,4.3"/>
<text transform="translate(1438.45,1376.60) scale(1.3681,1)" font-family='"Liberation Sans", Arial, Helvetica, sans-serif' font-size="23.04" font-weight="bold" fill="#000">N</text>
<text transform="translate(1459.60,1388.22) scale(1.1300,1)" font-family='"Liberation Sans", Arial, Helvetica, sans-serif' font-size="17.28" font-weight="bold" fill="#000">tc</text>
<text transform="translate(1484.99,1376.60) scale(1.2019,1)" font-family='"Liberation Sans", Arial, Helvetica, sans-serif' font-size="23.04" font-weight="bold" fill="#000">= 1.0</text>
<line x1="1358.3" y1="1411.8" x2="1433.6" y2="1411.8" stroke="#7E2F8E" stroke-width="3" stroke-dasharray="3.6,4.3"/>
<text transform="translate(1438.45,1415.20) scale(1.3681,1)" font-family='"Liberation Sans", Arial, Helvetica, sans-serif' font-size="23.04" font-weight="bold" fill="#000">N</text>
<text transform="translate(1459.60,1426.82) scale(1.1300,1)" font-family='"Liberation Sans", Arial, Helvetica, sans-serif' font-size="17.28" font-weight="bold" fill="#000">tc</text>
<text transform="translate(1484.99,1415.20) scale(1.2019,1)" font-family='"Liberation Sans", Arial, Helvetica, sans-serif' font-size="23.04" font-weight="bold" fill="#000">= 1.5</text>
<text transform="translate(910.54,1747.89) scale(1.1000,1)" font-family='"Liberation Sans", Arial, Helvetica, sans-serif' font-size="27.70" font-weight="bold" fill="#000">0</text>
<text transform="translate(1056.34,1747.89) scale(1.1000,1)" font-family='"Liberation Sans", Arial, Helvetica, sans-serif' font-size="27.70" font-weight="bold" fill="#000">0.5</text>
<text transform="translate(1225.61,1747.61) scale(1.1000,1)" font-family='"Liberation Sans", Arial, Helvetica, sans-serif' font-size="27.70" font-weight="bold" fill="#000">1</text>
<text transform="translate(1373.46,1747.61) scale(1.1000,1)" font-family='"Liberation Sans", Arial, Helvetica, sans-serif' font-size="27.70" font-weight="bold" fill="#000">1.5</text>
<text transform="translate(1545.62,1747.89) scale(1.1000,1)" font-family='"Liberation Sans", Arial, Helvetica, sans-serif' font-size="27.70" font-weight="bold" fill="#000">2</text>
<text transform="translate(852.38,1724.72) scale(1.1000,1)" font-family='"Liberation Sans", Arial, Helvetica, sans-serif' font-size="27.30" font-weight="bold" fill="#000">10</text>
<text transform="translate(887.29,1712.02) scale(1.0000,1)" font-family='"Liberation Sans", Arial, Helvetica, sans-serif' font-size="20.60" font-weight="bold" fill="#000">-6</text>
<text transform="translate(852.17,1504.22) scale(1.1000,1)" font-family='"Liberation Sans", Arial, Helvetica, sans-serif' font-size="27.30" font-weight="bold" fill="#000">10</text>
<text transform="translate(887.08,1491.52) scale(1.0000,1)" font-family='"Liberation Sans", Arial, Helvetica, sans-serif' font-size="20.60" font-weight="bold" fill="#000">-5</text>
<text transform="translate(851.76,1283.72) scale(1.1000,1)" font-family='"Liberation Sans", Arial, Helvetica, sans-serif' font-size="27.30" font-weight="bold" fill="#000">10</text>
<text transform="translate(886.67,1271.02) scale(1.0000,1)" font-family='"Liberation Sans", Arial, Helvetica, sans-serif' font-size="20.60" font-weight="bold" fill="#000">-4</text>
<rect x="108" y="1900" width="653" height="460" fill="#f0dfbb"/>
<line x1="271.25" y1="1900" x2="271.25" y2="2360" stroke="#d8c7a3" stroke-width="1.6"/>
<line x1="434.5" y1="1900" x2="434.5" y2="2360" stroke="#d8c7a3" stroke-width="1.6"/>
<line x1="597.75" y1="1900" x2="597.75" y2="2360" stroke="#d8c7a3" stroke-width="1.6"/>
<line x1="108" y1="2283.33" x2="761" y2="2283.33" stroke="#d8c7a3" stroke-width="1.6"/>
<line x1="108" y1="2206.67" x2="761" y2="2206.67" stroke="#d8c7a3" stroke-width="1.6"/>
<line x1="108" y1="2130" x2="761" y2="2130" stroke="#d8c7a3" stroke-width="1.6"/>
<line x1="108" y1="2053.33" x2="761" y2="2053.33" stroke="#d8c7a3" stroke-width="1.6"/>
<line x1="108" y1="1976.67" x2="761" y2="1976.67" stroke="#d8c7a3" stroke-width="1.6"/>
<polyline points="108.0,2125.9 140.6,2074.5 173.3,2033.1 206.0,2005.4 238.6,1989.3 271.2,1987.0 303.9,1998.5 336.5,2018.1 369.2,2051.5 401.9,2087.1 434.5,2130.0 467.2,2172.3 499.8,2209.0 532.5,2239.9 565.1,2261.6 597.8,2272.4 630.4,2270.1 663.0,2253.1 695.7,2221.5 728.4,2173.9 761.0,2112.8" fill="none" stroke="#FF00FF" stroke-width="3.0" stroke-linejoin="round"/>
<polygon points="108.0,2120.9 109.3,2124.2 113.2,2124.3 110.1,2126.5 111.2,2129.9 108.0,2127.9 104.8,2129.9 105.9,2126.5 102.8,2124.3 106.7,2124.2" fill="none" stroke="#000" stroke-width="1.9" stroke-linejoin="miter" stroke-miterlimit="6"/>
<polygon points="140.6,2069.5 141.9,2072.9 145.9,2072.9 142.7,2075.1 143.9,2078.5 140.6,2076.5 137.4,2078.5 138.6,2075.1 135.4,2072.9 139.4,2072.9" fill="none" stroke="#000" stroke-width="1.9" stroke-linejoin="miter" stroke-miterlimit="6"/>
<polygon points="173.3,2028.1 174.6,2031.5 178.5,2031.5 175.4,2033.7 176.5,2037.1 173.3,2035.1 170.1,2037.1 171.2,2033.7 168.1,2031.5 172.0,2031.5" fill="none" stroke="#000" stroke-width="1.9" stroke-linejoin="miter" stroke-miterlimit="6"/>
<polygon points="206.0,2000.4 207.2,2003.8 211.2,2003.9 208.0,2006.0 209.2,2009.5 206.0,2007.4 202.7,2009.5 203.9,2006.0 200.7,2003.9 204.7,2003.8" fill="none" stroke="#000" stroke-width="1.9" stroke-linejoin="miter" stroke-miterlimit="6"/>
<polygon points="238.6,1984.3 239.9,1987.7 243.8,1987.8 240.7,1989.9 241.8,1993.4 238.6,1991.3 235.4,1993.4 236.5,1989.9 233.4,1987.8 237.3,1987.7" fill="none" stroke="#000" stroke-width="1.9" stroke-linejoin="miter" stroke-miterlimit="6"/>
<polygon points="271.2,1982.0 272.5,1985.4 276.5,1985.5 273.3,1987.6 274.5,1991.1 271.2,1989.0 268.0,1991.1 269.2,1987.6 266.0,1985.5 270.0,1985.4" fill="none" stroke="#000" stroke-width="1.9" stroke-linejoin="miter" stroke-miterlimit="6"/>
<polygon points="303.9,1993.5 305.2,1996.9 309.1,1997.0 306.0,1999.1 307.1,2002.6 303.9,2000.5 300.7,2002.6 301.8,1999.1 298.7,1997.0 302.6,1996.9" fill="none" stroke="#000" stroke-width="1.9" stroke-linejoin="miter" stroke-miterlimit="6"/>
<polygon points="336.5,2013.1 337.8,2016.5 341.8,2016.6 338.6,2018.8 339.8,2022.2 336.5,2020.1 333.3,2022.2 334.5,2018.8 331.3,2016.6 335.3,2016.5" fill="none" stroke="#000" stroke-width="1.9" stroke-linejoin="miter" stroke-miterlimit="6"/>
<polygon points="369.2,2046.5 370.5,2049.9 374.4,2049.9 371.3,2052.1 372.4,2055.5 369.2,2053.5 366.0,2055.5 367.1,2052.1 364.0,2049.9 367.9,2049.9" fill="none" stroke="#000" stroke-width="1.9" stroke-linejoin="miter" stroke-miterlimit="6"/>
<polygon points="401.9,2082.1 403.1,2085.5 407.1,2085.6 403.9,2087.8 405.1,2091.2 401.9,2089.1 398.6,2091.2 399.8,2087.8 396.6,2085.6 400.6,2085.5" fill="none" stroke="#000" stroke-width="1.9" stroke-linejoin="miter" stroke-miterlimit="6"/>
<polygon points="434.5,2125.0 435.8,2128.4 439.7,2128.5 436.6,2130.6 437.7,2134.0 434.5,2132.0 431.3,2134.0 432.4,2130.6 429.3,2128.5 433.2,2128.4" fill="none" stroke="#000" stroke-width="1.9" stroke-linejoin="miter" stroke-miterlimit="6"/>
<polygon points="467.2,2167.3 468.4,2170.7 472.4,2170.8 469.2,2172.9 470.4,2176.4 467.2,2174.3 463.9,2176.4 465.1,2172.9 461.9,2170.8 465.9,2170.7" fill="none" stroke="#000" stroke-width="1.9" stroke-linejoin="miter" stroke-miterlimit="6"/>
<polygon points="499.8,2204.0 501.1,2207.3 505.0,2207.4 501.9,2209.6 503.0,2213.0 499.8,2211.0 496.6,2213.0 497.7,2209.6 494.6,2207.4 498.5,2207.3" fill="none" stroke="#000" stroke-width="1.9" stroke-linejoin="miter" stroke-miterlimit="6"/>
<polygon points="532.5,2234.9 533.7,2238.2 537.7,2238.3 534.5,2240.5 535.7,2243.9 532.5,2241.9 529.2,2243.9 530.4,2240.5 527.2,2238.3 531.2,2238.2" fill="none" stroke="#000" stroke-width="1.9" stroke-linejoin="miter" stroke-miterlimit="6"/>
<polygon points="565.1,2256.6 566.4,2259.9 570.3,2260.0 567.2,2262.2 568.3,2265.6 565.1,2263.6 561.9,2265.6 563.0,2262.2 559.9,2260.0 563.8,2259.9" fill="none" stroke="#000" stroke-width="1.9" stroke-linejoin="miter" stroke-miterlimit="6"/>
<polygon points="597.8,2267.4 599.0,2270.8 603.0,2270.8 599.8,2273.0 601.0,2276.4 597.8,2274.4 594.5,2276.4 595.7,2273.0 592.5,2270.8 596.5,2270.8" fill="none" stroke="#000" stroke-width="1.9" stroke-linejoin="miter" stroke-miterlimit="6"/>
<polygon points="630.4,2265.1 631.7,2268.5 635.6,2268.5 632.5,2270.7 633.6,2274.1 630.4,2272.1 627.2,2274.1 628.3,2270.7 625.2,2268.5 629.1,2268.5" fill="none" stroke="#000" stroke-width="1.9" stroke-linejoin="miter" stroke-miterlimit="6"/>
<polygon points="663.0,2248.1 664.3,2251.5 668.3,2251.6 665.1,2253.7 666.3,2257.2 663.0,2255.1 659.8,2257.2 661.0,2253.7 657.8,2251.6 661.8,2251.5" fill="none" stroke="#000" stroke-width="1.9" stroke-linejoin="miter" stroke-miterlimit="6"/>
<polygon points="695.7,2216.5 697.0,2219.9 700.9,2220.0 697.8,2222.2 698.9,2225.6 695.7,2223.5 692.5,2225.6 693.6,2222.2 690.5,2220.0 694.4,2219.9" fill="none" stroke="#000" stroke-width="1.9" stroke-linejoin="miter" stroke-miterlimit="6"/>
<polygon points="728.4,2168.9 729.6,2172.3 733.6,2172.4 730.4,2174.5 731.6,2178.0 728.4,2175.9 725.1,2178.0 726.3,2174.5 723.1,2172.4 727.1,2172.3" fill="none" stroke="#000" stroke-width="1.9" stroke-linejoin="miter" stroke-miterlimit="6"/>
<polygon points="761.0,2107.8 762.3,2111.2 766.2,2111.3 763.1,2113.4 764.2,2116.9 761.0,2114.8 757.8,2116.9 758.9,2113.4 755.8,2111.3 759.7,2111.2" fill="none" stroke="#000" stroke-width="1.9" stroke-linejoin="miter" stroke-miterlimit="6"/>
<polyline points="108.0,2125.9 140.6,2067.6 173.3,2024.6 206.0,1993.9 238.6,1976.7 271.2,1975.5 303.9,1987.0 336.5,2008.9 369.2,2041.1 401.9,2083.7 434.5,2130.0 467.2,2175.2 499.8,2215.9 532.5,2249.0 565.1,2273.8 597.8,2284.5 630.4,2282.2 663.0,2263.9 695.7,2229.6 728.4,2178.3 761.0,2112.8" fill="none" stroke="#EDB120" stroke-width="3.0" stroke-linejoin="round"/>
<polygon points="108.0,2120.9 109.3,2124.2 113.2,2124.3 110.1,2126.5 111.2,2129.9 108.0,2127.9 104.8,2129.9 105.9,2126.5 102.8,2124.3 106.7,2124.2" fill="none" stroke="#000" stroke-width="1.9" stroke-linejoin="miter" stroke-miterlimit="6"/>
<polygon points="140.6,2062.6 141.9,2066.0 145.9,2066.0 142.7,2068.2 143.9,2071.6 140.6,2069.6 137.4,2071.6 138.6,2068.2 135.4,2066.0 139.4,2066.0" fill="none" stroke="#000" stroke-width="1.9" stroke-linejoin="miter" stroke-miterlimit="6"/>
<polygon points="173.3,2019.6 174.6,2023.0 178.5,2023.0 175.4,2025.2 176.5,2028.6 173.3,2026.6 170.1,2028.6 171.2,2025.2 168.1,2023.0 172.0,2023.0" fill="none" stroke="#000" stroke-width="1.9" stroke-linejoin="miter" stroke-miterlimit="6"/>
<polygon points="206.0,1988.9 207.2,1992.3 211.2,1992.4 208.0,1994.5 209.2,1998.0 206.0,1995.9 202.7,1998.0 203.9,1994.5 200.7,1992.4 204.7,1992.3" fill="none" stroke="#000" stroke-width="1.9" stroke-linejoin="miter" stroke-miterlimit="6"/>
<polygon points="238.6,1971.7 239.9,1975.0 243.8,1975.1 240.7,1977.3 241.8,1980.7 238.6,1978.7 235.4,1980.7 236.5,1977.3 233.4,1975.1 237.3,1975.0" fill="none" stroke="#000" stroke-width="1.9" stroke-linejoin="miter" stroke-miterlimit="6"/>
<polygon points="271.2,1970.5 272.5,1973.9 276.5,1974.0 273.3,1976.1 274.5,1979.6 271.2,1977.5 268.0,1979.6 269.2,1976.1 266.0,1974.0 270.0,1973.9" fill="none" stroke="#000" stroke-width="1.9" stroke-linejoin="miter" stroke-miterlimit="6"/>
<polygon points="303.9,1982.0 305.2,1985.4 309.1,1985.5 306.0,1987.6 307.1,1991.1 303.9,1989.0 300.7,1991.1 301.8,1987.6 298.7,1985.5 302.6,1985.4" fill="none" stroke="#000" stroke-width="1.9" stroke-linejoin="miter" stroke-miterlimit="6"/>
<polygon points="336.5,2003.9 337.8,2007.2 341.8,2007.3 338.6,2009.5 339.8,2012.9 336.5,2010.9 333.3,2012.9 334.5,2009.5 331.3,2007.3 335.3,2007.2" fill="none" stroke="#000" stroke-width="1.9" stroke-linejoin="miter" stroke-miterlimit="6"/>
<polygon points="369.2,2036.1 370.5,2039.5 374.4,2039.6 371.3,2041.8 372.4,2045.2 369.2,2043.1 366.0,2045.2 367.1,2041.8 364.0,2039.6 367.9,2039.5" fill="none" stroke="#000" stroke-width="1.9" stroke-linejoin="miter" stroke-miterlimit="6"/>
<polygon points="401.9,2078.7 403.1,2082.1 407.1,2082.1 403.9,2084.3 405.1,2087.7 401.9,2085.7 398.6,2087.7 399.8,2084.3 396.6,2082.1 400.6,2082.1" fill="none" stroke="#000" stroke-width="1.9" stroke-linejoin="miter" stroke-miterlimit="6"/>
<polygon points="434.5,2125.0 435.8,2128.4 439.7,2128.5 436.6,2130.6 437.7,2134.0 434.5,2132.0 431.3,2134.0 432.4,2130.6 429.3,2128.5 433.2,2128.4" fill="none" stroke="#000" stroke-width="1.9" stroke-linejoin="miter" stroke-miterlimit="6"/>
<polygon points="467.2,2170.2 468.4,2173.6 472.4,2173.7 469.2,2175.9 470.4,2179.3 467.2,2177.2 463.9,2179.3 465.1,2175.9 461.9,2173.7 465.9,2173.6" fill="none" stroke="#000" stroke-width="1.9" stroke-linejoin="miter" stroke-miterlimit="6"/>
<polygon points="499.8,2210.9 501.1,2214.2 505.0,2214.3 501.9,2216.5 503.0,2219.9 499.8,2217.9 496.6,2219.9 497.7,2216.5 494.6,2214.3 498.5,2214.2" fill="none" stroke="#000" stroke-width="1.9" stroke-linejoin="miter" stroke-miterlimit="6"/>
<polygon points="532.5,2244.0 533.7,2247.4 537.7,2247.4 534.5,2249.6 535.7,2253.0 532.5,2251.0 529.2,2253.0 530.4,2249.6 527.2,2247.4 531.2,2247.4" fill="none" stroke="#000" stroke-width="1.9" stroke-linejoin="miter" stroke-miterlimit="6"/>
<polygon points="565.1,2268.8 566.4,2272.1 570.3,2272.2 567.2,2274.4 568.3,2277.8 565.1,2275.8 561.9,2277.8 563.0,2274.4 559.9,2272.2 563.8,2272.1" fill="none" stroke="#000" stroke-width="1.9" stroke-linejoin="miter" stroke-miterlimit="6"/>
<polygon points="597.8,2279.5 599.0,2282.9 603.0,2282.9 599.8,2285.1 601.0,2288.5 597.8,2286.5 594.5,2288.5 595.7,2285.1 592.5,2282.9 596.5,2282.9" fill="none" stroke="#000" stroke-width="1.9" stroke-linejoin="miter" stroke-miterlimit="6"/>
<polygon points="630.4,2277.2 631.7,2280.6 635.6,2280.6 632.5,2282.8 633.6,2286.2 630.4,2284.2 627.2,2286.2 628.3,2282.8 625.2,2280.6 629.1,2280.6" fill="none" stroke="#000" stroke-width="1.9" stroke-linejoin="miter" stroke-miterlimit="6"/>
<polygon points="663.0,2258.9 664.3,2262.2 668.3,2262.3 665.1,2264.5 666.3,2267.9 663.0,2265.9 659.8,2267.9 661.0,2264.5 657.8,2262.3 661.8,2262.2" fill="none" stroke="#000" stroke-width="1.9" stroke-linejoin="miter" stroke-miterlimit="6"/>
<polygon points="695.7,2224.6 697.0,2228.0 700.9,2228.0 697.8,2230.2 698.9,2233.6 695.7,2231.6 692.5,2233.6 693.6,2230.2 690.5,2228.0 694.4,2228.0" fill="none" stroke="#000" stroke-width="1.9" stroke-linejoin="miter" stroke-miterlimit="6"/>
<polygon points="728.4,2173.3 729.6,2176.7 733.6,2176.8 730.4,2178.9 731.6,2182.3 728.4,2180.3 725.1,2182.3 726.3,2178.9 723.1,2176.8 727.1,2176.7" fill="none" stroke="#000" stroke-width="1.9" stroke-linejoin="miter" stroke-miterlimit="6"/>
<polygon points="761.0,2107.8 762.3,2111.2 766.2,2111.3 763.1,2113.4 764.2,2116.9 761.0,2114.8 757.8,2116.9 758.9,2113.4 755.8,2111.3 759.7,2111.2" fill="none" stroke="#000" stroke-width="1.9" stroke-linejoin="miter" stroke-miterlimit="6"/>
<polyline points="108.0,2125.9 140.6,2064.1 173.3,2017.0 206.0,1983.1 238.6,1964.0 271.2,1962.9 303.9,1976.2 336.5,2000.8 369.2,2036.5 401.9,2082.5 434.5,2130.0 467.2,2177.5 499.8,2221.5 532.5,2258.2 565.1,2283.3 597.8,2295.9 630.4,2292.5 663.0,2275.4 695.7,2237.6 728.4,2182.1 761.0,2112.8" fill="none" stroke="#77AC30" stroke-width="3.0" stroke-linejoin="round"/>
<polygon points="108.0,2120.9 109.3,2124.2 113.2,2124.3 110.1,2126.5 111.2,2129.9 108.0,2127.9 104.8,2129.9 105.9,2126.5 102.8,2124.3 106.7,2124.2" fill="none" stroke="#000" stroke-width="1.9" stroke-linejoin="miter" stroke-miterlimit="6"/>
<polygon points="140.6,2059.1 141.9,2062.5 145.9,2062.6 142.7,2064.8 143.9,2068.2 140.6,2066.1 137.4,2068.2 138.6,2064.8 135.4,2062.6 139.4,2062.5" fill="none" stroke="#000" stroke-width="1.9" stroke-linejoin="miter" stroke-miterlimit="6"/>
<polygon points="173.3,2012.0 174.6,2015.4 178.5,2015.4 175.4,2017.6 176.5,2021.0 173.3,2019.0 170.1,2021.0 171.2,2017.6 168.1,2015.4 172.0,2015.4" fill="none" stroke="#000" stroke-width="1.9" stroke-linejoin="miter" stroke-miterlimit="6"/>
<polygon points="206.0,1978.1 207.2,1981.5 211.2,1981.6 208.0,1983.7 209.2,1987.2 206.0,1985.1 202.7,1987.2 203.9,1983.7 200.7,1981.6 204.7,1981.5" fill="none" stroke="#000" stroke-width="1.9" stroke-linejoin="miter" stroke-miterlimit="6"/>
<polygon points="238.6,1959.0 239.9,1962.4 243.8,1962.5 240.7,1964.6 241.8,1968.1 238.6,1966.0 235.4,1968.1 236.5,1964.6 233.4,1962.5 237.3,1962.4" fill="none" stroke="#000" stroke-width="1.9" stroke-linejoin="miter" stroke-miterlimit="6"/>
<polygon points="271.2,1957.9 272.5,1961.2 276.5,1961.3 273.3,1963.5 274.5,1966.9 271.2,1964.9 268.0,1966.9 269.2,1963.5 266.0,1961.3 270.0,1961.2" fill="none" stroke="#000" stroke-width="1.9" stroke-linejoin="miter" stroke-miterlimit="6"/>
<polygon points="303.9,1971.2 305.2,1974.6 309.1,1974.7 306.0,1976.8 307.1,1980.3 303.9,1978.2 300.7,1980.3 301.8,1976.8 298.7,1974.7 302.6,1974.6" fill="none" stroke="#000" stroke-width="1.9" stroke-linejoin="miter" stroke-miterlimit="6"/>
<polygon points="336.5,1995.8 337.8,1999.2 341.8,1999.3 338.6,2001.4 339.8,2004.9 336.5,2002.8 333.3,2004.9 334.5,2001.4 331.3,1999.3 335.3,1999.2" fill="none" stroke="#000" stroke-width="1.9" stroke-linejoin="miter" stroke-miterlimit="6"/>
<polygon points="369.2,2031.5 370.5,2034.9 374.4,2035.0 371.3,2037.2 372.4,2040.6 369.2,2038.5 366.0,2040.6 367.1,2037.2 364.0,2035.0 367.9,2034.9" fill="none" stroke="#000" stroke-width="1.9" stroke-linejoin="miter" stroke-miterlimit="6"/>
<polygon points="401.9,2077.5 403.1,2080.9 407.1,2081.0 403.9,2083.2 405.1,2086.6 401.9,2084.5 398.6,2086.6 399.8,2083.2 396.6,2081.0 400.6,2080.9" fill="none" stroke="#000" stroke-width="1.9" stroke-linejoin="miter" stroke-miterlimit="6"/>
<polygon points="434.5,2125.0 435.8,2128.4 439.7,2128.5 436.6,2130.6 437.7,2134.0 434.5,2132.0 431.3,2134.0 432.4,2130.6 429.3,2128.5 433.2,2128.4" fill="none" stroke="#000" stroke-width="1.9" stroke-linejoin="miter" stroke-miterlimit="6"/>
<polygon points="467.2,2172.5 468.4,2175.9 472.4,2176.0 469.2,2178.2 470.4,2181.6 467.2,2179.5 463.9,2181.6 465.1,2178.2 461.9,2176.0 465.9,2175.9" fill="none" stroke="#000" stroke-width="1.9" stroke-linejoin="miter" stroke-miterlimit="6"/>
<polygon points="499.8,2216.5 501.1,2219.9 505.0,2220.0 501.9,2222.2 503.0,2225.6 499.8,2223.5 496.6,2225.6 497.7,2222.2 494.6,2220.0 498.5,2219.9" fill="none" stroke="#000" stroke-width="1.9" stroke-linejoin="miter" stroke-miterlimit="6"/>
<polygon points="532.5,2253.2 533.7,2256.6 537.7,2256.6 534.5,2258.8 535.7,2262.2 532.5,2260.2 529.2,2262.2 530.4,2258.8 527.2,2256.6 531.2,2256.6" fill="none" stroke="#000" stroke-width="1.9" stroke-linejoin="miter" stroke-miterlimit="6"/>
<polygon points="565.1,2278.3 566.4,2281.7 570.3,2281.8 567.2,2284.0 568.3,2287.4 565.1,2285.3 561.9,2287.4 563.0,2284.0 559.9,2281.8 563.8,2281.7" fill="none" stroke="#000" stroke-width="1.9" stroke-linejoin="miter" stroke-miterlimit="6"/>
<polygon points="597.8,2290.9 599.0,2294.3 603.0,2294.4 599.8,2296.5 601.0,2300.0 597.8,2297.9 594.5,2300.0 595.7,2296.5 592.5,2294.4 596.5,2294.3" fill="none" stroke="#000" stroke-width="1.9" stroke-linejoin="miter" stroke-miterlimit="6"/>
<polygon points="630.4,2287.5 631.7,2290.8 635.6,2290.9 632.5,2293.1 633.6,2296.5 630.4,2294.5 627.2,2296.5 628.3,2293.1 625.2,2290.9 629.1,2290.8" fill="none" stroke="#000" stroke-width="1.9" stroke-linejoin="miter" stroke-miterlimit="6"/>
<polygon points="663.0,2270.4 664.3,2273.7 668.3,2273.8 665.1,2276.0 666.3,2279.4 663.0,2277.4 659.8,2279.4 661.0,2276.0 657.8,2273.8 661.8,2273.7" fill="none" stroke="#000" stroke-width="1.9" stroke-linejoin="miter" stroke-miterlimit="6"/>
<polygon points="695.7,2232.6 697.0,2235.9 700.9,2236.0 697.8,2238.2 698.9,2241.6 695.7,2239.6 692.5,2241.6 693.6,2238.2 690.5,2236.0 694.4,2235.9" fill="none" stroke="#000" stroke-width="1.9" stroke-linejoin="miter" stroke-miterlimit="6"/>
<polygon points="728.4,2177.1 729.6,2180.5 733.6,2180.6 730.4,2182.8 731.6,2186.2 728.4,2184.1 725.1,2186.2 726.3,2182.8 723.1,2180.6 727.1,2180.5" fill="none" stroke="#000" stroke-width="1.9" stroke-linejoin="miter" stroke-miterlimit="6"/>
<polygon points="761.0,2107.8 762.3,2111.2 766.2,2111.3 763.1,2113.4 764.2,2116.9 761.0,2114.8 757.8,2116.9 758.9,2113.4 755.8,2111.3 759.7,2111.2" fill="none" stroke="#000" stroke-width="1.9" stroke-linejoin="miter" stroke-miterlimit="6"/>
<polyline points="108.0,2125.9 140.6,2060.7 173.3,2008.9 206.0,1973.2 238.6,1953.7 271.2,1950.2 303.9,1965.2 336.5,1993.2 369.2,2031.9 401.9,2080.2 434.5,2130.0 467.2,2180.4 499.8,2227.3 532.5,2266.2 565.1,2293.6 597.8,2309.8 630.4,2306.3 663.0,2285.2 695.7,2245.5 728.4,2186.0 761.0,2112.8" fill="none" stroke="#00FFFF" stroke-width="3.0" stroke-linejoin="round"/>
<polygon points="108.0,2120.9 109.3,2124.2 113.2,2124.3 110.1,2126.5 111.2,2129.9 108.0,2127.9 104.8,2129.9 105.9,2126.5 102.8,2124.3 106.7,2124.2" fill="none" stroke="#000" stroke-width="1.9" stroke-linejoin="miter" stroke-miterlimit="6"/>
<polygon points="140.6,2055.7 141.9,2059.1 145.9,2059.1 142.7,2061.3 143.9,2064.7 140.6,2062.7 137.4,2064.7 138.6,2061.3 135.4,2059.1 139.4,2059.1" fill="none" stroke="#000" stroke-width="1.9" stroke-linejoin="miter" stroke-miterlimit="6"/>
<polygon points="173.3,2003.9 174.6,2007.2 178.5,2007.3 175.4,2009.5 176.5,2012.9 173.3,2010.9 170.1,2012.9 171.2,2009.5 168.1,2007.3 172.0,2007.2" fill="none" stroke="#000" stroke-width="1.9" stroke-linejoin="miter" stroke-miterlimit="6"/>
<polygon points="206.0,1968.2 207.2,1971.6 211.2,1971.7 208.0,1973.8 209.2,1977.3 206.0,1975.2 202.7,1977.3 203.9,1973.8 200.7,1971.7 204.7,1971.6" fill="none" stroke="#000" stroke-width="1.9" stroke-linejoin="miter" stroke-miterlimit="6"/>
<polygon points="238.6,1948.7 239.9,1952.0 243.8,1952.1 240.7,1954.3 241.8,1957.7 238.6,1955.7 235.4,1957.7 236.5,1954.3 233.4,1952.1 237.3,1952.0" fill="none" stroke="#000" stroke-width="1.9" stroke-linejoin="miter" stroke-miterlimit="6"/>
<polygon points="271.2,1945.2 272.5,1948.6 276.5,1948.7 273.3,1950.8 274.5,1954.3 271.2,1952.2 268.0,1954.3 269.2,1950.8 266.0,1948.7 270.0,1948.6" fill="none" stroke="#000" stroke-width="1.9" stroke-linejoin="miter" stroke-miterlimit="6"/>
<polygon points="303.9,1960.2 305.2,1963.5 309.1,1963.6 306.0,1965.8 307.1,1969.2 303.9,1967.2 300.7,1969.2 301.8,1965.8 298.7,1963.6 302.6,1963.5" fill="none" stroke="#000" stroke-width="1.9" stroke-linejoin="miter" stroke-miterlimit="6"/>
<polygon points="336.5,1988.2 337.8,1991.6 341.8,1991.7 338.6,1993.8 339.8,1997.3 336.5,1995.2 333.3,1997.3 334.5,1993.8 331.3,1991.7 335.3,1991.6" fill="none" stroke="#000" stroke-width="1.9" stroke-linejoin="miter" stroke-miterlimit="6"/>
<polygon points="369.2,2026.9 370.5,2030.3 374.4,2030.4 371.3,2032.6 372.4,2036.0 369.2,2033.9 366.0,2036.0 367.1,2032.6 364.0,2030.4 367.9,2030.3" fill="none" stroke="#000" stroke-width="1.9" stroke-linejoin="miter" stroke-miterlimit="6"/>
<polygon points="401.9,2075.2 403.1,2078.6 407.1,2078.7 403.9,2080.9 405.1,2084.3 401.9,2082.2 398.6,2084.3 399.8,2080.9 396.6,2078.7 400.6,2078.6" fill="none" stroke="#000" stroke-width="1.9" stroke-linejoin="miter" stroke-miterlimit="6"/>
<polygon points="434.5,2125.0 435.8,2128.4 439.7,2128.5 436.6,2130.6 437.7,2134.0 434.5,2132.0 431.3,2134.0 432.4,2130.6 429.3,2128.5 433.2,2128.4" fill="none" stroke="#000" stroke-width="1.9" stroke-linejoin="miter" stroke-miterlimit="6"/>
<polygon points="467.2,2175.4 468.4,2178.8 472.4,2178.8 469.2,2181.0 470.4,2184.4 467.2,2182.4 463.9,2184.4 465.1,2181.0 461.9,2178.8 465.9,2178.8" fill="none" stroke="#000" stroke-width="1.9" stroke-linejoin="miter" stroke-miterlimit="6"/>
<polygon points="499.8,2222.3 501.1,2225.7 505.0,2225.7 501.9,2227.9 503.0,2231.3 499.8,2229.3 496.6,2231.3 497.7,2227.9 494.6,2225.7 498.5,2225.7" fill="none" stroke="#000" stroke-width="1.9" stroke-linejoin="miter" stroke-miterlimit="6"/>
<polygon points="532.5,2261.2 533.7,2264.5 537.7,2264.6 534.5,2266.8 535.7,2270.2 532.5,2268.2 529.2,2270.2 530.4,2266.8 527.2,2264.6 531.2,2264.5" fill="none" stroke="#000" stroke-width="1.9" stroke-linejoin="miter" stroke-miterlimit="6"/>
<polygon points="565.1,2288.6 566.4,2292.0 570.3,2292.1 567.2,2294.2 568.3,2297.7 565.1,2295.6 561.9,2297.7 563.0,2294.2 559.9,2292.1 563.8,2292.0" fill="none" stroke="#000" stroke-width="1.9" stroke-linejoin="miter" stroke-miterlimit="6"/>
<polygon points="597.8,2304.8 599.0,2308.2 603.0,2308.2 599.8,2310.4 601.0,2313.8 597.8,2311.8 594.5,2313.8 595.7,2310.4 592.5,2308.2 596.5,2308.2" fill="none" stroke="#000" stroke-width="1.9" stroke-linejoin="miter" stroke-miterlimit="6"/>
<polygon points="630.4,2301.3 631.7,2304.7 635.6,2304.8 632.5,2307.0 633.6,2310.4 630.4,2308.3 627.2,2310.4 628.3,2307.0 625.2,2304.8 629.1,2304.7" fill="none" stroke="#000" stroke-width="1.9" stroke-linejoin="miter" stroke-miterlimit="6"/>
<polygon points="663.0,2280.2 664.3,2283.6 668.3,2283.6 665.1,2285.8 666.3,2289.2 663.0,2287.2 659.8,2289.2 661.0,2285.8 657.8,2283.6 661.8,2283.6" fill="none" stroke="#000" stroke-width="1.9" stroke-linejoin="miter" stroke-miterlimit="6"/>
<polygon points="695.7,2240.5 697.0,2243.9 700.9,2244.0 697.8,2246.2 698.9,2249.6 695.7,2247.5 692.5,2249.6 693.6,2246.2 690.5,2244.0 694.4,2243.9" fill="none" stroke="#000" stroke-width="1.9" stroke-linejoin="miter" stroke-miterlimit="6"/>
<polygon points="728.4,2181.0 729.6,2184.4 733.6,2184.5 730.4,2186.7 731.6,2190.1 728.4,2188.0 725.1,2190.1 726.3,2186.7 723.1,2184.5 727.1,2184.4" fill="none" stroke="#000" stroke-width="1.9" stroke-linejoin="miter" stroke-miterlimit="6"/>
<polygon points="761.0,2107.8 762.3,2111.2 766.2,2111.3 763.1,2113.4 764.2,2116.9 761.0,2114.8 757.8,2116.9 758.9,2113.4 755.8,2111.3 759.7,2111.2" fill="none" stroke="#000" stroke-width="1.9" stroke-linejoin="miter" stroke-miterlimit="6"/>
<line x1="108" y1="2360" x2="108" y2="2354" stroke="#7e776a" stroke-width="2"/>
<line x1="108" y1="1900" x2="108" y2="1906" stroke="#7e776a" stroke-width="2"/>
<line x1="271.25" y1="2360" x2="271.25" y2="2354" stroke="#7e776a" stroke-width="2"/>
<line x1="271.25" y1="1900" x2="271.25" y2="1906" stroke="#7e776a" stroke-width="2"/>
<line x1="434.5" y1="2360" x2="434.5" y2="2354" stroke="#7e776a" stroke-width="2"/>
<line x1="434.5" y1="1900" x2="434.5" y2="1906" stroke="#7e776a" stroke-width="2"/>
<line x1="597.75" y1="2360" x2="597.75" y2="2354" stroke="#7e776a" stroke-width="2"/>
<line x1="597.75" y1="1900" x2="597.75" y2="1906" stroke="#7e776a" stroke-width="2"/>
<line x1="761" y1="2360" x2="761" y2="2354" stroke="#7e776a" stroke-width="2"/>
<line x1="761" y1="1900" x2="761" y2="1906" stroke="#7e776a" stroke-width="2"/>
<line x1="108" y1="2360" x2="114" y2="2360" stroke="#7e776a" stroke-width="2"/>
<line x1="761" y1="2360" x2="755" y2="2360" stroke="#7e776a" stroke-width="2"/>
<line x1="108" y1="2283.33" x2="114" y2="2283.33" stroke="#7e776a" stroke-width="2"/>
<line x1="761" y1="2283.33" x2="755" y2="2283.33" stroke="#7e776a" stroke-width="2"/>
<line x1="108" y1="2206.67" x2="114" y2="2206.67" stroke="#7e776a" stroke-width="2"/>
<line x1="761" y1="2206.67" x2="755" y2="2206.67" stroke="#7e776a" stroke-width="2"/>
<line x1="108" y1="2130" x2="114" y2="2130" stroke="#7e776a" stroke-width="2"/>
<line x1="761" y1="2130" x2="755" y2="2130" stroke="#7e776a" stroke-width="2"/>
<line x1="108" y1="2053.33" x2="114" y2="2053.33" stroke="#7e776a" stroke-width="2"/>
<line x1="761" y1="2053.33" x2="755" y2="2053.33" stroke="#7e776a" stroke-width="2"/>
<line x1="108" y1="1976.67" x2="114" y2="1976.67" stroke="#7e776a" stroke-width="2"/>
<line x1="761" y1="1976.67" x2="755" y2="1976.67" stroke="#7e776a" stroke-width="2"/>
<line x1="108" y1="1900" x2="114" y2="1900" stroke="#7e776a" stroke-width="2"/>
<line x1="761" y1="1900" x2="755" y2="1900" stroke="#7e776a" stroke-width="2"/>
<rect x="108" y="1900" width="653" height="460" fill="none" stroke="#7e776a" stroke-width="2.6"/>
<rect x="541" y="1898" width="220.5" height="171.5" fill="#f0f0f0" stroke="#262626" stroke-width="2.6"/>
<line x1="554.8" y1="1923" x2="634.3" y2="1923" stroke="#00FFFF" stroke-width="3"/>
<text transform="translate(639.23,1926.50) scale(1.2101,1)" font-family='"Liberation Sans", Arial, Helvetica, sans-serif' font-size="25.07" font-weight="bold" fill="#000">N</text>
<text transform="translate(661.00,1939.12) scale(1.1910,1)" font-family='"Liberation Sans", Arial, Helvetica, sans-serif' font-size="18.80" font-weight="bold" fill="#000">ct</text>
<text transform="translate(689.03,1926.50) scale(1.1690,1)" font-family='"Liberation Sans", Arial, Helvetica, sans-serif' font-size="25.07" font-weight="bold" fill="#000">= 0.0</text>
<line x1="554.8" y1="1963.6" x2="634.3" y2="1963.6" stroke="#77AC30" stroke-width="3"/>
<text transform="translate(639.23,1967.10) scale(1.2101,1)" font-family='"Liberation Sans", Arial, Helvetica, sans-serif' font-size="25.07" font-weight="bold" fill="#000">N</text>
<text transform="translate(661.00,1979.72) scale(1.1910,1)" font-family='"Liberation Sans", Arial, Helvetica, sans-serif' font-size="18.80" font-weight="bold" fill="#000">ct</text>
<text transform="translate(689.03,1967.10) scale(1.1690,1)" font-family='"Liberation Sans", Arial, Helvetica, sans-serif' font-size="25.07" font-weight="bold" fill="#000">= 0.5</text>
<line x1="554.8" y1="2004.2" x2="634.3" y2="2004.2" stroke="#EDB120" stroke-width="3"/>
<text transform="translate(639.23,2007.70) scale(1.2101,1)" font-family='"Liberation Sans", Arial, Helvetica, sans-serif' font-size="25.07" font-weight="bold" fill="#000">N</text>
<text transform="translate(661.00,2020.32) scale(1.1910,1)" font-family='"Liberation Sans", Arial, Helvetica, sans-serif' font-size="18.80" font-weight="bold" fill="#000">ct</text>
<text transform="translate(689.03,2007.70) scale(1.1690,1)" font-family='"Liberation Sans", Arial, Helvetica, sans-serif' font-size="25.07" font-weight="bold" fill="#000">= 1.0</text>
<line x1="554.8" y1="2044.8" x2="634.3" y2="2044.8" stroke="#FF00FF" stroke-width="3"/>
<text transform="translate(639.23,2048.30) scale(1.2101,1)" font-family='"Liberation Sans", Arial, Helvetica, sans-serif' font-size="25.07" font-weight="bold" fill="#000">N</text>
<text transform="translate(661.00,2060.92) scale(1.1910,1)" font-family='"Liberation Sans", Arial, Helvetica, sans-serif' font-size="18.80" font-weight="bold" fill="#000">ct</text>
<text transform="translate(689.03,2048.30) scale(1.1690,1)" font-family='"Liberation Sans", Arial, Helvetica, sans-serif' font-size="25.07" font-weight="bold" fill="#000">= 1.5</text>
<text transform="translate(91.44,2396.83) scale(1.1300,1)" font-family='"Liberation Sans", Arial, Helvetica, sans-serif' font-size="28.60" font-weight="bold" fill="#000">-1</text>
<text transform="translate(243.21,2397.12) scale(1.1300,1)" font-family='"Liberation Sans", Arial, Helvetica, sans-serif' font-size="28.60" font-weight="bold" fill="#000">-0.5</text>
<text transform="translate(425.53,2397.12) scale(1.1300,1)" font-family='"Liberation Sans", Arial, Helvetica, sans-serif' font-size="28.60" font-weight="bold" fill="#000">0</text>
<text transform="translate(575.05,2397.12) scale(1.1300,1)" font-family='"Liberation Sans", Arial, Helvetica, sans-serif' font-size="28.60" font-weight="bold" fill="#000">0.5</text>
<text transform="translate(749.45,2396.83) scale(1.1300,1)" font-family='"Liberation Sans", Arial, Helvetica, sans-serif' font-size="28.60" font-weight="bold" fill="#000">1</text>
<text transform="translate(69.89,2369.87) scale(1.0800,1)" font-family='"Liberation Sans", Arial, Helvetica, sans-serif' font-size="28.60" font-weight="bold" fill="#000">-3</text>
<text transform="translate(70.05,2293.34) scale(1.0800,1)" font-family='"Liberation Sans", Arial, Helvetica, sans-serif' font-size="28.60" font-weight="bold" fill="#000">-2</text>
<text transform="translate(65.88,2216.53) scale(1.0800,1)" font-family='"Liberation Sans", Arial, Helvetica, sans-serif' font-size="28.60" font-weight="bold" fill="#000">-1</text>
<text transform="translate(80.39,2139.87) scale(1.0800,1)" font-family='"Liberation Sans", Arial, Helvetica, sans-serif' font-size="28.60" font-weight="bold" fill="#000">0</text>
<text transform="translate(76.22,2063.20) scale(1.0800,1)" font-family='"Liberation Sans", Arial, Helvetica, sans-serif' font-size="28.60" font-weight="bold" fill="#000">1</text>
<text transform="translate(80.39,1986.68) scale(1.0800,1)" font-family='"Liberation Sans", Arial, Helvetica, sans-serif' font-size="28.60" font-weight="bold" fill="#000">2</text>
<text transform="translate(80.24,1909.87) scale(1.0800,1)" font-family='"Liberation Sans", Arial, Helvetica, sans-serif' font-size="28.60" font-weight="bold" fill="#000">3</text>
<rect x="905.5" y="1902" width="640.5" height="459" fill="#f0dfbb"/>
<line x1="1065.62" y1="1902" x2="1065.62" y2="2361" stroke="#d8c7a3" stroke-width="1.6"/>
<line x1="1225.75" y1="1902" x2="1225.75" y2="2361" stroke="#d8c7a3" stroke-width="1.6"/>
<line x1="1385.88" y1="1902" x2="1385.88" y2="2361" stroke="#d8c7a3" stroke-width="1.6"/>
<line x1="905.5" y1="2208" x2="1546" y2="2208" stroke="#d8c7a3" stroke-width="1.6"/>
<line x1="905.5" y1="2055" x2="1546" y2="2055" stroke="#d8c7a3" stroke-width="1.6"/>
<line x1="907.5" y1="2314.94" x2="1546" y2="2314.94" stroke="#d8c7a3" stroke-width="1.8" stroke-dasharray="2.2,6.0"/>
<line x1="905.5" y1="2314.94" x2="909.1" y2="2314.94" stroke="#7e776a" stroke-width="2"/>
<line x1="1546" y1="2314.94" x2="1542.4" y2="2314.94" stroke="#7e776a" stroke-width="2"/>
<line x1="907.5" y1="2288" x2="1546" y2="2288" stroke="#d8c7a3" stroke-width="1.8" stroke-dasharray="2.2,6.0"/>
<line x1="905.5" y1="2288" x2="909.1" y2="2288" stroke="#7e776a" stroke-width="2"/>
<line x1="1546" y1="2288" x2="1542.4" y2="2288" stroke="#7e776a" stroke-width="2"/>
<line x1="907.5" y1="2268.88" x2="1546" y2="2268.88" stroke="#d8c7a3" stroke-width="1.8" stroke-dasharray="2.2,6.0"/>
<line x1="905.5" y1="2268.88" x2="909.1" y2="2268.88" stroke="#7e776a" stroke-width="2"/>
<line x1="1546" y1="2268.88" x2="1542.4" y2="2268.88" stroke="#7e776a" stroke-width="2"/>
<line x1="907.5" y1="2254.06" x2="1546" y2="2254.06" stroke="#d8c7a3" stroke-width="1.8" stroke-dasharray="2.2,6.0"/>
<line x1="905.5" y1="2254.06" x2="909.1" y2="2254.06" stroke="#7e776a" stroke-width="2"/>
<line x1="1546" y1="2254.06" x2="1542.4" y2="2254.06" stroke="#7e776a" stroke-width="2"/>
<line x1="907.5" y1="2241.94" x2="1546" y2="2241.94" stroke="#d8c7a3" stroke-width="1.8" stroke-dasharray="2.2,6.0"/>
<line x1="905.5" y1="2241.94" x2="909.1" y2="2241.94" stroke="#7e776a" stroke-width="2"/>
<line x1="1546" y1="2241.94" x2="1542.4" y2="2241.94" stroke="#7e776a" stroke-width="2"/>
<line x1="907.5" y1="2231.7" x2="1546" y2="2231.7" stroke="#d8c7a3" stroke-width="1.8" stroke-dasharray="2.2,6.0"/>
<line x1="905.5" y1="2231.7" x2="909.1" y2="2231.7" stroke="#7e776a" stroke-width="2"/>
<line x1="1546" y1="2231.7" x2="1542.4" y2="2231.7" stroke="#7e776a" stroke-width="2"/>
<line x1="907.5" y1="2222.83" x2="1546" y2="2222.83" stroke="#d8c7a3" stroke-width="1.8" stroke-dasharray="2.2,6.0"/>
<line x1="905.5" y1="2222.83" x2="909.1" y2="2222.83" stroke="#7e776a" stroke-width="2"/>
<line x1="1546" y1="2222.83" x2="1542.4" y2="2222.83" stroke="#7e776a" stroke-width="2"/>
<line x1="907.5" y1="2215" x2="1546" y2="2215" stroke="#d8c7a3" stroke-width="1.8" stroke-dasharray="2.2,6.0"/>
<line x1="905.5" y1="2215" x2="909.1" y2="2215" stroke="#7e776a" stroke-width="2"/>
<line x1="1546" y1="2215" x2="1542.4" y2="2215" stroke="#7e776a" stroke-width="2"/>
<line x1="907.5" y1="2161.94" x2="1546" y2="2161.94" stroke="#d8c7a3" stroke-width="1.8" stroke-dasharray="2.2,6.0"/>
<line x1="905.5" y1="2161.94" x2="909.1" y2="2161.94" stroke="#7e776a" stroke-width="2"/>
<line x1="1546" y1="2161.94" x2="1542.4" y2="2161.94" stroke="#7e776a" stroke-width="2"/>
<line x1="907.5" y1="2135" x2="1546" y2="2135" stroke="#d8c7a3" stroke-width="1.8" stroke-dasharray="2.2,6.0"/>
<line x1="905.5" y1="2135" x2="909.1" y2="2135" stroke="#7e776a" stroke-width="2"/>
<line x1="1546" y1="2135" x2="1542.4" y2="2135" stroke="#7e776a" stroke-width="2"/>
<line x1="907.5" y1="2115.88" x2="1546" y2="2115.88" stroke="#d8c7a3" stroke-width="1.8" stroke-dasharray="2.2,6.0"/>
<line x1="905.5" y1="2115.88" x2="909.1" y2="2115.88" stroke="#7e776a" stroke-width="2"/>
<line x1="1546" y1="2115.88" x2="1542.4" y2="2115.88" stroke="#7e776a" stroke-width="2"/>
<line x1="907.5" y1="2101.06" x2="1546" y2="2101.06" stroke="#d8c7a3" stroke-width="1.8" stroke-dasharray="2.2,6.0"/>
<line x1="905.5" y1="2101.06" x2="909.1" y2="2101.06" stroke="#7e776a" stroke-width="2"/>
<line x1="1546" y1="2101.06" x2="1542.4" y2="2101.06" stroke="#7e776a" stroke-width="2"/>
<line x1="907.5" y1="2088.94" x2="1546" y2="2088.94" stroke="#d8c7a3" stroke-width="1.8" stroke-dasharray="2.2,6.0"/>
<line x1="905.5" y1="2088.94" x2="909.1" y2="2088.94" stroke="#7e776a" stroke-width="2"/>
<line x1="1546" y1="2088.94" x2="1542.4" y2="2088.94" stroke="#7e776a" stroke-width="2"/>
<line x1="907.5" y1="2078.7" x2="1546" y2="2078.7" stroke="#d8c7a3" stroke-width="1.8" stroke-dasharray="2.2,6.0"/>
<line x1="905.5" y1="2078.7" x2="909.1" y2="2078.7" stroke="#7e776a" stroke-width="2"/>
<line x1="1546" y1="2078.7" x2="1542.4" y2="2078.7" stroke="#7e776a" stroke-width="2"/>
<line x1="907.5" y1="2069.83" x2="1546" y2="2069.83" stroke="#d8c7a3" stroke-width="1.8" stroke-dasharray="2.2,6.0"/>
<line x1="905.5" y1="2069.83" x2="909.1" y2="2069.83" stroke="#7e776a" stroke-width="2"/>
<line x1="1546" y1="2069.83" x2="1542.4" y2="2069.83" stroke="#7e776a" stroke-width="2"/>
<line x1="907.5" y1="2062" x2="1546" y2="2062" stroke="#d8c7a3" stroke-width="1.8" stroke-dasharray="2.2,6.0"/>
<line x1="905.5" y1="2062" x2="909.1" y2="2062" stroke="#7e776a" stroke-width="2"/>
<line x1="1546" y1="2062" x2="1542.4" y2="2062" stroke="#7e776a" stroke-width="2"/>
<line x1="907.5" y1="2008.94" x2="1546" y2="2008.94" stroke="#d8c7a3" stroke-width="1.8" stroke-dasharray="2.2,6.0"/>
<line x1="905.5" y1="2008.94" x2="909.1" y2="2008.94" stroke="#7e776a" stroke-width="2"/>
<line x1="1546" y1="2008.94" x2="1542.4" y2="2008.94" stroke="#7e776a" stroke-width="2"/>
<line x1="907.5" y1="1982" x2="1546" y2="1982" stroke="#d8c7a3" stroke-width="1.8" stroke-dasharray="2.2,6.0"/>
<line x1="905.5" y1="1982" x2="909.1" y2="1982" stroke="#7e776a" stroke-width="2"/>
<line x1="1546" y1="1982" x2="1542.4" y2="1982" stroke="#7e776a" stroke-width="2"/>
<line x1="907.5" y1="1962.88" x2="1546" y2="1962.88" stroke="#d8c7a3" stroke-width="1.8" stroke-dasharray="2.2,6.0"/>
<line x1="905.5" y1="1962.88" x2="909.1" y2="1962.88" stroke="#7e776a" stroke-width="2"/>
<line x1="1546" y1="1962.88" x2="1542.4" y2="1962.88" stroke="#7e776a" stroke-width="2"/>
<line x1="907.5" y1="1948.06" x2="1546" y2="1948.06" stroke="#d8c7a3" stroke-width="1.8" stroke-dasharray="2.2,6.0"/>
<line x1="905.5" y1="1948.06" x2="909.1" y2="1948.06" stroke="#7e776a" stroke-width="2"/>
<line x1="1546" y1="1948.06" x2="1542.4" y2="1948.06" stroke="#7e776a" stroke-width="2"/>
<line x1="907.5" y1="1935.94" x2="1546" y2="1935.94" stroke="#d8c7a3" stroke-width="1.8" stroke-dasharray="2.2,6.0"/>
<line x1="905.5" y1="1935.94" x2="909.1" y2="1935.94" stroke="#7e776a" stroke-width="2"/>
<line x1="1546" y1="1935.94" x2="1542.4" y2="1935.94" stroke="#7e776a" stroke-width="2"/>
<line x1="907.5" y1="1925.7" x2="1546" y2="1925.7" stroke="#d8c7a3" stroke-width="1.8" stroke-dasharray="2.2,6.0"/>
<line x1="905.5" y1="1925.7" x2="909.1" y2="1925.7" stroke="#7e776a" stroke-width="2"/>
<line x1="1546" y1="1925.7" x2="1542.4" y2="1925.7" stroke="#7e776a" stroke-width="2"/>
<line x1="907.5" y1="1916.83" x2="1546" y2="1916.83" stroke="#d8c7a3" stroke-width="1.8" stroke-dasharray="2.2,6.0"/>
<line x1="905.5" y1="1916.83" x2="909.1" y2="1916.83" stroke="#7e776a" stroke-width="2"/>
<line x1="1546" y1="1916.83" x2="1542.4" y2="1916.83" stroke="#7e776a" stroke-width="2"/>
<line x1="907.5" y1="1909" x2="1546" y2="1909" stroke="#d8c7a3" stroke-width="1.8" stroke-dasharray="2.2,6.0"/>
<line x1="905.5" y1="1909" x2="909.1" y2="1909" stroke="#7e776a" stroke-width="2"/>
<line x1="1546" y1="1909" x2="1542.4" y2="1909" stroke="#7e776a" stroke-width="2"/>
<clipPath id="ch"><rect x="905.5" y="1902" width="640.5" height="459"/></clipPath>
<g clip-path="url(#ch)">
<polyline points="905.5,2082.4 937.5,2000.8 969.5,2124.5 1001.6,2033.0 1033.6,2087.0 1065.6,2040.7 1097.7,2002.5 1129.7,1963.7 1161.7,2008.4 1193.7,2055.8 1225.8,2062.0 1257.8,2015.9 1289.8,1993.6 1321.8,2004.7 1353.8,1994.9 1385.9,2046.3 1417.9,2167.5 1449.9,2200.0 1482.0,2118.8 1514.0,1981.3 1546.0,2072.5" fill="none" stroke="#FFFF00" stroke-width="3.7" stroke-linejoin="round"/>
<polyline points="905.5,2089.0 937.5,2004.7 969.5,2136.3 1001.6,2019.9 1033.6,2081.7 1065.6,2049.2 1097.7,2016.3 1129.7,1965.7 1161.7,2038.7 1193.7,2058.4 1225.8,2069.2 1257.8,2019.2 1289.8,2004.7 1321.8,2036.3 1353.8,2025.1 1385.9,2062.5 1417.9,2127.5 1449.9,2215.0 1482.0,2046.3 1514.0,1985.0 1546.0,2075.0" fill="none" stroke="#D95319" stroke-width="3.7" stroke-linejoin="round"/>
<polyline points="905.5,2091.6 937.5,2012.6 969.5,2225.8 1001.6,2079.1 1033.6,2062.0 1065.6,2068.0 1097.7,2001.8 1129.7,1974.9 1161.7,2019.0 1193.7,2061.0 1225.8,2074.5 1257.8,2023.2 1289.8,2025.8 1321.8,2013.9 1353.8,2033.7 1385.9,2052.5 1417.9,2067.5 1449.9,2078.8 1482.0,2081.3 1514.0,1991.3 1546.0,2077.5" fill="none" stroke="#77AC30" stroke-width="3.7" stroke-linejoin="round" stroke-dasharray="3.7,4.4"/>
<polyline points="905.5,2102.1 937.5,2017.9 969.5,2186.3 1001.6,2054.7 1033.6,2057.4 1065.6,2071.6 1097.7,2032.1 1129.7,1981.4 1161.7,2045.3 1193.7,2071.6 1225.8,2081.0 1257.8,2025.8 1289.8,2006.7 1321.8,2043.6 1353.8,2036.3 1385.9,2051.3 1417.9,2217.0 1449.9,2127.7 1482.0,2046.3 1514.0,1992.5 1546.0,2081.3" fill="none" stroke="#7E2F8E" stroke-width="3.7" stroke-linejoin="round" stroke-dasharray="3.7,4.4"/>
</g>
<line x1="905.5" y1="2361" x2="905.5" y2="2355" stroke="#7e776a" stroke-width="2"/>
<line x1="905.5" y1="1902" x2="905.5" y2="1908" stroke="#7e776a" stroke-width="2"/>
<line x1="1065.62" y1="2361" x2="1065.62" y2="2355" stroke="#7e776a" stroke-width="2"/>
<line x1="1065.62" y1="1902" x2="1065.62" y2="1908" stroke="#7e776a" stroke-width="2"/>
<line x1="1225.75" y1="2361" x2="1225.75" y2="2355" stroke="#7e776a" stroke-width="2"/>
<line x1="1225.75" y1="1902" x2="1225.75" y2="1908" stroke="#7e776a" stroke-width="2"/>
<line x1="1385.88" y1="2361" x2="1385.88" y2="2355" stroke="#7e776a" stroke-width="2"/>
<line x1="1385.88" y1="1902" x2="1385.88" y2="1908" stroke="#7e776a" stroke-width="2"/>
<line x1="1546" y1="2361" x2="1546" y2="2355" stroke="#7e776a" stroke-width="2"/>
<line x1="1546" y1="1902" x2="1546" y2="1908" stroke="#7e776a" stroke-width="2"/>
<line x1="905.5" y1="2361" x2="911.5" y2="2361" stroke="#7e776a" stroke-width="2"/>
<line x1="1546" y1="2361" x2="1540" y2="2361" stroke="#7e776a" stroke-width="2"/>
<line x1="905.5" y1="2208" x2="911.5" y2="2208" stroke="#7e776a" stroke-width="2"/>
<line x1="1546" y1="2208" x2="1540" y2="2208" stroke="#7e776a" stroke-width="2"/>
<line x1="905.5" y1="2055" x2="911.5" y2="2055" stroke="#7e776a" stroke-width="2"/>
<line x1="1546" y1="2055" x2="1540" y2="2055" stroke="#7e776a" stroke-width="2"/>
<line x1="905.5" y1="1902" x2="911.5" y2="1902" stroke="#7e776a" stroke-width="2"/>
<line x1="1546" y1="1902" x2="1540" y2="1902" stroke="#7e776a" stroke-width="2"/>
<rect x="905.5" y="1902" width="640.5" height="459" fill="none" stroke="#7e776a" stroke-width="2.6"/>
<rect x="1334" y="2189.6" width="212" height="171.4" fill="#f0f0f0" stroke="#262626" stroke-width="2.6"/>
<line x1="1347.6" y1="2214.3" x2="1424.3" y2="2214.3" stroke="#FFFF00" stroke-width="3"/>
<text transform="translate(1428.52,2217.80) scale(1.2681,1)" font-family='"Liberation Sans", Arial, Helvetica, sans-serif' font-size="24.06" font-weight="bold" fill="#000">N</text>
<text transform="translate(1448.78,2229.92) scale(1.2744,1)" font-family='"Liberation Sans", Arial, Helvetica, sans-serif' font-size="18.04" font-weight="bold" fill="#000">ct</text>
<text transform="translate(1476.37,2217.80) scale(1.1780,1)" font-family='"Liberation Sans", Arial, Helvetica, sans-serif' font-size="24.06" font-weight="bold" fill="#000">= 0.0</text>
<line x1="1347.6" y1="2254.6" x2="1424.3" y2="2254.6" stroke="#D95319" stroke-width="3"/>
<text transform="translate(1428.52,2258.10) scale(1.2681,1)" font-family='"Liberation Sans", Arial, Helvetica, sans-serif' font-size="24.06" font-weight="bold" fill="#000">N</text>
<text transform="translate(1448.78,2270.22) scale(1.2744,1)" font-family='"Liberation Sans", Arial, Helvetica, sans-serif' font-size="18.04" font-weight="bold" fill="#000">ct</text>
<text transform="translate(1476.37,2258.10) scale(1.1780,1)" font-family='"Liberation Sans", Arial, Helvetica, sans-serif' font-size="24.06" font-weight="bold" fill="#000">= 0.5</text>
<line x1="1347.6" y1="2294.9" x2="1424.3" y2="2294.9" stroke="#77AC30" stroke-width="3" stroke-dasharray="3.6,4.3"/>
<text transform="translate(1428.52,2298.40) scale(1.2681,1)" font-family='"Liberation Sans", Arial, Helvetica, sans-serif' font-size="24.06" font-weight="bold" fill="#000">N</text>
<text transform="translate(1448.78,2310.52) scale(1.2744,1)" font-family='"Liberation Sans", Arial, Helvetica, sans-serif' font-size="18.04" font-weight="bold" fill="#000">ct</text>
<text transform="translate(1476.37,2298.40) scale(1.1780,1)" font-family='"Liberation Sans", Arial, Helvetica, sans-serif' font-size="24.06" font-weight="bold" fill="#000">= 1.0</text>
<line x1="1347.6" y1="2335.2" x2="1424.3" y2="2335.2" stroke="#7E2F8E" stroke-width="3" stroke-dasharray="3.6,4.3"/>
<text transform="translate(1428.52,2338.70) scale(1.2681,1)" font-family='"Liberation Sans", Arial, Helvetica, sans-serif' font-size="24.06" font-weight="bold" fill="#000">N</text>
<text transform="translate(1448.78,2350.82) scale(1.2744,1)" font-family='"Liberation Sans", Arial, Helvetica, sans-serif' font-size="18.04" font-weight="bold" fill="#000">ct</text>
<text transform="translate(1476.37,2338.70) scale(1.1780,1)" font-family='"Liberation Sans", Arial, Helvetica, sans-serif' font-size="24.06" font-weight="bold" fill="#000">= 1.5</text>
<text transform="translate(889.52,2397.36) scale(1.1060,1)" font-family='"Liberation Sans", Arial, Helvetica, sans-serif' font-size="28.20" font-weight="bold" fill="#000">-1</text>
<text transform="translate(1038.57,2397.64) scale(1.1060,1)" font-family='"Liberation Sans", Arial, Helvetica, sans-serif' font-size="28.20" font-weight="bold" fill="#000">-0.5</text>
<text transform="translate(1217.09,2397.64) scale(1.1060,1)" font-family='"Liberation Sans", Arial, Helvetica, sans-serif' font-size="28.20" font-weight="bold" fill="#000">0</text>
<text transform="translate(1363.96,2397.64) scale(1.1060,1)" font-family='"Liberation Sans", Arial, Helvetica, sans-serif' font-size="28.20" font-weight="bold" fill="#000">0.5</text>
<text transform="translate(1534.85,2397.36) scale(1.1060,1)" font-family='"Liberation Sans", Arial, Helvetica, sans-serif' font-size="28.20" font-weight="bold" fill="#000">1</text>
<text transform="translate(839.79,2373.31) scale(1.0600,1)" font-family='"Liberation Sans", Arial, Helvetica, sans-serif' font-size="27.70" font-weight="bold" fill="#000">10</text>
<text transform="translate(874.68,2360.31) scale(0.9500,1)" font-family='"Liberation Sans", Arial, Helvetica, sans-serif' font-size="21.70" font-weight="bold" fill="#000">-7</text>
<text transform="translate(839.58,2220.31) scale(1.0600,1)" font-family='"Liberation Sans", Arial, Helvetica, sans-serif' font-size="27.70" font-weight="bold" fill="#000">10</text>
<text transform="translate(874.47,2207.31) scale(0.9500,1)" font-family='"Liberation Sans", Arial, Helvetica, sans-serif' font-size="21.70" font-weight="bold" fill="#000">-6</text>
<text transform="translate(839.38,2067.31) scale(1.0600,1)" font-family='"Liberation Sans", Arial, Helvetica, sans-serif' font-size="27.70" font-weight="bold" fill="#000">10</text>
<text transform="translate(874.27,2054.31) scale(0.9500,1)" font-family='"Liberation Sans", Arial, Helvetica, sans-serif' font-size="21.70" font-weight="bold" fill="#000">-5</text>
<text transform="translate(838.96,1914.31) scale(1.0600,1)" font-family='"Liberation Sans", Arial, Helvetica, sans-serif' font-size="27.70" font-weight="bold" fill="#000">10</text>
<text transform="translate(873.86,1901.31) scale(0.9500,1)" font-family='"Liberation Sans", Arial, Helvetica, sans-serif' font-size="21.70" font-weight="bold" fill="#000">-4</text>
<text transform="translate(32.63,259.99) rotate(-90) scale(1,1.1251)" font-family='"Liberation Sans", Arial, Helvetica, sans-serif' font-size="32.63" font-weight="bold" fill="#000">J</text>
<text transform="translate(49.60,241.82) rotate(-90) scale(1,0.9838)" font-family='"Liberation Sans", Arial, Helvetica, sans-serif' font-size="28.00" font-weight="bold" fill="#000">z</text>
<text transform="translate(831.50,262.17) rotate(-90) scale(1,1.2576)" font-family='"Liberation Sans", Arial, Helvetica, sans-serif' font-size="31.58" font-weight="bold" fill="#000">J</text>
<text transform="translate(850.30,244.43) rotate(-90) scale(1,1.0558)" font-family='"Liberation Sans", Arial, Helvetica, sans-serif' font-size="28.24" font-weight="bold" fill="#000">z</text>
<text transform="translate(31.20,878.98) rotate(-90) scale(1,1.0225)" font-family='"Liberation Sans", Arial, Helvetica, sans-serif' font-size="37.50" font-weight="normal" fill="#000">λ</text>
<text transform="translate(831.70,889.15) rotate(-90) scale(1,1.0515)" font-family='"Liberation Sans", Arial, Helvetica, sans-serif' font-size="35.42" font-weight="normal" fill="#000">λ</text>
<text transform="translate(29.50,1497.74) rotate(-90) scale(1,0.9991)" font-family='"Liberation Sans", Arial, Helvetica, sans-serif' font-size="34.38" font-weight="normal" fill="#000">λ</text>
<text transform="translate(837.80,1500.44) rotate(-90) scale(1,0.9869)" font-family='"Liberation Sans", Arial, Helvetica, sans-serif' font-size="33.54" font-weight="normal" fill="#000">λ</text>
<text transform="translate(53.50,2141.14) rotate(-90) scale(1,1.2237)" font-family='"Liberation Serif", "Times New Roman", serif' font-size="32.81" font-weight="normal" fill="#000">Ω</text>
<text transform="translate(823.70,2142.96) rotate(-90) scale(1,1.1017)" font-family='"Liberation Serif", "Times New Roman", serif' font-size="33.28" font-weight="normal" fill="#000">Ω</text>
<text transform="translate(434.96,553.56) scale(1.0292,1)" font-family='"Liberation Sans", Arial, Helvetica, sans-serif' font-size="32.57" font-weight="bold" fill="#000">y</text>
<text transform="translate(1240.72,553.49) scale(1.1819,1)" font-family='"Liberation Sans", Arial, Helvetica, sans-serif' font-size="32.43" font-weight="bold" fill="#000">y</text>
<text transform="translate(433.81,1168.05) scale(1.1802,1)" font-family='"Liberation Sans", Arial, Helvetica, sans-serif' font-size="33.11" font-weight="bold" fill="#000">y</text>
<text transform="translate(1235.94,1168.77) scale(1.1275,1)" font-family='"Liberation Sans", Arial, Helvetica, sans-serif' font-size="32.03" font-weight="bold" fill="#000">y</text>
<text transform="translate(429.16,1785.33) scale(1.1223,1)" font-family='"Liberation Sans", Arial, Helvetica, sans-serif' font-size="29.86" font-weight="bold" fill="#000">y</text>
<text transform="translate(1231.77,1785.53) scale(1.0913,1)" font-family='"Liberation Sans", Arial, Helvetica, sans-serif' font-size="29.86" font-weight="bold" fill="#000">y</text>
<text transform="translate(429.66,2436.84) scale(1.0797,1)" font-family='"Liberation Sans", Arial, Helvetica, sans-serif' font-size="31.22" font-weight="bold" fill="#000">y</text>
<text transform="translate(1221.26,2436.90) scale(1.0831,1)" font-family='"Liberation Sans", Arial, Helvetica, sans-serif' font-size="30.95" font-weight="bold" fill="#000">y</text>
<text transform="translate(432.89,603.42) scale(1.0202,1)" font-family='"Liberation Serif", "Times New Roman", serif' font-size="36.11" font-weight="bold" fill="#000">a)</text>
<text transform="translate(1240.53,602.44) scale(1.0536,1)" font-family='"Liberation Serif", "Times New Roman", serif' font-size="36.02" font-weight="bold" fill="#000">b)</text>
<text transform="translate(430.48,1230.91) scale(1.0163,1)" font-family='"Liberation Serif", "Times New Roman", serif' font-size="37.11" font-weight="bold" fill="#000">c)</text>
<text transform="translate(1231.36,1231.22) scale(1.0529,1)" font-family='"Liberation Serif", "Times New Roman", serif' font-size="36.57" font-weight="bold" fill="#000">d)</text>
<text transform="translate(427.57,1835.57) scale(1.0459,1)" font-family='"Liberation Serif", "Times New Roman", serif' font-size="36.33" font-weight="bold" fill="#000">e)</text>
<text transform="translate(1229.02,1837.15) scale(1.0272,1)" font-family='"Liberation Serif", "Times New Roman", serif' font-size="35.96" font-weight="bold" fill="#000">f)</text>
<text transform="translate(428.29,2488.24) scale(1.0339,1)" font-family='"Liberation Serif", "Times New Roman", serif' font-size="35.27" font-weight="bold" fill="#000">g)</text>
<text transform="translate(1219.88,2489.49) scale(1.0616,1)" font-family='"Liberation Serif", "Times New Roman", serif' font-size="34.81" font-weight="bold" fill="#000">h)</text>
</svg></body></html>
